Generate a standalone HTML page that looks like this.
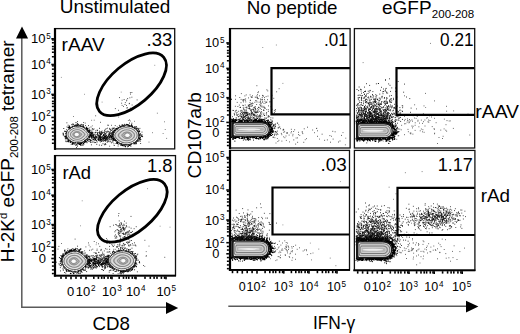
<!DOCTYPE html><html><head><meta charset="utf-8"><style>html,body{margin:0;padding:0;background:#fff;}svg{display:block;}text{font-family:"Liberation Sans",sans-serif;}</style></head><body><svg width="520" height="334" viewBox="0 0 520 334" font-family='"Liberation Sans", sans-serif' fill="#000"><rect x="0" y="0" width="520" height="334" fill="#fff"/><path d="M99 138.6h0M99.2 136h0M93.6 136.3h0M109.9 138.4h0M109.3 137.8h0M104.2 137.6h0M87.7 139.7h0M105.1 138.6h0M87.5 131.4h0M93.9 135.5h0M103.4 136.9h0M105.2 134.9h0M103.5 138.3h0M95.7 142.5h0M105.5 140.8h0M96 134.6h0M98.2 136.7h0M106.1 137.8h0M97.4 133.9h0M96.8 140.9h0M94.5 137.8h0M104.4 132.2h0M101.4 141.2h0M84.9 136h0M100.2 134.4h0M105 136.8h0M89.3 139.6h0M106.4 140h0M112.5 138.2h0M102 132.8h0M105.9 135h0M97.4 133h0M93.3 135.3h0M111.3 130.5h0M89.3 137.8h0M112.5 138.9h0M85.8 128.9h0M103.9 134.6h0M92 140.1h0M109.8 137.5h0M103 138.4h0M113.8 139h0M105.1 138.8h0M88.5 141.1h0M108.6 138.7h0M85.2 135h0M107.7 131.2h0M99.5 140.3h0M90.5 142.2h0M105.4 136.5h0M103.6 139.1h0M102 140.7h0M95.7 135.7h0M109.3 137.1h0M94 140h0M112.7 135.6h0M90 136.6h0M99.8 136h0M112.2 133.7h0M111.1 132.9h0M94.7 139h0M110 139.7h0M103.8 137.5h0M102.2 138.8h0M99.6 137.9h0M105.6 137h0M107.1 138.8h0M117.1 138h0M97.6 135.8h0M100.9 140h0M98.3 138.2h0M115.7 128.8h0M92 137.8h0M104.2 137.8h0M97.6 139.1h0M103.3 135.3h0M120.4 138.1h0M96.6 136.7h0M99.2 136.8h0M79.2 135.4h0M109.1 133.3h0M100.5 140.1h0M107.8 141.8h0M87.4 135.9h0M98.3 139h0M109.7 128.4h0M109.7 132.4h0M106.5 132.2h0M102.4 140.8h0M99.8 137.6h0M107.4 137.5h0M100.3 141.9h0M109.4 136.1h0M123 133.3h0M108.3 136.1h0M102.1 139.3h0M102.8 139h0M88.8 132.2h0M105.9 133.9h0M92.8 132.3h0M111.1 139.4h0M112.8 134h0M101 133.4h0M107.1 142.1h0M93.9 142h0M108.9 136.4h0M85.2 141.5h0M100.2 135.1h0M104.2 138.3h0M113 133.7h0M110.1 141.8h0M112.6 136.4h0M95 140.3h0M101.9 137.4h0M112.4 136.2h0M82.6 135.8h0M86.2 139.6h0M103.5 135h0M100.9 139.7h0M101.6 141.2h0M100.5 140.3h0M112.9 142.2h0M95.6 139.8h0M86 133.5h0M85.3 140.4h0M91.1 137h0M99.5 136.9h0M96.3 137.7h0M115.3 137.1h0M105.2 140.2h0M99.4 133h0M96.6 140.4h0M87.8 135.1h0M109.1 139.5h0M101.1 139.6h0M102.3 133.2h0M88.5 135h0M108.4 135.2h0M93.8 134.5h0M88.7 136.6h0M91.6 138.2h0M82.1 138h0M95.9 130.8h0M106.8 136.1h0M83.2 134.2h0M103.3 135.5h0M107.2 139.4h0M106.3 138h0M111.7 139.1h0M104.6 130.3h0M108.2 141.2h0M98.6 135.5h0M116.5 131.4h0M104.8 144.8h0M93.6 139.2h0M116.1 136.6h0M105.5 139.9h0M93.8 136.7h0M103.3 139.6h0M100.7 136.4h0M92.9 135.9h0M108.1 137.3h0M94.2 134.3h0M122.3 140.6h0M106.1 128.7h0M106 138.5h0M114.5 138.4h0M100.5 138.7h0M85.4 140.3h0M103.6 134.8h0M111.6 142.8h0M89.8 134.9h0M103.3 137.6h0M97.8 133.9h0M118 140.3h0M91.4 132.7h0M114.6 140.2h0M115.6 139.6h0M94 137.8h0M83.7 134.6h0M100.5 138.7h0M95.2 136.6h0M104.7 138.2h0M106.1 137.7h0M98.4 139.5h0M101.4 134.4h0M96 137h0M100.1 137.5h0M101 137.6h0M99.9 133h0M104.4 140.4h0M104.5 136.4h0M104.6 133.9h0M85.8 137.2h0M93.6 139.4h0M92.3 128.6h0M92.7 142h0M97.9 132.6h0M94.9 138.7h0M105 137.6h0M112.9 139.3h0M100.8 138.9h0M114.2 140.1h0M109.2 133.5h0M99.8 139.3h0M98.6 140.4h0M105.8 139.9h0M99.3 145.1h0M110.9 136.3h0M101.7 145.3h0M98.3 139.8h0M108.8 137h0M91.7 137.6h0M103.9 140.6h0M107.3 137.1h0M107.8 138.7h0M102.6 137.2h0M99.1 139.2h0M92.6 135h0M101 132.3h0M97.5 130.6h0M95.5 138.8h0M105.5 136.8h0M99.1 132.5h0M115.6 138.7h0M109.7 134.2h0M99.5 131.2h0M107.2 140h0M85.8 136.8h0M106 131.4h0M86.4 133.6h0M96 132.5h0M101.3 137.8h0M106.1 139.2h0M113 140.7h0M90.5 135.4h0M92.5 133.6h0M100.3 137h0M104.9 131.9h0M91.1 136.9h0M99.4 136h0M100.5 134.6h0M106.6 138.1h0M100.3 134.8h0M99.6 128.3h0M93.1 137.1h0M89 137.6h0M102.2 132.6h0M99 136h0M104.7 139h0M100.7 134.3h0M99.8 136.8h0M106.9 137.9h0M95.2 132.7h0M98 134.6h0M92.1 136.6h0M97.1 137.3h0M105.2 135.7h0M119.6 136h0M109.8 137.4h0M109.9 129.4h0M95 137.8h0M105.8 144.5h0M103.6 141.1h0M107.1 140h0M105.1 136.5h0M105.1 133.5h0M110.5 133.7h0M103 143.8h0M99.2 137.1h0M110.3 137.1h0M94.5 137.8h0M105.7 139.3h0M94.8 142.6h0M114.3 137.1h0M103.1 135.6h0M112.3 134.7h0M106.4 135.5h0M95.4 139.3h0M111.7 137h0M95.6 139.6h0M100.6 138h0M113.2 140.6h0M96.8 144.3h0M101 139.5h0M95.8 136.9h0M87 142.7h0M111.9 133.1h0M89 131.8h0M110.4 135.5h0M100.5 136h0M100 133.5h0M101.2 132.4h0M100.4 138h0M104.7 136.3h0M93.8 137.5h0M97.1 142h0M107.1 136.6h0M97.2 134.8h0M93.5 135.9h0M103.4 138.6h0M105.6 143.7h0M95.4 137h0M123.4 131h0M96.8 137.5h0M102.2 138.3h0M99.1 138.2h0M101.4 139.5h0M85.9 134.2h0M101 133.7h0M92.6 139h0M95.8 139h0M107 138h0M105.1 136.7h0M89.7 136.9h0M104.6 135.3h0M100.2 139.4h0M94 139h0M115.9 135.2h0M102.2 136.5h0M113.3 138h0M108.2 134.8h0M100.9 137h0M86.8 141.6h0M108.2 131.4h0M107 136.6h0M104.6 138.2h0M89 136.3h0M112.9 135.2h0M92.8 132.6h0M93.9 267.9h0M99.7 263.1h0M104.3 259.2h0M105.8 263.4h0M85.1 264.2h0M102.7 263.6h0M111.5 260.5h0M102.4 264.7h0M90.3 266.3h0M85.7 257.3h0M102.4 258.1h0M97 256.1h0M98.6 257.9h0M100.9 256.5h0M101.8 261h0M98.5 261.8h0M99.1 257.2h0M76.2 262.1h0M90 260.4h0M101.6 254.9h0M91.5 259.8h0M89 263.2h0M96.8 259h0M89.6 264.9h0M92.4 264.1h0M101.8 255.2h0M88.8 262h0M100.9 264.8h0M104.8 265.7h0M94.8 261.2h0M104.6 260.5h0M107 256.3h0M103.6 261.4h0M81.3 265.5h0M100.6 262.1h0M88.8 260.3h0M110.9 259h0M68.5 258.9h0M87.8 261.5h0M94.7 258.7h0M90.8 265.8h0M85.7 269h0M93.4 258.1h0M104.7 264h0M89.1 264.7h0M82.4 258.7h0M107.6 261.1h0M86.9 263.9h0M105.8 261.9h0M82.6 260.8h0M101.6 264.8h0M113.8 261.1h0M93.9 261.9h0M108.3 258.6h0M109.1 252.1h0M104.8 259.6h0M101.9 264.5h0M87.9 261.7h0M100 264.1h0M90.1 258.4h0M81.6 271.1h0M96.4 261.2h0M85.3 265.3h0M93.5 267.2h0M105.2 262.1h0M104.2 258h0M95.2 259.9h0M87.2 262.1h0M96.8 267.2h0M69.5 259.6h0M90.2 260.3h0M101.6 263.5h0M98.2 260.3h0M102.2 263.3h0M82.3 261.1h0M86.3 257.7h0M99.2 262.2h0M99 258.8h0M96.3 258.7h0M101.2 264.5h0M112.9 266.6h0M91.2 260.4h0M90 263.1h0M114.8 264.6h0M79.3 257.5h0M87 263.9h0M98 263.1h0M113.1 259h0M90.8 269.1h0M100.9 259.2h0M80.8 256.5h0M77.2 262.2h0M98.4 265.6h0M96.8 259.5h0M91.7 268.8h0M83 262.6h0M98.2 264.2h0M94.6 263.8h0M104.9 261.5h0M94.1 261.3h0M89.8 261.3h0M95.4 262.8h0M109.4 266.7h0M94.2 264.2h0M100.5 264.7h0M98.2 263h0M94 259.2h0M105.4 266.7h0M103.6 263.6h0M100.3 260.4h0M82.8 264.4h0M99.7 260h0M89.8 266.6h0M82.7 268.3h0M103.4 270.5h0M91.9 261.9h0M93.7 262.6h0M96.2 259.3h0M107.1 259.2h0M93.7 264h0M93.4 260.4h0M101 260.7h0M87.4 261.6h0M96.1 268.1h0M88.7 265.5h0M91.3 260.7h0M95.2 263h0M105.3 268.3h0M92.6 266.8h0M106.5 264.9h0M91.5 265.2h0M97.1 263.3h0M95.7 264.4h0M107.5 266.1h0M96.3 265.6h0M110.3 258.6h0M110.5 257.2h0M102.6 264.1h0M110.6 263h0M93.9 259.1h0M87.4 264.8h0M96 259.4h0M102.5 259.2h0M94.3 260.3h0M112.1 267.3h0M96.7 256.3h0M100.4 262.3h0M101 264h0M95.3 265.3h0M105.1 262.8h0M94.5 260.3h0M103.9 258h0M96.6 259.3h0M86.2 264.2h0M97.8 262.1h0M105.4 256.6h0M97.4 263h0M105.1 258.1h0M104.1 262.8h0M109.5 266.1h0M102.7 269.7h0M98 260.5h0M95.1 258.6h0M97.8 255.2h0M97.3 263.5h0M106.4 260.7h0M109.8 259.7h0M96.9 255.2h0M91.5 259.2h0M110.4 263.9h0M88.8 263.9h0M102 261.2h0M98.2 260.9h0M93.5 255.8h0M97.2 266.5h0M109.9 261h0M91.8 261.3h0M105.4 263.2h0M93.2 263.3h0M96.3 263.8h0M94.6 256.8h0M98.5 264.7h0M88.8 261.6h0M105.3 260.7h0M92.6 269.1h0M104.9 265.6h0M90.2 267.7h0M84.3 260.2h0M104.1 266.7h0M90.3 259.7h0M99.6 255.2h0M103.3 264h0M94.3 263.9h0M104.4 263.1h0M102.3 267.3h0M94.1 262.6h0M93.7 265.6h0M94.6 263.7h0M99.1 262.2h0M112.1 261.7h0M109.7 264.9h0M108.9 261.4h0M105.6 264.6h0M92.9 262.9h0M96.9 261.9h0M108.7 259.5h0M84.2 255.9h0M94.3 259.8h0M98.1 264h0M112.4 263.1h0M101.8 259.4h0M102.8 266.7h0M109 255.2h0M105.3 267.5h0M104.8 256.8h0M95.5 264h0M101.4 259.2h0M90.7 265.4h0M87.1 267h0M98.2 263h0M87.1 259.9h0M103.6 256.9h0M114.9 257.1h0M88 262.1h0M101.9 264.5h0M95 261.3h0M96.1 260h0M76.9 265.3h0M100.1 262.5h0M92.9 262.9h0M97.9 261.7h0M107 256h0M100.1 258.3h0M95.4 267.2h0M89.1 261.7h0M93.2 265.3h0M90 256.2h0M102.2 260.8h0M95.4 265.7h0M90.8 260.7h0M99.2 263.4h0M93.8 265.6h0M116.3 260.6h0M113.3 254.7h0M109.5 260.8h0M99.1 260.8h0M92.8 257.6h0M94.8 266.5h0M107.3 260.8h0M93.7 259.6h0M88.2 268.2h0M103.4 262.4h0M94 258.5h0M108.7 264.7h0M90.2 265.4h0M89 264.2h0M90.2 260.6h0M102 263.5h0M106.3 259.1h0M110.9 266.6h0M97.9 263.6h0M91.7 261.5h0M87.2 262.3h0M99.6 266.6h0M105.7 264.8h0M95 261.2h0M95.2 262.8h0M82.2 264.7h0M85.2 260.2h0M98.2 260.2h0M111.6 261.7h0M110.8 266.1h0M93.9 263.4h0M108.6 260.8h0M98.7 260.1h0M98.5 260.8h0M98.7 265.5h0M109.4 262.5h0M99.6 265h0M95.6 258.3h0M107.1 258.8h0M105.6 258.7h0M112.9 258.4h0M104.9 267.2h0M90.2 267.1h0M91.3 255.9h0M103.9 264.4h0M96.3 253.3h0M97.6 260.9h0M94.9 261h0M83.4 260h0M112.7 267.3h0M95 259.5h0M101.2 265.7h0M103.9 258h0M99.3 262.5h0M109.7 266.1h0M102.3 266.2h0M94.8 267.3h0M94.5 263.4h0M105.5 258.8h0M92.3 255.9h0M99.3 261.8h0M95.3 263.7h0M80.7 261.9h0M98.7 261.1h0M104.5 268.1h0M94.4 258.8h0M93.1 262.3h0M102.8 259h0M106.2 258.5h0M104.7 263.5h0M101.8 269.5h0M95.8 261.4h0M101.9 265h0M87.1 263h0M91.9 264.2h0M109.2 262.2h0M97.1 262.6h0M73.9 264.7h0M102.6 262.6h0M94.8 259.5h0M96.5 266.2h0M97.2 266.7h0M77 260.4h0M100.2 262h0M84.5 259.7h0M108.2 257.5h0M89.9 258.2h0M93.5 264.2h0M102.8 255h0M109.9 260h0M93.2 267.8h0M97.3 257.7h0M92.8 259.5h0M89.8 260.8h0M105.2 263.2h0M86.7 271.6h0M89.9 262.4h0M98.3 264.6h0M95.3 263.6h0M115.2 262.3h0M89.2 263.1h0M91.4 260.7h0M99.5 263.2h0M95.7 264.9h0M96.4 257.5h0M105.2 260.7h0M107.9 259.7h0M102.7 263.1h0M76 256.8h0M88.9 266.9h0M82.6 265.2h0M106.9 263.7h0M103.5 260.3h0M97.9 262.8h0M101.4 264.4h0M96.3 259.6h0M93.4 263.4h0M84.4 257.7h0M94.6 260.1h0M95.8 252.8h0M95.2 261.1h0M104.3 255.2h0M95.5 263.6h0M102 266.1h0M106.6 258.4h0M103.2 260.8h0M91.4 267.3h0M92.9 259h0M94.7 259.1h0M106.2 263.3h0M109.4 263.4h0M93 265.6h0M92.6 260.4h0M96.6 262.1h0M107.8 259.9h0M100.9 261.9h0M87.7 258.2h0M96.2 263.4h0M376.6 118.8h0M361.4 108.4h0M381.5 115.6h0M385.5 120.8h0M371.7 110.7h0M368.7 113.8h0M387.6 109.5h0M383.7 110.2h0M366.3 110.8h0M364.8 115h0M377.3 114.4h0M381.1 124.7h0M374.9 111.9h0M370.9 116.5h0M368.7 122h0M386.5 125.8h0M379.1 105.3h0M371.4 119.9h0M363.5 114.3h0M383.6 117.6h0M359.7 114.4h0M358.6 116.7h0M359 112.9h0M366.9 129.2h0M359 111.8h0M366.6 121.6h0M382.4 120h0M369.2 117.5h0M363.9 116.2h0M363.5 110.6h0M361.3 125.4h0M377.6 113.7h0M371.7 115h0M387.3 116.8h0M365.5 120h0M376.7 114h0M363.9 117.6h0M384.8 120.8h0M386.1 115h0M366 115.8h0M367.3 122.6h0M370.3 122.9h0M364.6 118.6h0M392 113.7h0M365.3 114.3h0M365.4 126.6h0M367.3 107.6h0M384 121.1h0M372.5 118.2h0M381.4 114.5h0M373.4 117.6h0M392.4 123.1h0M374.9 111.1h0M383.3 116.7h0M386.7 117.2h0M375.1 119.8h0M364.4 114.1h0M399.9 113.2h0M383.9 119.9h0M382.6 122.9h0M357.2 121.1h0M376.9 121.5h0M385.7 112.9h0M369.7 116.3h0M364.8 113.4h0M365.2 122h0M388.9 120.2h0M392.7 117.3h0M360.2 114.1h0M375.3 121.4h0M387.2 113h0M384.2 114.6h0M380 121h0M390.4 114.6h0M375.8 118.8h0M368 117.3h0M380 109.7h0M365.4 127h0M378.3 114.5h0M379.1 119.9h0M378.2 119.5h0M365.9 123.9h0M359.7 119.2h0M369.8 109.5h0M383.6 115.7h0M381.3 122.5h0M374.9 114h0M370.4 116.6h0M390 120.7h0M391.6 120.3h0M364 121h0M384.4 116.4h0M378.4 115.5h0M358.1 116.5h0M382 115.4h0M385.8 117.9h0M386.2 113.6h0M368 112.6h0M363.8 119.2h0M374.6 114.8h0M376.5 111.2h0M368.4 110.4h0M360 123.8h0M389.2 122.4h0M366.1 119.7h0M359.6 114.6h0M375.8 109.9h0M375.3 119.6h0M369.7 116.4h0M374.7 112h0M379.7 117.5h0M364.3 124.1h0M376 120.2h0M394.9 114.8h0M370.4 109.3h0M370.3 118.8h0M402.6 119.4h0M375.4 111.4h0M362.9 108.8h0M356.7 117.4h0M376.5 112.9h0M370.4 113.4h0M380.3 119.7h0M366.4 114.9h0M358.5 114.9h0M398.8 116.9h0M383.1 119.5h0M390.4 115.5h0M362.3 121.5h0M383.9 114h0M385.9 116.9h0M372.5 125h0M379.3 118.3h0M369.2 117.8h0M385.5 118.9h0M364 118.9h0M371.6 118.3h0M370.7 107.4h0M397 120h0M367.5 118.4h0M384.7 117.8h0M357.5 121.2h0M366.7 114.4h0M375.3 115.6h0M397.2 116.3h0M398.5 118.9h0M358.3 116.9h0M373.6 123.2h0M388.2 128.1h0M365.1 115h0M400.7 113h0M377.2 124h0M361 115.4h0M364.1 119.2h0M377.8 116.8h0M380.8 113.5h0M368.5 119h0M397 116.8h0M373.7 122.7h0M373.9 122.6h0M375.8 122h0M375.2 112.9h0M362.8 118.8h0M395.4 125.1h0M369.2 127.9h0M359.7 113.2h0M384.1 110.2h0M383.9 118.6h0M380.5 111.6h0M377.6 121.1h0M372.4 121.5h0M373.3 118.4h0M369.2 111h0M371.1 119.1h0M363.9 108.3h0M370.3 113.6h0M387.8 116.2h0M362.5 116.1h0M362.1 117.2h0M378.5 114.4h0M370.6 116.2h0M382.9 113.8h0M382 122.4h0M370.7 112.7h0M369.3 109.1h0M366.5 111.7h0M371 115.3h0M379.2 117.4h0M378.1 116.7h0M376.4 111.9h0M380.9 122.7h0M386.3 111h0M378 109.8h0M382.1 116h0M367.5 113.6h0M370.2 116.9h0M361.5 117.2h0M376.1 119.3h0M372.5 116.9h0M400.7 121.4h0M376.9 110.8h0M380.4 119.5h0M377.6 117.1h0M374.2 116.3h0M389.6 118.6h0M369.6 115.9h0M398 113.1h0M366.7 118.4h0M374.8 118.3h0M389.3 122h0M378.1 117.1h0M372.3 115.9h0M385.1 111.3h0M360.5 114.9h0M361.5 113.7h0M387.3 107h0M379.9 111.1h0M370.1 114.4h0M361.1 110.4h0M373.9 103.8h0M386.2 125.2h0M369.5 113.4h0M369.6 119h0M384.2 112.7h0M378.7 116.8h0M386.7 115.1h0M370.5 113.2h0M357.1 118.1h0M381.5 121.9h0M376.2 114.9h0M362 111.8h0M364.3 118.4h0M374.1 106.8h0M371.8 115.7h0M360.5 116.9h0M379.4 112.4h0M356.8 115.5h0M376.2 115.8h0M391.5 117.6h0M361 120.4h0M365.2 120h0M374.2 122.4h0M361 120.2h0M378.1 112.9h0M381.4 127h0M377.3 113.5h0M371.2 122.7h0M376.1 123.5h0M365.2 122.8h0M369.5 114.8h0M387.7 114.3h0M377.2 125.2h0M382.9 115.1h0M364.2 108h0M377.6 120.9h0M386.3 118h0M398.9 120.4h0M382.6 115.2h0M383.1 128.4h0M363.9 126.8h0M372 110.4h0M374.2 121h0M366 124h0M362.5 116.1h0M384.1 116h0M366.3 116.9h0M380.9 124.7h0M389.3 125.3h0M372.7 109.6h0M372.5 115.1h0M361.1 114.7h0M372.2 117.2h0M384 112.9h0M386.8 117.2h0M381.8 122.5h0M358.1 124.1h0M364.4 118.8h0M386.1 121.1h0M386.6 116.4h0M372 117.3h0M392.7 114.5h0M361.7 112h0M366.7 115.9h0M377.2 116.6h0M381.2 120.2h0M356.7 121.2h0M380.1 109.5h0M379.1 116.8h0M367.6 115.3h0M370.3 116.5h0M362.2 114.4h0M379.7 119.4h0M357 114.8h0M391.8 120.2h0M392.8 110.9h0M360.5 107.2h0M360.4 112.1h0M364.6 116.2h0M383 119.5h0M369 112.5h0M372.6 115.2h0M356.3 124h0M366 114.3h0M379.5 124.5h0M378.8 112.9h0M378.3 122h0M377.6 119.9h0M367.2 116.7h0M359.3 117h0M391 106.9h0M357.1 112.8h0M371.9 122.2h0M363.7 113.5h0M387.6 118.7h0M379.3 120.7h0M364.1 118h0M365.1 113.7h0M374.6 119h0M357.7 113.5h0M380.3 117.7h0M381 115.6h0M363.3 120.5h0M380.2 104.2h0M383.4 113.6h0M381 124.1h0M369.6 112.6h0M376.1 117.4h0M379.8 110.7h0M376 121h0M381.4 119.8h0M387.4 113.3h0M387.7 117.9h0M361 115.7h0M376.3 118.5h0M389.3 117.9h0M366.9 126.9h0M369 113.3h0M384.2 115.1h0M363.5 112.2h0M387.3 112.2h0M374.2 114.9h0M370.7 113.3h0M374.8 119.7h0M385.7 115.4h0M359 110.3h0M373.1 105.8h0M389 117.1h0M374.5 110.7h0M365.3 113.6h0M381.2 115.2h0M380.5 119.3h0M388.2 114.7h0M374.6 116.4h0M358.3 126.9h0M371.5 119.9h0M367.7 123.3h0M386.9 122.3h0M384.5 120.2h0M389.7 118.8h0M374.7 120.7h0M362.3 105.5h0M382.8 117.7h0M364.6 115.8h0M361.6 113.2h0M375.3 117.5h0M383.1 116.6h0M380.7 120.1h0M364.7 109.4h0M364.9 115.9h0M366.7 127h0M364.9 119.1h0M363.9 120.1h0M357.9 121.3h0M375.3 115.2h0M358.8 124.5h0M366.2 123.5h0M394.9 125.1h0M373.3 121.5h0M380.4 115.4h0M374.7 111.8h0M357 117.6h0M381.9 117.7h0M358.4 120.8h0M374.2 120.4h0M369.7 115.8h0M385.7 123.2h0M358.7 112h0M384.7 118.6h0M373.8 112.6h0M385.3 117.8h0M375.7 118.7h0M366.9 118.8h0M374.7 120.2h0M377.7 111.2h0M364.7 115.8h0M387.1 114.1h0M386.7 121.9h0M383.6 127.2h0M373 118.4h0M387.8 118.8h0M385.1 116.4h0M390.1 118.6h0M370.9 113h0M369.6 115.7h0M386.9 118.5h0M372.3 116.9h0M362.4 114.1h0M367.6 116h0M359.2 115.2h0M385.2 119h0M373.2 118.6h0M370.3 111.6h0M383.7 127.1h0M379.3 120.1h0M402.6 111.5h0M379.5 115.5h0M369.9 109.5h0M372.2 118.8h0M367.3 112.5h0M380.7 124.4h0M378.2 121.6h0M382.3 116.7h0M380.1 123h0M368.1 116.3h0M356.7 108.6h0M363.4 121h0M377.5 118.2h0M388.9 109h0M389.6 117.4h0M382.4 123.2h0M363.5 113.1h0M378 116.7h0M366.2 116.4h0M364.5 117.6h0M368.6 124.7h0M360.7 119.6h0M374.1 124.1h0M361.6 114.9h0M393.8 114h0M368.6 115.2h0M361.5 122.5h0M391.2 116.3h0M364.2 110.9h0M381 114.6h0M379.7 106.1h0M368.1 119.8h0M378.1 104.1h0M376.7 117.6h0M372.9 115.5h0M367.9 117.6h0M379.5 241.8h0M391.6 238.1h0M370.5 241.3h0M371.8 236.8h0M365.2 231.9h0M375 241.2h0M380 235.9h0M377.8 234.7h0M357.8 233.3h0M369 237.6h0M391.2 243.1h0M397.7 239.7h0M376.1 233.4h0M378 243.2h0M379.9 232.1h0M386.1 245.9h0M385.1 248.5h0M363.2 238.4h0M383 243h0M390.6 238.3h0M364.6 238.1h0M364.3 239.3h0M368.8 242.1h0M364.5 242.7h0M363.6 243.9h0M387.4 238.8h0M370.3 240.3h0M378.2 234.8h0M381.3 231.4h0M358.9 234.1h0M375.2 235.5h0M366 237.6h0M376.8 240.4h0M379.8 233.7h0M376.6 242.9h0M381.8 244.9h0M375.3 248.5h0M387.2 238.4h0M373.9 243.4h0M358.2 237.5h0M365.8 243.8h0M379.6 240.2h0M387.5 237.9h0M362 242.7h0M372.7 232.4h0M375.2 235.4h0M389.2 242.1h0M383.7 243h0M372.9 243.5h0M380.2 241.3h0M385.7 247h0M381.2 235h0M370.4 236.7h0M384.6 245.5h0M374.3 236.2h0M366.1 238.2h0M375.2 240h0M375 240.4h0M364.1 238.5h0M360.9 239.9h0M375.7 237.3h0M374.7 243.1h0M373.7 246.8h0M387.3 239.5h0M370.6 234.2h0M360.1 239.8h0M374.4 240.4h0M392.9 240.7h0M377.7 238.1h0M359.9 237.1h0M371.8 241.9h0M381.1 234.9h0M371.7 242.1h0M386.7 240.5h0M398.8 234.8h0M383.8 238.3h0M375.7 237.9h0M387.4 237.7h0M381.7 239h0M366.7 240.6h0M385.6 244.8h0M387.2 232.2h0M357.1 238h0M387.1 231.4h0M374.6 234.2h0M382.3 243.2h0M369.7 244.5h0M381.9 238.4h0M390.3 247.6h0M372 240.1h0M377 242.3h0M368.2 238.1h0M387.2 238.6h0M388.8 240.2h0M393.5 245h0M359.3 241.9h0M370.2 236.7h0M383.4 243.3h0M379.3 243.5h0M392.5 240.5h0M380.5 241h0M391.1 235.6h0M372.3 234.2h0M366.5 240.5h0M368.9 236.1h0M370.4 243.6h0M397.9 239.6h0M364.5 239.9h0M365.8 240.4h0M381.4 246.9h0M364.3 238.6h0M363.3 243.4h0M361.9 244.3h0M394.7 232.3h0M386.2 248.3h0M374.5 238.9h0M397.4 238.3h0M372.1 235.5h0M381 244.4h0M364 242.5h0M379.3 245.4h0M372.1 236.1h0M376 241h0M370.1 235.4h0M380.9 232.7h0M359.5 238.7h0M357.1 241.1h0M378.3 244.6h0M363.3 240.2h0M387.6 235.9h0M377.8 243.7h0M386.6 238.9h0M377.6 236.3h0M379.8 240.8h0M367.1 248.7h0M381 235.8h0M373.8 241.1h0M360.9 235.5h0M382.2 238.8h0M372.6 243.3h0M370.2 233.2h0M360 238.5h0M371 237.6h0M362.8 232.1h0M370.4 240.8h0M376.6 241.6h0M408.6 234.4h0M366 239.8h0M372.2 251.9h0M372.2 238.7h0M373.4 238.2h0M365.3 243.5h0M377.3 240.4h0M370.1 231.5h0M367.7 230.1h0M365.8 240.5h0M370.2 239.4h0M392.2 241.3h0M385.3 237.8h0M369.3 233.5h0M391 243.7h0M372.4 241h0M376.3 244.6h0M379.4 238.7h0M360.7 229.2h0M387.6 236.2h0M370.4 241.6h0M392.6 229.6h0M371.5 237.1h0M383.1 237.5h0M360.5 233.5h0M397.1 233h0M369.5 243.9h0M373.2 230.9h0M373.3 238.9h0M389.3 235.7h0M359.8 239.9h0M380.9 238.7h0M372.5 234.1h0M356.5 240.3h0M390 242.3h0M402.2 235h0M376.3 235.6h0M383.2 244.4h0M372.4 242.8h0M370.1 242h0M389.1 238.9h0M365.6 236.8h0M385 242.6h0M379.1 236.7h0M381.8 239.6h0M368.8 235.8h0M378.8 236h0M388.8 231.7h0M360.9 239.8h0M356.2 236.5h0M368 239.7h0M389.8 237.3h0M366.9 244.3h0M372.9 242.2h0M373.7 236.9h0M365.6 235h0M363.5 239.7h0M372.5 242.2h0M374.3 240.7h0M362.5 232.4h0M385.2 246.3h0M369.5 242.5h0M362.4 235.3h0M377.7 242.5h0M380 243.5h0M374.1 238.4h0M374.1 235.4h0M368.7 232.2h0M358.9 242.2h0M366.4 229.7h0M359.3 242.2h0M372.2 238.7h0M380.1 243.7h0M369.3 240h0M397 241.5h0M366.5 235.6h0M367.5 243.7h0M367.9 241.6h0M375.3 232.6h0M367.1 230.9h0M371.2 235.9h0M384 231.6h0M376.4 235h0M367 232.1h0M395.2 238.1h0M374 248.3h0M361.8 237.9h0M368 241.1h0M382 239.3h0M387.2 237.7h0M357.5 232.1h0M383.2 237.6h0M378.8 241.9h0M362.1 244.3h0M381.9 245.7h0M381.6 234.3h0M380 239.5h0M369.9 240.7h0M392.8 244.3h0M368 242h0M385.4 239.6h0M386.1 241.4h0M367.7 244.7h0M370.1 237.1h0M368.4 231.7h0M385.8 234.1h0M382 240.4h0M377.5 237.8h0M361.5 240.2h0M382.4 238.8h0M384.7 229.2h0M362 228.3h0M367.8 239.7h0M357.7 236.8h0M371.9 235.7h0M370.2 242.9h0M373.1 243.3h0M378.3 236.9h0M373.9 242.8h0M366.2 236.3h0M387.8 242.4h0M380.8 236.9h0M370.8 240.6h0M378 242.6h0M359.8 242.6h0M360.9 235.1h0M367.2 236.8h0M385.6 243.9h0M398.5 236.2h0M374.9 244.4h0M395.8 243h0M364.2 238.7h0M374.8 236.2h0M360.5 243.7h0M362.5 243.3h0M360 235.8h0M395.5 236.4h0M368.3 242.5h0M386.7 242.3h0M390.8 238.5h0M379.4 234.8h0M369.2 238.9h0M399.5 236.3h0M363.5 238.2h0M365.3 239.2h0M366.7 234h0M364.5 231.2h0M393.4 244.6h0M371.6 239.9h0M381.3 240.3h0M362.2 235.4h0M382.8 237.9h0M378.1 237.4h0M383.6 238.4h0M376 241.4h0M389.1 237.1h0M362.3 235h0M391.9 238.6h0M360 233.8h0M377.7 240.4h0M377.8 234.4h0M364.7 238.9h0M368.3 239.3h0M368.9 238.8h0M375.2 241.6h0M388.6 238.8h0M387.5 241.6h0M389 239.1h0M399.7 241.2h0M369.1 243.4h0M364.5 242.5h0M357.4 237.9h0M371.7 243.7h0M363.2 240.4h0M386.5 231.7h0M391.8 238.7h0M375.6 246.9h0M372.3 242h0M388.2 245h0M387.9 236.6h0M377.6 233.2h0M358.1 237.8h0M369.3 236.7h0M363.7 245.9h0M357.1 241.2h0M357.7 240.3h0M362.7 232.1h0M388 237.9h0M370.9 240.4h0M409.3 237.2h0M373.1 237.7h0M394.1 241.6h0M366 240h0M367.5 235.8h0M391.6 238.3h0M366 244.8h0M369.6 243.1h0M359.3 237.4h0M383.9 246.1h0M369.3 237.1h0M385.7 238.5h0M366.1 238.1h0M370.2 236.9h0M386.2 245.7h0M361.9 236.3h0M371.3 235.9h0M374.1 239.6h0M372.9 236h0M376.6 233.9h0M368.3 238.4h0M373.5 242.4h0M370.7 234.9h0M378 238.4h0M382.5 245.7h0M391.5 238.9h0M360.9 239.9h0M370.6 236h0M361 243.2h0M385.9 235.2h0M377.9 238.7h0M374.6 242.9h0M364.1 238.1h0M385.6 237.3h0M364.6 232.8h0M378.1 236.1h0M361.1 237.1h0M363.8 250.8h0M366.1 242.1h0M357.3 242.4h0M377.2 237.4h0M400.2 235.1h0M359.6 227.4h0M372.1 242.1h0M371.9 235.8h0M361 245.6h0M367.4 246h0M371.6 237.5h0M368.3 241h0M382.7 237.5h0M379.1 233.8h0M367.1 236.3h0M381.4 237.5h0M367.6 237.7h0M396.3 241.3h0M377.2 230.1h0M365.8 242.1h0M359.7 233.8h0M378.1 235.1h0M374.6 231.3h0M368.2 246.3h0M371.4 239.5h0M371 241.9h0M364.6 235.2h0M375.2 239.9h0M368.2 242.9h0M372.9 233.9h0M368.2 241.7h0M385.5 238.2h0M380.7 244.3h0M376.4 244.8h0M380.8 235.1h0M357.7 235.6h0M393.7 243.7h0M361.8 238.8h0M398.1 235.7h0M373 237.6h0M383.3 231.4h0M377 239.7h0M386.9 240.7h0M377.6 235.2h0M376.4 236.9h0M395 240.3h0M373.4 239.6h0M373.9 237.4h0M380.9 238.9h0M362.1 242.6h0M382.2 243.6h0M368 242.8h0M391.5 241.6h0M377.9 238.8h0M372.3 243.2h0M379.5 236.9h0M375.7 238.6h0M364.2 238.9h0M383.5 234.4h0M368 238.9h0M360.7 235.3h0M378.6 247.6h0M374.1 236.9h0M392.5 239.6h0M390.9 247.2h0M413.2 243h0M369.1 236.4h0M368.3 234.7h0M361.8 240.4h0M374.8 239.8h0M371.2 233.1h0M380 239.1h0M383.1 239.7h0M361 242.8h0M382.7 238h0M381.9 240.8h0M367.4 239.9h0M364 244.4h0M367.8 242.9h0M395.1 239.3h0M381.4 244.9h0M380.6 234.2h0M375.2 247.7h0M374.5 244.6h0M386.2 236.5h0M377.7 246h0M363.7 239.5h0M366.6 236.9h0M370.9 230.5h0M365.6 232.2h0M361.6 236.8h0M385.9 234.7h0M384 237.4h0M363.9 232.3h0M375.2 238.7h0M382.9 236.6h0M389.6 239.2h0M374.9 241h0M376.5 249.4h0M372.1 241.1h0M384.3 241.2h0M369.3 235.1h0M384.7 236.4h0M378.3 236.3h0M380.7 244.4h0M363.1 235.9h0M384.8 235.5h0M386.2 240.6h0M362.4 236.8h0M389.5 242.4h0M375.3 239.9h0M386.7 236.6h0M377.7 240.9h0M389.7 237.6h0M371.2 240.1h0M370.9 238.1h0M380.2 237.1h0M370.2 240.1h0M375 237.6h0M372.5 234.2h0M364.5 236.2h0M360.3 245.1h0M399 238.1h0M372.4 238.5h0M369.2 236.8h0M384.5 241.2h0M357.9 239.9h0M363.4 241.6h0M364.2 240.3h0M364.6 238.3h0M377.9 241.8h0M356.8 236.9h0M363.6 232.3h0M376.4 238.2h0M369.9 235.8h0M395 235.5h0M377 234.7h0M371.8 229.9h0M370.4 239.3h0M362.1 234.6h0M360.6 236.9h0M386.2 239.4h0M365.9 237.1h0M382.9 236.3h0M362.6 242.1h0M373.4 244.3h0M370.5 237.8h0M378.5 239.8h0M373.8 235.3h0M365.3 236h0M367.4 244.1h0M362.4 240.9h0M378.7 232.8h0M385.7 239.9h0M377.9 239.8h0M385.4 240.6h0M365.5 236.5h0M363 235.9h0M363 239.9h0M385 238.2h0M385.8 243.5h0M381.6 232.5h0M379.3 233.4h0M364.4 239.9h0M373.1 233.9h0M372.7 233.1h0M370.3 241.5h0M376.6 236.7h0M380.9 246.7h0M369.9 239.5h0M384.3 241.4h0M387.6 235h0M369.5 239.2h0M385 244.6h0M381.3 233.9h0M359.2 242.1h0M357.1 244.1h0M382.8 239.3h0" stroke="#000" stroke-width="1" stroke-linecap="round" fill="none"/><path d="M83.9 134.7h0M124.7 135.1h0M104.4 144.2h0M93.7 129.6h0M108.4 135.7h0M86.8 127.2h0M105.1 134.2h0M82.7 132h0M93.4 135.3h0M99.4 132.6h0M96.1 138.3h0M120.5 131.2h0M112.8 129.2h0M102 136.7h0M122.2 131.1h0M100 134h0M80 133.1h0M91.5 134.9h0M85.2 123.1h0M101.5 134.3h0M93.3 137.4h0M97.2 130h0M107.7 125.2h0M91.5 132.9h0M112.9 132.2h0M105.3 129.7h0M105.2 141.3h0M91.4 144.8h0M92 133.1h0M103.4 138.1h0M83.7 122.5h0M109.5 137h0M109.7 146.2h0M103.9 134.3h0M114 134.8h0M124.3 126.8h0M95.7 115.8h0M112.4 131.1h0M113.9 143.8h0M100.9 131.7h0M94 128.8h0M92.2 136.2h0M101.5 133.3h0M98.6 137.6h0M107.9 132.3h0M110.3 132.2h0M84.9 140.3h0M107.5 128.2h0M116.1 134.7h0M79.1 141h0M105.7 137.5h0M103.8 132.3h0M79.3 137.9h0M101.4 131.6h0M105.9 133.4h0M110.5 131.1h0M100.5 122.3h0M95.1 136.4h0M119.7 131.2h0M99.3 140.9h0M96.4 136.7h0M124.5 133.2h0M118.2 129.4h0M103.9 132.6h0M102.6 138.6h0M134.5 129.7h0M92.9 135.5h0M86.2 135.5h0M109 131.6h0M108.4 125.3h0M111.6 125.3h0M91.2 130.2h0M95.4 137.3h0M102.1 131h0M108.6 140.9h0M101.1 134.8h0M118.4 134.3h0M83 145.5h0M131.9 123.1h0M100.5 135.1h0M104.8 257.8h0M99 252.4h0M107 249.2h0M69.5 253.1h0M67.7 252h0M82.2 251.8h0M97 250.4h0M89 245.1h0M101.1 249.9h0M106.6 238.6h0M81 256.4h0M100 255.6h0M66.3 256.3h0M101.2 249.4h0M113.8 254.7h0M98.4 252.4h0M109.6 255.6h0M122.1 257.6h0M84.9 253.7h0M117.5 252.9h0M106.1 258h0M94.2 241.5h0M100.8 256.2h0M100.9 250.6h0M123.7 254.2h0M84.7 250.8h0M105.6 248.7h0M76.7 266.6h0M125.9 261.1h0M127 258.5h0M62.1 261.9h0M124.4 257.8h0M56.4 262.2h0M127.1 252.1h0M100.7 259.5h0M96.2 261.4h0M99.7 259h0M99.8 246.4h0M76.8 273.4h0M103.9 262.6h0M122.3 265h0M109.8 251.5h0M98.4 243.8h0M94 260.3h0M115.6 262.7h0M78.2 251.2h0M58 249.1h0M109.4 267h0M73.5 263h0M107.1 252.1h0M144.9 240.3h0M96.6 256.3h0M143.5 265.5h0M146.4 255.8h0M119 263h0M108.9 257.1h0M94.1 252.6h0M71.7 266.4h0M88.5 242.9h0M103.6 254.8h0M101.8 265.6h0M95.7 253.5h0M82 254.9h0M88.6 256.2h0M164.8 257.3h0M79.7 266.3h0M116.5 259.8h0M113.3 259.8h0M112.4 263.2h0M119.5 262.9h0M87.3 255h0M82.4 260.6h0M115.8 252.3h0M110.5 270.3h0M124.5 248.5h0M96 258.7h0M97.2 257.3h0M123.3 256.9h0M74.5 259.2h0M95.9 255.7h0M85.9 246.9h0M71.3 252.9h0M75.1 239.1h0M122.6 248.2h0M82.5 258.1h0M81.5 258.9h0M87.7 256.8h0M100.3 255h0M58.9 246.4h0M97.1 263.2h0M86.3 258.1h0M101.5 257.8h0M119.3 246.2h0M103.9 254h0M91.3 250h0M81.2 249h0M74.5 269.7h0M134.4 255.1h0M113.9 249.3h0M101 263.4h0M97.1 249.1h0M92.8 249.2h0M68.1 253.6h0M89.4 250.3h0M79 249.6h0M103.1 263.1h0M93.5 268.1h0M63.3 256.6h0M73.2 254.1h0M100.2 258.3h0M122.2 251.8h0M71.4 253.9h0M104.3 250.9h0M117.2 264.8h0M67.5 257.1h0M119.8 243.8h0M102.4 253.7h0M67.5 262.7h0M102.7 252.2h0M107.5 258.8h0M246.2 94.9h0M243.5 129.5h0M253.3 111.2h0M266.9 89.8h0M246.2 111h0M235.3 106.3h0M242.2 120.3h0M254.3 116h0M243.6 119.2h0M248 112.7h0M261.1 105.9h0M242.9 99.9h0M255.3 115.2h0M245.7 112.5h0M260.3 117.2h0M243.3 99.7h0M243 100.8h0M255.9 124.9h0M254.4 107.5h0M260.8 102.5h0M255.9 109.9h0M251.3 97.5h0M261.9 112.9h0M248.4 124.7h0M254.5 114.7h0M260.4 113.7h0M243.8 108.9h0M257.7 112.5h0M258.7 109.7h0M251.1 120.1h0M260.2 115.3h0M245.9 114h0M246.3 110h0M255.1 111.5h0M235.5 95.8h0M246.2 117.5h0M245.2 117h0M245.2 105h0M269.1 116.3h0M250.8 110.1h0M256.8 96h0M247.4 122.2h0M259.1 102.2h0M245.6 116.2h0M236.5 113.1h0M241.3 93.6h0M260.4 112.6h0M257.5 94.7h0M236.6 110.3h0M246.3 130.8h0M241.3 112.4h0M255.6 112.3h0M262.5 95.4h0M261.1 106.9h0M241 116.6h0M243.8 128.2h0M248.3 120.6h0M262.6 99.4h0M243.6 115.2h0M244.8 121.4h0M251.1 103.7h0M247.8 118.4h0M243.6 129h0M243.6 112.3h0M248.5 126h0M264.6 115.4h0M258.7 107.5h0M271 106.7h0M258.3 112.1h0M260.2 108.5h0M244.8 99.4h0M267.8 90.9h0M275.3 109.5h0M247 114.8h0M244.9 95.9h0M249.7 113.7h0M259.4 95.8h0M255.5 109h0M254 110.4h0M243.6 101.9h0M257.8 110.6h0M262 116.2h0M231.6 99.1h0M241.8 133.9h0M244.3 117.2h0M254.4 115.3h0M248.2 106.5h0M256.2 112.6h0M247 124.1h0M264.9 107.7h0M250.1 108.8h0M238 122.6h0M240.6 111h0M258.7 98.6h0M249.8 118.7h0M268 96.1h0M260.7 100h0M257.5 111.6h0M244.3 122.8h0M270 101.8h0M250.6 100.3h0M269.9 101.9h0M242 121.6h0M235.1 112h0M235.7 130.1h0M271.7 94.9h0M243.5 109h0M248.3 116.7h0M262.9 95.8h0M250.1 94.9h0M266.8 102.1h0M250.4 124.4h0M255.7 120.4h0M268.4 116.8h0M244.3 114.2h0M255 106.8h0M264.6 97.6h0M266.7 115h0M241.1 110.4h0M255.3 106.9h0M251.2 106.3h0M252.9 113.9h0M256.7 100.8h0M248.2 105.1h0M245.2 100.5h0M263.8 110.3h0M248.4 105.7h0M245.2 107.4h0M242.4 129.2h0M242.5 119.7h0M252.5 95.8h0M234.9 123.1h0M237.2 129.8h0M247.4 113h0M250 106h0M249.5 108.5h0M264 103.4h0M249.8 106.3h0M243.2 107.7h0M258.5 123.2h0M263.9 106.4h0M272.1 109.3h0M253.5 107.8h0M242 117h0M243.4 100.1h0M246 130.1h0M255.9 112.6h0M252.4 105.7h0M260.3 115.6h0M250.7 115.2h0M260.5 101.6h0M251.1 103.9h0M256.7 104.5h0M260.7 99h0M267.6 99.7h0M240.5 107.5h0M255.6 100.7h0M274.3 110.6h0M252.2 97.3h0M249.2 104.9h0M235.5 121.7h0M271.9 95.6h0M264.5 115.4h0M241.3 112.1h0M256.3 112.1h0M241.4 117h0M254.2 117.4h0M234.2 113.6h0M245.9 110.1h0M257 102h0M276.7 91.8h0M263.9 113.3h0M260.8 103.9h0M242.9 112.1h0M259 107.7h0M259.8 111.4h0M240 107.5h0M264.6 99.6h0M242.8 131h0M240.5 107.3h0M257.6 97.2h0M247 121.7h0M252.6 132h0M262.3 128.9h0M253.5 109.8h0M244.9 111.5h0M247 112.2h0M255.2 97.1h0M235.6 99.3h0M266.6 102.3h0M251.7 109.6h0M263.1 107.5h0M259.8 104.7h0M250.6 110.2h0M237.3 126.8h0M232.9 110.4h0M258.8 107.2h0M266 118.4h0M275.3 111.1h0M256.9 125.8h0M243 113.6h0M261.1 103.7h0M249.6 108h0M256.9 85.7h0M268.3 111.5h0M253.2 114.4h0M246.3 122.6h0M279.1 88.7h0M265.6 102.9h0M247 108.1h0M245.8 101.9h0M244.3 128.5h0M253.7 114.1h0M256.7 111.9h0M233.6 110.5h0M261.7 114.2h0M238.7 111.3h0M243.7 119.8h0M255.5 108.6h0M246.8 115.6h0M249.7 104.5h0M253 103.6h0M263.6 110h0M247.2 117.5h0M250.2 104.6h0M237.2 102.4h0M242 117.9h0M261.8 99.7h0M254.8 111.7h0M261.3 109.5h0M266.8 109.6h0M245.8 116.5h0M254.2 114.1h0M251.9 117.4h0M262.2 97.6h0M247.5 114.5h0M257.4 108.7h0M256.1 97.5h0M263.7 114.7h0M264.5 107.8h0M251 114h0M245.7 98.9h0M245.9 112.6h0M243.6 105.7h0M248.4 108.4h0M252.5 109.3h0M257.2 116.3h0M254.8 112.3h0M250.4 116.8h0M246.5 107.1h0M242.8 122.4h0M247.6 114.3h0M265.1 108.5h0M273.8 98.3h0M263.9 110.4h0M245.7 113.5h0M242.8 105.3h0M252.3 103h0M266.1 96.6h0M246.9 113.3h0M247 112.9h0M241 102.7h0M268.6 105.9h0M251.9 105.9h0M251.6 112.8h0M235.5 110.9h0M247.6 123.3h0M245.6 123.5h0M256.9 131.9h0M251.3 110.6h0M268.4 109.8h0M257.6 97.8h0M269.1 116.7h0M249.3 107h0M244.7 122.6h0M254.9 108.6h0M245.4 127.6h0M260.6 105.7h0M263.3 96.1h0M257.3 98.6h0M265 101.3h0M262.7 101.2h0M259.9 116.3h0M243.4 115h0M246.7 120.1h0M244.7 110.2h0M254 119.4h0M241.6 114.8h0M246.8 107.6h0M243.6 112.6h0M248.6 97.9h0M250.2 100.4h0M260.1 126.4h0M242.2 114.2h0M252.9 118.3h0M241.1 99.4h0M236.7 119h0M258.2 116.5h0M249 117.4h0M246 124.4h0M248.9 105.5h0M259.8 121.7h0M239.3 105.1h0M237.9 106.5h0M252.7 112.8h0M251.1 112.2h0M262.7 102.3h0M231.6 99.5h0M252 103.9h0M251 114.1h0M251.1 96.5h0M242.8 115.1h0M254.6 118.9h0M239.8 97.5h0M257.9 92.6h0M243.7 117.4h0M250.2 133h0M256.2 112.7h0M255.4 128.1h0M254.9 102.3h0M258.5 91.8h0M247.2 114.9h0M250 102.4h0M272.8 113h0M244 117.2h0M244.2 109.9h0M262.2 106.2h0M251.3 111.3h0M244.6 124.4h0M249.1 123h0M274.1 128.6h0M272.6 130.1h0M270.6 119.8h0M278.1 127.9h0M283.8 129.9h0M269.9 130.7h0M287.1 133.4h0M267.6 127.6h0M277.3 123h0M276.7 132.6h0M278.8 124.8h0M269.9 122.6h0M266.4 129.6h0M274.2 134.4h0M275.6 126.5h0M275 127.9h0M268.1 122.9h0M277.7 123.3h0M277.4 131.1h0M271.8 120.1h0M276.4 134.9h0M269.1 121.9h0M280.4 128.7h0M270.3 134h0M272.4 130.2h0M271.6 124.4h0M275.3 123.9h0M281.3 133.4h0M286.8 132.9h0M283.5 129.3h0M271.4 130.3h0M268.4 131.6h0M271.4 129.3h0M269 127.4h0M279.8 127h0M270 129.4h0M279.2 127.1h0M267.1 120.5h0M266.1 133.2h0M273.5 130.4h0" stroke="#222" stroke-width="0.9" stroke-linecap="round" fill="none"/><path d="M91.3 140.7h0M77.8 123.8h0M77.1 125.6h0M66 141.6h0M64.3 136.2h0M95.2 132.7h0M91.8 131.7h0M77.5 146.2h0M73 143.5h0M69.7 127.1h0M72.6 144.5h0M76.4 126.3h0M66.6 136.6h0M68.9 141.7h0M82.5 125.2h0M92.7 129.8h0M65.9 140.9h0M86.3 139.3h0M85.6 125.6h0M66.1 139h0M79 125.7h0M90.5 139.6h0M63.2 133.7h0M76.6 125.6h0M81 125.7h0M83.5 125.3h0M89.9 135.8h0M89.8 141.6h0M90.4 140.9h0M70.5 141h0M68.1 125.2h0M67 126.9h0M90.4 134.6h0M68.7 127.6h0M86.4 129.1h0M66.9 122.8h0M68.4 139.1h0M82.5 144.8h0M92.8 137.3h0M77.3 124.3h0M73.2 124.3h0M76.4 147.5h0M77.4 121.6h0M69.1 127.4h0M66.8 137.9h0M85.9 141.3h0M72.9 123.9h0M83.2 126.7h0M91.1 142.4h0M90.6 140.6h0M75.5 143.1h0M92 136h0M88.5 125.6h0M93 134.7h0M77.1 145h0M89 137.8h0M91 127h0M68.5 141.3h0M70.9 141.8h0M79.9 125.1h0M74.4 125.7h0M71.2 144.4h0M90.8 133.9h0M67 141.7h0M86.8 141.9h0M67.3 138.7h0M69.2 126.2h0M70.1 128.5h0M83.9 144.3h0M84.9 142h0M109.7 134.5h0M116 140.2h0M141.4 136.3h0M139.7 131.2h0M131.5 124.7h0M131.9 125.8h0M133.7 127.7h0M123.5 144.3h0M138 131.1h0M117.2 128.9h0M127.3 144.8h0M115.5 129.9h0M113.4 134h0M110.2 135.7h0M140.5 135.8h0M142 132.1h0M118.1 146h0M118.3 144.2h0M110.1 141.2h0M109 134.9h0M117.5 129h0M141.2 135.8h0M114.2 127.9h0M127.1 124.7h0M132 126.3h0M117.4 128.1h0M137.5 130.6h0M112.2 141h0M136.1 142.5h0M124.7 125.9h0M116.6 128.8h0M141.9 136.4h0M110.7 136.1h0M116 143.5h0M114.1 132.3h0M140.5 133.7h0M112.3 128.2h0M131.4 126.4h0M134.5 126.7h0M129.9 144h0M125.6 144.4h0M110.5 129.4h0M131.7 144.3h0M139.7 135.1h0M112.6 134.4h0M129.5 120h0M130 144.5h0M139.9 128.4h0M115.2 125.6h0M128.6 146.5h0M129.1 125.4h0M119.8 126.4h0M112.3 136.2h0M140.2 137.8h0M140.7 143.5h0M116.3 128.5h0M124.5 145.8h0M120.2 144.4h0M112.9 136.3h0M137.7 141.4h0M130.8 125.9h0M137.5 130.1h0M140.2 141.3h0M131.5 125.3h0M131.8 124.1h0M134.9 128.6h0M141.9 135.7h0M120.2 143.9h0M109.7 134.4h0M126 144.7h0M82.1 272.3h0M85.1 252.8h0M60.6 265.6h0M87.9 255.9h0M63 264.5h0M88.3 259.3h0M66.4 252.9h0M79.7 251.1h0M61.6 255.7h0M74 250.3h0M80.9 272.4h0M60.5 270.9h0M66.5 253.5h0M75.2 251h0M77.4 246.2h0M90.7 266h0M64.7 250.3h0M65.8 273.1h0M68.3 251.6h0M67.4 250.4h0M83.7 270.2h0M66.8 252.5h0M64.1 254.7h0M80 249.5h0M83.2 267.8h0M85.2 266.5h0M79 273.4h0M60.3 267.6h0M60.3 263h0M64.3 267.1h0M79.3 270.6h0M72.8 251.4h0M73.8 272.2h0M64.6 272.5h0M61.5 256.7h0M92 260.1h0M78.4 273.2h0M85.5 255.8h0M78.5 270.8h0M59.3 264.9h0M59 263.8h0M85.1 270.5h0M78.4 250.1h0M89.3 263.1h0M86.1 258.1h0M80.1 270.5h0M89.9 261.4h0M89.3 266h0M81.6 252.2h0M90.1 260.1h0M65.4 269.8h0M89.3 265.8h0M65 250h0M68.9 250.7h0M74.8 272h0M86.9 258.6h0M88.2 262.1h0M78.9 250.7h0M89.2 259.7h0M69.9 251h0M71.9 249.9h0M75.1 271.1h0M62.5 254.8h0M66.3 269.5h0M81.4 271.4h0M89.3 257.5h0M68.9 252.6h0M68 252.4h0M124.1 270.6h0M130.7 268.4h0M118.1 273.7h0M109.7 249.3h0M107.2 264.4h0M123.6 271.6h0M134.5 265.2h0M136.3 256.6h0M137.8 254.1h0M109.2 272.2h0M139.7 262.9h0M131.4 270.2h0M126.6 269.7h0M123.6 273.8h0M130.3 249.4h0M114.3 268.5h0M121 274h0M131.1 270.4h0M107.9 255.2h0M135 257h0M136.9 258.3h0M131.8 267.2h0M136.4 266.5h0M108.1 259.6h0M139.5 261.5h0M120.3 248.3h0M136.7 263.3h0M113 268.3h0M109.3 270.6h0M126.3 270h0M110.4 256.5h0M128 269.3h0M137.3 271.8h0M108.6 261.6h0M120.6 271.5h0M136.9 264.6h0M134.2 267h0M114.1 251.6h0M120.9 273.6h0M112.4 252.8h0M129.5 269.4h0M116.4 269.4h0M136.1 255.7h0M117.9 246.4h0M115.1 252.3h0M137.2 254.8h0M136.3 259.4h0M123.7 250h0M123.4 250.2h0M128.1 269.5h0M121 270.7h0M107.8 262.5h0M114.7 268.4h0M128 269.3h0M135.4 261.4h0M120.3 272.2h0M107.1 267.1h0M119.9 251h0M106.1 258.3h0M134.3 257h0M114.1 269.3h0M113.1 273.5h0M104.6 263.4h0M132.8 254.9h0M105.5 259.5h0M135.2 258.1h0M107 265.2h0M126.4 250.5h0M429.8 208.3h0M450.3 209.3h0M437 226.2h0M447.4 215.4h0M449.5 212.2h0M447.5 214.2h0M433.2 211.6h0M434.2 217.1h0M458.2 220.1h0M449.4 215.4h0M457.1 215.5h0M454.5 210.6h0M446.2 211.3h0M436.9 215.1h0M422 217.7h0M440.9 208.4h0M439 215.4h0M424.4 213.1h0M450.3 214.1h0M438.2 215.4h0M438 211.2h0M438.6 207.3h0M441.6 214.6h0M426.8 209.3h0M442.2 214h0M433.8 213.5h0M442.3 220.5h0M435.9 207.5h0M431.3 211.8h0M444.4 220.8h0M443.6 212.2h0M449.5 214h0M428.4 215.1h0M460.3 215.8h0M433.2 219.2h0M432.3 221h0M447.1 210.2h0M436 214.3h0M432.1 217.5h0M437.7 223.4h0M442.8 220.1h0M449.7 217.9h0M448.2 212.9h0M450 220.2h0M450.7 213.5h0M434.6 221h0M439.4 227.1h0M445.2 210.9h0M446.4 217h0M421.4 213.4h0M418.4 227.5h0M428.5 212.3h0M436.8 212.4h0M452.1 214.8h0M426.1 219.3h0M443.4 209.7h0M449.3 210.1h0M431.2 222.4h0M435.2 216.2h0M431.9 214.6h0M420 214.6h0M432.3 220h0M435.7 212.3h0M435.3 207.6h0M444 208.2h0M427.9 217.1h0M436.9 224.8h0M426.3 217.4h0M457.7 213.1h0M427.1 220.4h0M458.4 212.6h0M448.3 218.9h0M441.2 219.6h0M437.4 218.8h0M437.5 215.2h0M429.3 215.7h0M439 212h0M432.8 214.3h0M453.9 218h0M446.6 221.7h0M446.9 223.3h0M454 219.2h0M439.1 216.6h0M439.2 212.7h0M424.9 217.8h0M426.8 219h0M457.2 216.4h0M430.8 213.2h0M446 215.6h0M435.8 217.1h0M428.6 211.5h0M443.9 212.8h0M446.2 213.9h0M440.8 215.3h0M452.5 214.8h0M440.9 211h0M441.4 215.3h0M443 207.1h0M446.2 216.3h0M443.1 217.7h0M450 211.7h0M434.9 217.1h0M425.4 225.7h0M420.3 218.3h0M435.3 218.8h0M454.8 224.2h0M433.1 216.3h0M432.6 210h0M441.3 213.3h0M427.9 214.5h0M434.1 211h0M442 218.3h0M443.7 213h0M431.2 206h0M446.9 220.3h0M431.5 210h0M428.3 222.1h0M438.1 214.1h0M440.7 216h0M436.9 215.2h0M446.3 220.1h0M429.3 215.4h0M439.3 216.8h0M463.3 219h0M447.3 215.5h0M445.4 221.3h0M451.9 212.4h0M441.7 217.5h0M429.6 214.5h0M435.5 219.9h0M440.5 224.7h0M445.3 214.1h0M442.7 216.4h0M432.3 217.6h0M426.6 216.8h0M435.5 216.4h0M433.3 223.5h0M433.6 219.4h0M440.7 221.1h0M433.4 210.5h0M446.8 220.5h0M456.6 222.4h0M440.4 212.1h0M445 208.5h0M437 218.7h0M453.4 214.3h0M438 210h0M438.8 213h0M440.2 212.7h0M444.4 215.5h0M433.5 218.5h0M445.2 214.9h0M438.3 219.5h0M444.9 215.3h0M459 213.9h0M427.6 213.2h0M442.1 208.4h0M458.3 220h0M430.8 217.6h0M427.8 215.8h0" stroke="#000" stroke-width="0.9" stroke-linecap="round" fill="none"/><path d="M67.1 137.2h0M79.3 144.4h0M72.2 126.3h0M87.6 140.4h0M84.5 127.8h0M68.7 141.7h0M78.4 143.8h0M85.4 141.8h0M72.1 142.9h0M79.4 142.7h0M83.1 124.6h0M90.2 140.5h0M90.1 130.2h0M89.3 135.8h0M82.5 142.5h0M68.8 141.6h0M86.4 128.5h0M80.1 126.1h0M68.7 128h0M80.4 143h0M81.5 142.8h0M81.7 143.4h0M90.5 134.9h0M83.3 143.6h0M64.6 131.3h0M89.7 137.1h0M66.2 131.7h0M74 126.3h0M68.1 139h0M90.2 132.6h0M67.6 138.9h0M86.5 128.2h0M81.8 142.1h0M87.5 130.8h0M67.2 138.6h0M87.5 129.2h0M66.9 131.8h0M70.4 127.7h0M69.5 128.6h0M75.6 142.5h0M66 133.3h0M66.2 135h0M86.2 139.5h0M90.4 132.1h0M89.1 136.3h0M68.1 127.4h0M83.8 126.3h0M80.4 144.7h0M83.6 143.8h0M80.6 143.9h0M68.6 140.7h0M89.1 129.3h0M91.4 136.4h0M90.1 135.9h0M65.8 131.5h0M69.6 128.2h0M66.7 129.7h0M66.1 138.1h0M90.6 135.4h0M79.2 143.8h0M83.6 143h0M66.1 136h0M67.1 138.2h0M89.7 135.9h0M69.1 126.7h0M80.2 125.3h0M69.3 140.6h0M90.8 132.3h0M91.7 134.3h0M90.3 133.8h0M63.3 135.1h0M84.3 141.8h0M71 141.3h0M78.5 124.6h0M75.8 145.3h0M89.3 131.1h0M81 142.4h0M72.4 143.6h0M89.3 132.1h0M72.8 126.4h0M80.6 126h0M70.4 141.1h0M87.3 128.3h0M87 129.6h0M68.9 139.6h0M81.5 126.4h0M63.8 128.5h0M83.8 142.9h0M77.4 123.7h0M77.7 143.5h0M72 127.3h0M73.4 142.4h0M84.8 140.4h0M87.7 130.2h0M86 139.8h0M91.5 135.5h0M70.5 141.4h0M80.1 144.3h0M81.5 143.2h0M88.7 132.4h0M78.5 143.1h0M70.2 127.8h0M76.8 144.2h0M90.6 134.9h0M70.3 142.4h0M76.7 125.1h0M78.1 143.1h0M66.5 132.8h0M80.2 126h0M92.8 135.1h0M85.9 140.9h0M70.1 127.3h0M82.7 126.7h0M74.1 143.4h0M75.2 124.9h0M90.9 134.7h0M64.8 136.7h0M87.3 138.6h0M79.4 143.9h0M78 126h0M76.7 144.6h0M64.9 131h0M65.6 133.2h0M81 145.4h0M87.2 129.2h0M79 142.8h0M72.3 142.5h0M86.8 129.6h0M88.4 130.7h0M91.5 133.6h0M65.5 136.3h0M86.4 127.4h0M73.2 144h0M80.8 142.8h0M88.1 131.1h0M88.5 132h0M71.4 141.5h0M89.4 135.9h0M76.9 124.6h0M89.6 137.2h0M83.1 126.7h0M86 129.1h0M88.5 131.2h0M81.2 142.5h0M82.6 126.6h0M69.7 127.7h0M74.9 144.3h0M81.6 143.6h0M73 142.2h0M77.5 142.8h0M72.4 143.2h0M92.1 132.7h0M69.5 128.9h0M79.8 125.6h0M71.1 141.7h0M80.8 144.2h0M84.2 142.5h0M90.3 134.5h0M91.8 133.5h0M81.4 126.7h0M83.2 143h0M83.7 127.8h0M80.6 142.8h0M74.2 126h0M70.5 128.3h0M81.2 124.4h0M69.4 127.9h0M68 140.3h0M91 135.5h0M81.2 142.5h0M63.3 134.4h0M66.1 136.7h0M66.7 132.9h0M69.5 126h0M84.8 127.7h0M71.9 127.5h0M66.5 137.9h0M66.5 136.5h0M86.7 130.1h0M74 143.2h0M84.8 141.3h0M78.2 143.5h0M85 142.2h0M76 122.6h0M87.8 138.6h0M69.3 140.1h0M65.3 138.7h0M82 142.5h0M81.3 142.8h0M81 126.4h0M73.3 124.8h0M66.8 136.4h0M77.3 125.4h0M89.1 130.3h0M77.9 125.5h0M88.1 128.3h0M79.9 125.5h0M71.9 124.6h0M69.8 128.3h0M89.3 139.4h0M75.1 125.3h0M65.4 137.2h0M68.3 127.5h0M89.5 131.6h0M67.6 141.2h0M66.1 135h0M66.9 132.3h0M63.1 133.1h0M88.6 139.2h0M75.5 125.6h0M111.3 134.1h0M114.4 139.8h0M120.8 126.9h0M139.4 134.3h0M117.5 142.8h0M115.4 140h0M121.7 126.1h0M118.3 142.1h0M125.3 125.2h0M130.1 126.5h0M116 140.3h0M128.2 125.6h0M113.1 132.2h0M128.1 145.6h0M117.6 128.7h0M122.1 145.4h0M112 132.7h0M117 143.5h0M125.7 145.8h0M114.6 138.5h0M123.7 126.3h0M112.1 136.3h0M113.3 139h0M116.7 142.8h0M132.2 126.9h0M136.7 130.1h0M132.6 126.7h0M138.1 132.6h0M118.9 128.2h0M134.4 143h0M134.1 143.9h0M136.7 130h0M136.5 129h0M137.7 128.3h0M129.1 125.9h0M121.2 126.2h0M136.6 128.1h0M114 132.9h0M134.8 143.1h0M134.2 142.9h0M111.5 135.8h0M134.3 128.4h0M113 132.1h0M119.2 127.2h0M113.8 139.5h0M117 128.4h0M140.2 137.2h0M138.9 130.9h0M113.2 136h0M138 128.4h0M116.7 129.3h0M112.4 136.5h0M113.3 134.2h0M113.4 138.5h0M122.4 144.9h0M132.6 126h0M124.1 145.3h0M129.4 126.2h0M119.6 143.3h0M114.1 130.9h0M123.8 126h0M135.9 129h0M122 143.9h0M113.7 128.4h0M118.6 127.5h0M113.9 128.2h0M114.2 130.1h0M120.4 126.8h0M111.7 137.6h0M138.9 137.5h0M128.2 124.5h0M116.6 142.1h0M125.3 146.3h0M121.5 144.9h0M113.9 138.6h0M114.2 132.3h0M140.3 138h0M113 131.2h0M116.3 140.4h0M112.1 129.1h0M111.9 136.6h0M129.3 145.4h0M133.4 142.8h0M120.9 127.2h0M134.8 128.5h0M136.4 143.6h0M126.6 144.7h0M128 125.9h0M122.8 125h0M138.6 140.9h0M139 130.9h0M125.6 146.7h0M139.2 136h0M139.1 140.7h0M121.2 143.6h0M134.7 127.6h0M114.2 131.8h0M113.9 138.1h0M129.9 125.9h0M113.5 139.7h0M115.8 141h0M129.5 123h0M139 133.7h0M122.1 126.1h0M115.1 129.8h0M120.8 145.3h0M113.6 138.9h0M120.6 126.3h0M123 145.8h0M138.8 135.4h0M113.8 130.7h0M132.5 127.2h0M131.3 125.7h0M123.9 145.7h0M138.7 129.5h0M117.8 143.6h0M130 125.7h0M115.5 130h0M129.8 145.5h0M111.1 137.7h0M137.6 140.5h0M127.6 146.8h0M111.6 134.1h0M112.6 136.4h0M130.7 144.3h0M113.1 132h0M114.9 140.1h0M138.3 137.8h0M117.1 128.9h0M129.2 125.4h0M117.9 143.7h0M138.7 134.7h0M135.8 127.1h0M125.1 144.5h0M127.5 124.6h0M131.8 126h0M138.6 137.5h0M138.6 138.3h0M113 132.4h0M139.1 131.9h0M115.2 140.4h0M136.1 142.3h0M114.1 132.4h0M115.6 140.5h0M112 138.2h0M142 134.7h0M118.2 142.3h0M138.3 128.7h0M139.7 138.4h0M140.7 134.3h0M139.4 139h0M139.6 131.2h0M126.7 124.3h0M136.4 141.2h0M135.8 142.4h0M134.5 143.2h0M119.4 125.3h0M130.4 144h0M138 131.4h0M134.9 128.1h0M113.5 137.7h0M116.3 128.6h0M112.4 137.8h0M111.1 136.6h0M138.7 138.8h0M123 125.7h0M134.9 128.5h0M124.3 144.8h0M133 127.2h0M112.5 135.7h0M139 134h0M139.5 139.1h0M129.4 145.5h0M130.1 145.1h0M114.2 145.5h0M137.6 131h0M140.8 139.6h0M124 125.2h0M142.6 136.6h0M139.4 135.4h0M132.7 126.6h0M114.2 138.1h0M135.5 143.7h0M131.5 143.8h0M130.9 146.1h0M112.2 135.5h0M124 144.8h0M122.1 124.7h0M138.1 139.2h0M124.4 124.3h0M139.2 138.8h0M136 126.6h0M110 135.7h0M113.1 136.3h0M132.7 126.5h0M117 141.9h0M114.5 130.4h0M113.2 134.6h0M135.7 142h0M136.2 126.5h0M126.1 124.8h0M140.2 139.7h0M110.6 135.6h0M138.9 136.5h0M138.6 133.4h0M136.9 141.3h0M136.7 140.7h0M122 126.7h0M115.5 130.7h0M79.8 252h0M74.9 271.5h0M62.6 257.9h0M86.5 258.5h0M85.1 256.6h0M65.7 254.1h0M68.1 252.7h0M65.6 253.1h0M68.8 251.4h0M87.5 260.5h0M87.9 263.8h0M61.4 257.1h0M72.9 248.5h0M75 250.2h0M83.4 267.8h0M63.8 255.9h0M62.6 256.1h0M74.8 251.1h0M71.1 273.2h0M59.4 257.6h0M66.3 251.8h0M88.5 259.7h0M71.7 251.4h0M82.2 269.8h0M66.4 271.3h0M85 270h0M81.8 269.1h0M88 263.6h0M70.4 273.4h0M89.8 259.4h0M80.2 273.5h0M69.3 270.7h0M74.2 271.4h0M73.4 273.6h0M79 271.8h0M82 252.9h0M83 269.4h0M75.6 249.6h0M68.8 252.4h0M87.2 257.4h0M62.1 259.4h0M74.1 273.1h0M62.8 257h0M66.7 270h0M75.5 271.5h0M69.2 251.8h0M64 266.5h0M70.3 271.1h0M70.4 251.7h0M77.4 248.9h0M74.3 249.3h0M66.6 270.6h0M80.5 271.1h0M61.2 259.8h0M68.1 270h0M87.9 264.4h0M83.1 253.7h0M63.1 256.6h0M72.9 272.5h0M82.8 251.9h0M60.2 261.3h0M86.7 255.9h0M81.1 251.6h0M71.3 251.4h0M71.1 251h0M87.2 264.1h0M78.1 271.8h0M77.4 272.8h0M88.7 260.3h0M87.9 264.8h0M81.7 253.7h0M66.3 254.1h0M62.6 264.8h0M63 257.9h0M81.1 252.9h0M67.1 271.3h0M68.4 270.7h0M78.5 251.6h0M60.5 258.5h0M87.4 262.3h0M62.1 261h0M72.9 250.8h0M62.9 255.6h0M63.4 255.6h0M80.4 248.9h0M89.3 259.5h0M89.8 265.7h0M69.3 251.2h0M71.4 250.6h0M79.8 270.4h0M73.8 250.6h0M61.5 260.2h0M71.3 251.6h0M70.6 250.1h0M87.5 260.4h0M89.2 256.4h0M78.6 271.1h0M89.1 261.9h0M65.1 252.8h0M66 253.5h0M87.7 261h0M80.9 269.8h0M61.4 264.5h0M85.6 266h0M77.3 251.2h0M78.6 251.9h0M62.2 262.8h0M85.3 266.4h0M74.8 271.2h0M89.5 262.3h0M88.1 258.9h0M64.9 268.4h0M79.9 252.2h0M88.2 261.8h0M88.3 261.6h0M81.3 253h0M88.7 263.2h0M69.3 270.2h0M65.1 253.5h0M66.2 252.9h0M63.3 270.1h0M85.5 266.1h0M79 270.8h0M71.3 250.8h0M61.3 265.7h0M87.8 263.6h0M71.9 250.5h0M75.9 272.4h0M60.8 263.4h0M87.6 264h0M76 272.1h0M65.1 267.5h0M74.2 249.6h0M90.5 263.4h0M79.8 250.1h0M86.7 258.5h0M77.7 272.5h0M64.9 251.5h0M88.4 262h0M75.7 248.3h0M71.3 249.4h0M61.6 260.5h0M85.5 266.2h0M88.6 256.5h0M81.1 251.6h0M60.9 261.1h0M79.3 250.9h0M71.6 271.4h0M63 268.7h0M87.6 262.1h0M85.2 267.8h0M67.3 253h0M85.9 267h0M85.8 265.4h0M73.2 249.9h0M87 266.9h0M84 270.1h0M63.1 253.6h0M87.9 261.5h0M63.5 254.7h0M61 259.9h0M65 254.7h0M79 250.9h0M86.8 257.2h0M89.4 262.7h0M85 255h0M81 271h0M71.4 251.3h0M68.7 271.2h0M88.7 267.4h0M67 252h0M90.4 261h0M75.2 251.3h0M63.3 267h0M88.8 256.7h0M68.9 270.2h0M86.7 254.9h0M80.8 253h0M69.7 271.2h0M61.7 258.8h0M66.7 252.1h0M61.4 258.6h0M86.3 257.6h0M78 270.8h0M72 271h0M74.2 271.2h0M63.3 265h0M69.8 251.4h0M75.3 249.2h0M70.3 251.8h0M78.3 270.9h0M64.8 250.6h0M70.2 250.5h0M70.6 271h0M87.8 261.8h0M61.8 261.7h0M87.8 260.2h0M76.7 250.5h0M63.8 267h0M69.5 250.1h0M86.1 265.7h0M89.7 262.8h0M81.2 252.9h0M80.1 249.5h0M79.7 270.3h0M86.4 256.7h0M62.7 255.2h0M85.9 265.7h0M89.1 260.6h0M62.3 256.5h0M129.9 252.9h0M131.8 268.7h0M119.5 251h0M112.2 267.9h0M107.8 259.6h0M125.8 250.8h0M124.2 271.9h0M126.5 270h0M112 268.2h0M134.9 263.9h0M114.6 252.4h0M135.8 262.6h0M118.4 250.4h0M133.9 266.7h0M128.5 270.2h0M134.2 264.8h0M111 270h0M108.6 258h0M107.3 256.9h0M132.9 251.6h0M132.6 267.3h0M128.2 269.3h0M130.7 253.4h0M120.5 270.9h0M134.2 265.3h0M108.7 262.9h0M114.4 252.2h0M105.7 261.8h0M128.4 271.4h0M108.4 260h0M108.4 259h0M123.3 272.3h0M114.1 253.5h0M120.8 247.7h0M131.5 251.5h0M128.3 271.6h0M135 266.3h0M124.9 271.6h0M130.5 268.4h0M136 256.4h0M110.9 265.4h0M134.6 257.6h0M134.6 257.6h0M106.4 261.1h0M124.6 270.2h0M103.6 264.1h0M124 271.5h0M110.4 265.2h0M112.3 266.9h0M128.8 268.9h0M111.4 255.6h0M118.5 250.9h0M130.5 268h0M135.4 258.1h0M109 256.3h0M132.6 253.7h0M128.6 269.4h0M132.3 254.2h0M113.5 251h0M119.9 273.1h0M133.5 255.7h0M133.3 267.3h0M118.5 270.1h0M107.6 259.2h0M130 252.3h0M106.5 260h0M108.5 255.6h0M127 248.7h0M127.3 271.8h0M127.8 270.5h0M117.1 251.9h0M112.2 267.9h0M121 250.6h0M110.8 253.2h0M126 251.2h0M118.3 251.2h0M112.9 252.3h0M125.5 248h0M125.8 271.5h0M108 266.6h0M123.3 271h0M123.4 249.5h0M131.2 267.7h0M120.4 271.3h0M109.1 264.9h0M136.3 266.7h0M108.5 256.3h0M128.5 270.6h0M106.4 261.8h0M129 269h0M128.9 251.9h0M112.5 252.7h0M136.5 258.3h0M121.3 271.6h0M128.6 249.9h0M132.4 252.7h0M108.6 259.1h0M119.8 251.2h0M135.7 261h0M123.5 270.3h0M120.4 271.3h0M139.3 262.4h0M130.7 269.7h0M114.3 269.6h0M110.1 264.6h0M133.7 265.8h0M129.7 270.4h0M117 250.7h0M113.3 270.2h0M107.2 261.1h0M106.5 256.8h0M110.4 267.4h0M119 251h0M126.9 249.1h0M118.2 251h0M126.3 251.4h0M133.8 266.6h0M126.6 270h0M108.8 256.1h0M122.6 271.6h0M119.5 250.4h0M135 262.6h0M118.2 270.9h0M134.2 254h0M125.8 270.7h0M120.8 272.3h0M129.2 249.9h0M118.5 248.8h0M116.7 270.1h0M111.1 255.2h0M134.5 266.7h0M129.9 269h0M126.5 270.9h0M132.8 268.5h0M113.1 267.3h0M132.6 266.9h0M135 265.3h0M121.6 271.4h0M107.4 261.9h0M118.6 251.3h0M107.9 263.5h0M133 267.1h0M108.3 262.9h0M135.6 263.1h0M108.4 262.3h0M111.9 254.9h0M121.9 250.6h0M111.2 265.9h0M133.2 266.3h0M118.6 270.1h0M134.3 265.1h0M130.1 271.3h0M128.5 269.6h0M114 269.7h0M131.4 267.5h0M134.6 269.8h0M135.4 253.5h0M106.8 262.2h0M118.5 270.5h0M132.6 269.4h0M126.6 270.4h0M127 251.7h0M107.6 262.3h0M136.8 260h0M115 271.2h0M127.4 270.8h0M109.1 265.1h0M107.5 256h0M134.2 253.8h0M135.8 257.4h0M128.5 249.6h0M113.1 268.6h0M111.6 267.1h0M133.6 255.2h0M122.3 248.7h0M122.4 272.7h0M136.4 260.1h0M121.5 273h0M113.2 251.5h0M132 269.3h0M113 270.1h0M130.2 251.2h0M132 270h0M112.9 251.6h0M135.7 263.9h0M107.7 263h0M132.6 251.8h0M124.9 270.7h0M133.3 266.9h0M123.8 270.6h0M135.8 265.8h0M126.4 270.8h0M136 257.5h0M116.1 271.4h0M106.4 262.4h0M132 252.9h0M108.5 256.6h0M128.7 251.2h0M131.6 254h0M114.9 252.5h0M112.2 268.3h0M133.8 255.4h0M136.1 263.1h0M118.9 250.5h0M127.9 251.1h0M125.2 250.7h0M121.3 250.3h0M138.1 260.1h0M108.1 264.4h0M135.3 255.9h0" stroke="#000" stroke-width="1.1" stroke-linecap="round" fill="none"/><path d="M122.1 100.2h0M126.4 100.8h0M131.9 97.2h0M129.2 103.7h0M121.7 103.2h0M126.6 105.5h0M125 104.5h0M119.5 97.6h0M130.5 108.2h0M126.9 100h0M131.9 92.5h0M123.4 106.4h0M129.9 97.8h0M118.5 110.3h0M127.7 98.5h0M127.2 107.5h0M115.3 108.6h0M130.3 92.6h0M130.5 94.1h0M132.1 105h0M137.1 99.9h0M127 108.2h0M124.1 99.5h0M125.3 102.6h0M122.1 105.4h0M129.4 103.4h0M324.7 140.3h0M322.1 134.2h0M317.5 136.3h0M295.7 144.1h0M340 141h0M341.6 135.4h0M332.8 131.3h0M327.3 139.9h0M338.5 142h0M335.1 131.8h0M329.9 135.6h0M302.8 133.6h0M330.5 142.2h0M333.1 139.1h0M294.7 129.8h0M317.4 130.8h0M304.2 128.8h0M293.8 139.9h0M297.7 142.3h0M303.8 142.3h0M302.2 131.8h0M307.5 127.2h0" stroke="#333" stroke-width="1" stroke-linecap="round" fill="none"/><path d="M166.7 138.4h0M163.1 133.5h0M149 142.1h0M157.3 113.2h0M130.6 121h0M134.6 121.3h0M119.6 143.4h0M128.3 120.5h0M117.2 126.7h0M164.6 121.8h0M93.6 134h0M73.2 132.2h0M165.2 129.5h0M89.5 127.9h0M118.7 117h0M73.6 116.5h0M92.3 125.8h0M91.7 120.3h0M69.7 130.6h0M152.4 132.7h0M122.7 134.1h0M82.1 136.2h0M110.7 130.6h0M127.4 127.9h0M94.2 120.2h0M363.3 135.4h0M449.1 121h0M383.2 141.1h0M430.5 43.4h0M468 114h0M380.2 134.4h0M425.7 107.5h0M363.1 62.6h0M335.9 265.7h0M311.5 259.9h0M270.4 245.2h0M330.2 258.1h0M279.1 246.9h0M275.8 260.6h0M318.8 249.1h0M313 253h0M289.9 253.9h0M270.6 258.7h0M416.9 233.9h0M411.4 223.2h0M420 263h0M437.2 228.8h0M422.1 171.6h0M368.4 227.7h0M396 193.8h0M389.1 187.2h0M405.3 172.7h0M393.6 199.3h0" stroke="#555" stroke-width="0.9" stroke-linecap="round" fill="none"/><path d="M84.4 94.3h0M102.1 102.1h0M61.3 77.4h0M154.8 65.3h0M121.2 92.1h0M91.3 144.7h0M82.2 200.8h0M96.2 244.7h0M80.5 225.8h0M115 238.2h0M75.8 267.6h0M170 227.2h0M147.5 188.7h0M160.1 226.2h0M340.3 181.6h0M282.9 224.9h0M310.3 243.1h0M271.2 241h0M274.5 243.6h0" stroke="#777" stroke-width="0.9" stroke-linecap="round" fill="none"/><path d="M128.3 234.1h0M121.7 224h0M122.2 233.6h0M118.7 250.5h0M118.8 226.3h0M116.9 237.1h0M121.9 228.4h0M119.2 227.4h0M120.2 232.9h0M122.9 237.4h0M123.3 233.1h0M128.9 239h0M126.6 232.2h0M120.4 227.4h0M124.1 236.9h0M123.3 229.2h0M113.6 225.2h0M127.8 237.7h0M120.9 222.8h0M123.3 233.8h0M120.8 235.9h0M120.2 227.3h0M120.9 239.4h0M122.3 225.9h0M122 239.4h0M125 229h0M129.1 227.1h0M122.5 240.8h0M123.8 234.5h0M120.7 225.8h0M118.1 233.1h0M126.2 223.1h0M129.6 230.7h0M119.8 235.8h0M123.1 225.4h0M116 238.3h0M120.3 236.9h0M115.4 234.9h0M115.8 224.5h0M123 233.5h0M117.8 225.8h0M119.2 220.9h0M127.1 234h0M132.9 234.2h0M125.7 232.9h0M119.7 223.8h0M131 232.4h0M119 225.5h0M131.1 232.4h0M120.7 238.4h0M131.1 228.2h0M123.9 228.7h0M124.1 239.8h0M136.2 226.7h0M125.3 237.1h0M124.4 237.1h0M123.8 224.2h0M119 233.6h0M127.7 232.1h0M124.4 221.2h0M123.6 227.2h0M124.9 233.8h0M118.9 232.5h0M119.6 235.9h0M118.6 230.6h0M122.4 227.6h0M126.2 225.9h0M127.7 232.1h0M118.7 232.7h0M119.1 231.4h0M127.8 243.6h0M126.4 242.4h0M121.4 223.1h0M116.2 240.6h0M117.6 240.3h0M128.8 232.4h0M121.9 230.9h0M123.6 229.6h0M120.3 230.8h0M126.4 225.9h0M121.6 224.2h0M116.6 225h0M124.7 236.6h0M123.3 228.4h0M124.9 228.7h0M125.8 232.9h0M118.4 215.8h0M120.6 239.2h0M129.7 245.9h0M120.9 229.1h0M131.1 232.5h0M132.6 231.4h0M124.8 236.8h0M119 230.8h0M120.6 231.7h0M125.2 227.6h0M123.3 228.3h0M118.9 213.5h0M123.2 233.4h0M122.2 240.3h0M128.1 239.4h0M129.2 234h0M119.7 225.7h0M121.3 229.6h0M123.1 228.7h0M131 216.4h0M126.8 226.9h0M125.3 238.1h0M119.9 224.6h0M124.6 230h0M115.8 237.2h0M117.1 229.5h0M126.3 232.9h0M128.7 245.8h0M123.4 227.5h0M124.1 230.8h0M110.1 226.7h0M124 247.3h0M122 230.7h0M124.1 239.1h0M128.6 242.3h0M131.5 240.5h0M124.1 234.5h0M121.3 231.8h0M114.9 231.8h0M117.8 229.9h0M129.1 231.2h0M130.9 234.9h0M130.1 236.3h0M123.4 238h0M120.7 229.4h0M134.6 242.8h0M124.7 244.4h0M124.3 225.2h0M125.7 233.7h0M124 229.1h0M118.5 234.7h0M129.2 235.1h0M129.4 237.4h0M119.4 233.7h0M127.8 237.4h0M125.6 234.8h0M130.2 244.5h0M114.7 236.1h0M134.1 228.7h0M116.6 236.3h0M115.8 230.6h0M129.4 242h0M127.3 235.2h0M128.2 231.3h0M112.6 245.8h0M122.9 245.3h0M114.2 245.1h0M107 243.5h0M119.2 245.1h0M120.3 249.4h0M122.6 245.9h0M109.8 243.4h0M123.3 243.9h0M123.7 243.4h0M121.2 245.8h0M128.6 245.1h0M116.8 246.6h0M120.5 250.1h0M117.8 244.7h0M117.2 247.1h0M122 247.7h0M108 252h0M135.9 245.9h0M109.5 246.4h0M123.6 240.6h0M120.1 242.4h0M124 249.3h0M129 242.4h0M132 248.2h0M116.9 247.2h0M133.1 245.2h0M119.9 244.7h0M130 240.8h0M132.3 243.7h0M128 242.1h0M111.9 244.6h0M127.2 242.1h0M125.2 244.5h0M130.8 245.3h0M124.2 245.6h0M135.5 245.1h0M119.8 250.8h0M120.7 247.7h0M113.6 246.5h0M254.2 229.2h0M249.8 232.6h0M242.3 217.2h0M247.4 239.9h0M251.1 231.1h0M241.4 219.2h0M236.8 221.1h0M244.7 215.7h0M247 215.4h0M254 228.9h0M232.1 224.4h0M250.2 232.5h0M255.1 226.1h0M246.7 227.1h0M253 223.1h0M246.6 230.4h0M244.9 219.7h0M260.3 233.5h0M239.8 246.3h0M241.1 221.6h0M244.7 233.8h0M261.6 241.1h0M253.1 229.7h0M254.1 222.3h0M241.7 233.8h0M249.9 231.2h0M238.9 231.3h0M235.1 237.2h0M248.2 223.6h0M243.8 253.4h0M276.4 223.1h0M260.4 203.9h0M258.3 229.3h0M250.4 220.8h0M236.2 231.2h0M244 233.6h0M257.6 228.2h0M252.9 230.7h0M250.2 224.7h0M250.2 233h0M248.8 225.2h0M234.9 219.9h0M262.2 238h0M250.7 231.7h0M246.7 235.1h0M256.7 227h0M250.9 237.5h0M233.8 221h0M242.9 219.1h0M244.1 221.8h0M244.5 233.3h0M237.4 230h0M260.6 230.8h0M237 223.9h0M258.6 226.9h0M242.4 236h0M241.6 219.5h0M253.6 229.3h0M242.2 233.2h0M258.1 238.6h0M249 233.2h0M252.6 216.3h0M263.1 223.4h0M243 222h0M239.4 238.7h0M248.1 224.2h0M231.5 230.6h0M247.6 220.2h0M247.2 213.3h0M253.9 218.6h0M252.6 230h0M242.2 236h0M253.5 234.6h0M263.2 226.7h0M243.5 212.9h0M238.8 234.1h0M240.5 221.6h0M256.7 207.8h0M260.7 240.4h0M231.9 233.3h0M248 237h0M245 228.1h0M260.8 224h0M251.9 234.7h0M247.1 236.8h0M252.8 236.4h0M232.7 220.2h0M250.7 239.3h0M261 229.3h0M241.3 219.7h0M253.3 228.6h0M234.7 228.3h0M248.5 222.7h0M261.3 233h0M258 230.1h0M239.3 238.5h0M258.1 224.1h0M236.1 236.2h0M243 219.1h0M247.3 234h0M241.3 229.5h0M257.1 235.7h0M234 235.4h0M264.2 237.1h0M247.3 232.4h0M233.8 224.1h0M243.4 247.1h0M248.1 220.8h0M263.4 239.8h0M233.2 227.5h0M232.8 238.2h0M238.5 220.2h0M267.3 233.8h0M251.3 236.6h0M239.1 236.7h0M245.6 233.7h0M250.2 241.1h0M236.4 217.2h0M254 249.6h0M253 227.8h0M254.2 218.8h0M248.9 214.7h0M249.2 235.4h0M263.5 224.9h0M256.5 240.8h0M238.6 226.8h0M252.1 211.7h0M245.4 235.4h0M261.1 207.6h0M251.6 223.9h0M253.5 229h0M254.5 226.6h0M254.1 220.8h0M239.2 227.8h0M232.2 239.8h0M245.8 220.7h0M240.3 220.9h0M249.2 226h0M255.9 219.3h0M247.4 216.2h0M243.9 240.9h0M247 236.8h0M247.5 219.8h0M240.1 219.5h0M251.2 231.2h0M274.8 243.5h0M255.8 220.8h0M249.1 221.4h0M269.5 223h0M258.7 217.6h0M255.1 218.6h0M243.9 230.6h0M249.4 228.7h0M247.5 221.8h0M247.1 228.6h0M239.6 234h0M249.7 222.7h0M259.9 224.2h0M244.7 241.8h0M252 221.5h0M258.3 233.1h0M256.5 229.5h0M262.3 237.1h0M245 216.2h0M247.7 229.7h0M239.1 227.5h0M261.8 225.1h0M258.3 221.1h0M239.2 237.2h0M246.5 231h0M257.5 243.2h0M236.8 234.2h0M250.2 230.4h0M264.5 227.1h0M242.7 233.5h0M239.9 231.9h0M241.3 233.5h0M245.8 223h0M253 235.6h0M233.4 218h0M245.7 225.9h0M260.2 242.8h0M252.4 238.6h0M245.1 217.4h0M250.8 214h0M263 231.3h0M258.7 223.6h0M233.3 227.4h0M252.5 227.3h0M243.4 229.8h0M246.3 241.1h0M236.1 210.1h0M247.2 231.4h0M234 228.8h0M252.1 232h0M250.8 222.6h0M234.8 237.3h0M244.9 217.3h0M262.3 235.5h0M249.4 215.2h0M256.8 231.9h0M259.5 229.2h0M232.8 227.7h0M244.1 231.6h0M246.4 233.9h0M236.9 224.4h0M243.3 232.7h0M232.4 229.1h0M269.9 213.6h0M257.5 230h0M257.1 229.6h0M250.4 232.3h0M252.3 218.7h0M246.8 244.8h0M261.1 221.8h0M239.4 227.6h0M257.8 237h0M242.7 208.6h0M247.6 214.8h0M259 241.9h0M254.2 234.2h0M253.2 245h0M258 241.5h0M237.5 224.6h0M248 209.9h0M245.4 228.9h0M247.4 250.9h0M246.2 227.4h0M246.9 226.1h0M235.1 238.7h0M248.3 232.2h0M248.4 222.4h0M233.4 226.6h0M252.9 228h0M254.8 222.3h0M245.4 230.4h0M247.1 230.6h0M261.2 225.5h0M249.3 223.5h0M253 231h0M241.3 220.4h0M237.1 226.6h0M249.4 224.8h0M247 230.2h0M269.6 239.2h0M269.3 230.2h0M250 245.9h0M251.5 234.7h0M243.4 224.4h0M255.2 223.9h0M242 216.2h0M250.7 228.2h0M253 221.6h0M236.7 238.6h0M248.2 235.9h0M237.5 217.9h0M257.1 240.5h0M264.3 213.3h0M238 224.5h0M240.8 227.2h0M240.7 216.4h0M247.6 230.1h0M241 229.3h0M236.1 226.2h0M244.9 225.1h0M247.3 218.1h0M235.7 221.9h0M254.8 220.8h0M239.4 246.2h0M245.7 225.7h0M239.9 241.7h0M252.8 231.3h0M262.6 218.7h0M232.6 238.6h0M252 224.6h0M255.3 228.2h0M265.9 218.1h0M251.3 237.5h0M256.2 225.9h0M244.4 225.3h0M254.3 225.5h0M246.7 237.9h0M247 231.1h0M246.9 229.1h0M251.4 223.5h0M242.4 229.5h0M269 222.4h0M239.2 213.5h0M252.2 228.5h0M240.3 225.5h0M257 237.8h0M251.4 239h0M257.3 225h0M255.3 230.4h0M255.1 231.4h0M267.6 218.1h0M251.3 219.6h0M269.3 224.5h0M244.6 228.8h0M247.6 243.8h0M247.5 231.2h0M257.8 242.1h0M239.2 231.6h0M235.8 233.3h0M261 224.5h0M245.4 239.3h0M252.1 236h0M243.8 226.3h0M244.6 242.6h0M234.2 224.5h0M262.4 228.4h0M237.9 231h0M246 227.9h0M252.6 235.8h0M234.2 230.7h0M261.8 217.4h0M247.1 218.9h0M254.2 221.7h0M244.9 225.4h0M252.2 217.7h0M235.1 230.6h0M260.5 224.6h0M251.8 231.3h0M249 228.8h0M242.9 226.9h0M259.1 232.8h0M259.9 222.7h0M249.1 223.4h0M235.8 236.8h0M245.4 231.1h0M234.9 226.8h0M246.9 225.6h0M257.4 232.9h0M249.2 231h0M243.9 222.8h0M245.4 220.1h0M246.4 228h0M258.4 225.2h0M270.5 224.5h0M249.2 228.7h0M242.3 228.4h0M231.6 238.6h0M242.6 228.7h0M236.1 240.7h0M238.3 222.6h0M254.1 240h0M263 232.8h0M233.9 225.2h0M254.5 225.6h0M262 222.8h0M249.6 238.9h0M261.8 231h0M253.4 226h0M247.4 224h0M251.6 236.2h0M238.6 218.9h0M248.4 246.2h0M250.1 230.1h0M247.6 214.5h0M241.4 242h0" stroke="#222" stroke-width="1" stroke-linecap="round" fill="none"/><path d="M104.3 269.1h0M121.7 262.7h0M95.3 265.1h0M131.4 261.9h0M144.8 266.4h0M96.6 242.8h0M118.7 266.8h0M90.6 259h0M135.3 265.4h0M60.4 255.6h0M61.5 243.5h0M133.1 253.4h0M114.4 254.6h0M90.2 246.8h0M91.8 267h0M115.7 249.3h0M67.9 248.7h0M123.1 254.1h0M119.5 265.8h0M70.9 261.9h0M63.7 266.3h0M76.6 248.7h0M146.2 251.6h0M80.2 268.5h0M114.9 268.6h0M95.5 256h0M146 256.2h0M149 246.1h0M134.8 245.2h0M107.4 240h0M345.3 144.8h0M289.5 141.9h0M316.5 128.5h0M345.8 138.2h0M331.5 136.3h0M276 143h0M283.3 129.7h0M316.8 128.3h0M305.2 139.7h0M277.3 138.5h0M277.9 134.5h0M319.4 139.1h0M273.3 128.2h0M343 132.6h0M302.3 132.2h0" stroke="#444" stroke-width="0.9" stroke-linecap="round" fill="none"/><path d="M245.4 115.2h0M264.9 117.8h0M243.6 114.9h0M256.1 124.5h0M256.1 115.4h0M238.8 114.3h0M248.8 118h0M243.4 122.1h0M240.4 114.1h0M255 118.9h0M246.1 120.8h0M235.9 123.5h0M271.9 124.8h0M251.2 124.9h0M250.5 122.3h0M248 117.8h0M255.2 110h0M247.9 123.9h0M259.2 118.3h0M251.9 122.5h0M253.4 109.4h0M240.6 115.8h0M251.4 115.2h0M249 123.7h0M259.4 119.4h0M250.2 117.3h0M253.6 118h0M242.8 120.1h0M241.7 116.8h0M246.4 112.4h0M256 116.7h0M238.4 116.7h0M236.2 122.7h0M255.2 124.9h0M244.3 119.8h0M240.3 113.6h0M249.1 118.6h0M259.2 115.9h0M261 120.9h0M241.3 116.3h0M240.9 123.8h0M244.5 120.5h0M259.1 116h0M245.1 118.4h0M242.3 112h0M240.4 118.4h0M251.9 124h0M231.8 119h0M238.5 121.6h0M256.9 117.5h0M264.7 115.5h0M244.7 112.8h0M243.5 117.5h0M256.7 122.1h0M247.3 114.1h0M246.7 115.3h0M245.3 115.4h0M241.3 116.8h0M244.9 116.3h0M236.2 117.6h0M255.7 119.6h0M244.5 112.5h0M237.1 112.3h0M243.6 115.8h0M232.4 119.7h0M234.7 114.3h0M242.8 120.3h0M268.3 115.6h0M247.3 115.4h0M248 116.3h0M274.5 112.7h0M248.9 113.9h0M253.5 114.9h0M255.7 112.7h0M270.9 117.8h0M232.5 119.8h0M245.3 112.4h0M254.4 115h0M257.3 114.8h0M258.9 117.6h0M253.5 117.6h0M246.4 115.6h0M254.5 119.8h0M246 125.8h0M266.7 112.5h0M260.7 116.7h0M252.3 113.9h0M266.3 113.7h0M249.2 114.1h0M269.1 122h0M237 115.2h0M253.6 115.3h0M246.5 112.8h0M252.5 112.7h0M258.2 126.5h0M246.8 123.5h0M253.7 114.4h0M246.6 113.2h0M251.1 119.8h0M259.2 115.9h0M238.2 116.7h0M266.5 118.1h0M249.4 108.8h0M245.7 119.1h0M240.7 122.3h0M244.4 113.6h0M244.3 116.6h0M259.9 114.8h0M232.4 116.7h0M255.2 123.1h0M238.9 122.8h0M256.7 118.8h0M242.4 113.5h0M240.6 120.7h0M252.2 121.2h0M267.9 117.1h0M249.5 124.5h0M237.2 115.3h0M246.4 115.5h0M251.4 113.7h0M261.4 111.7h0M242 110.4h0M236.2 119.3h0M256.2 116.2h0M258.3 119.4h0M244.3 116.9h0M253.6 124.9h0M245.7 118.5h0M255.4 121.8h0M254.2 121.2h0M239.5 116h0M272.9 118h0M250.9 118.1h0M251.4 111.8h0M243.2 116.3h0M251.7 113.6h0M249 114.2h0M237 114.4h0M242.1 120.3h0M263.2 119.3h0M247.9 114.8h0M234.6 115h0M265.4 121.5h0M252.2 116.1h0M250 118.7h0M249.9 118.7h0M242.4 117.2h0M246.6 121.2h0M237.8 122.1h0M249.2 115.1h0M445.8 214.2h0M449 219.1h0M424.3 213.8h0M401.8 216.5h0M441.3 216.1h0M426.3 228.8h0M452 218.3h0M432.9 213.6h0M429.2 220.3h0M439.6 215.1h0M425.1 222.4h0M456 215.9h0M441 222.9h0M438.7 213h0M433.6 219h0M416.3 218.8h0M433 214.3h0M458.2 220.3h0M420.3 225.7h0M428.8 212.5h0M415.1 224.9h0M415.3 220.5h0M440.2 215.1h0M444.5 224.7h0M432.2 218.5h0M443.3 219h0M453.2 223.1h0M434.6 219.9h0M427.2 222.5h0M422.1 218.3h0M414.1 232.9h0M437.7 218.9h0M440.3 208.5h0M455.3 208.7h0M442.7 216.2h0M444.6 222.4h0M437.1 224.6h0M428.5 220h0M428.5 214.4h0M416.7 220.8h0M459.3 213.5h0M425.7 214.4h0M439.2 206.5h0M435.7 214.1h0M417.9 220h0M436.2 220.3h0M451.7 210.1h0M450.1 221.8h0M441 206.9h0M437.1 227.8h0M445.8 218.1h0M414.4 218.9h0M410.8 213.8h0M426.9 221h0M423.5 218.2h0M432.7 220.2h0M442.5 221.4h0M428.8 219.5h0M423.6 211.2h0M424.3 218.4h0M402.2 223.2h0M438.7 209.1h0M417.4 213.2h0M439.6 206.5h0M457 221.5h0M451 226.5h0M418.3 228.1h0M421.1 216.4h0M406.8 232.2h0M438.8 223.9h0M425.7 224.2h0M441.5 216.2h0M441.4 216h0M413.3 206.3h0M408 222.1h0M463.2 215.7h0M423.7 226.5h0M430.7 220.6h0M433.4 203.7h0M412.1 220.4h0M434.6 216.8h0M412.5 219.3h0M428.6 212.4h0M429.4 220h0M419 223.3h0M408.9 204.2h0M420.9 230.2h0M444.5 214.3h0M439.3 205.8h0M430 212.6h0M413.6 216.1h0M420.6 220.5h0M413.5 220.9h0M440 223.5h0M443 222.8h0M449.3 226.2h0M449.6 225.7h0M412.6 217h0M455.7 214.8h0M444.6 225.1h0M453.9 214.8h0M436.8 217.7h0M443.1 206.8h0M431.9 225.7h0M432.8 224.7h0M455.2 219.5h0M426.6 215.1h0M414.4 215.9h0M430.1 224.4h0M422.4 214.3h0M432.1 217.2h0M452.8 218.7h0M455.2 219.1h0M415.7 218.6h0M418.7 224.1h0M428.7 216.3h0M465.5 216.6h0M425.8 216.5h0M444.5 220.1h0M433.6 225.7h0M423.7 223.1h0M446 220.5h0M425.3 217.7h0M456.6 212.8h0M447.8 221.8h0M439.7 221.8h0M425.6 228.5h0M434 223.6h0M429.9 216.6h0M450 212.6h0M432.6 213.5h0M408.2 224.6h0M433.4 207.3h0M432 232.9h0M449.6 217.2h0M438.8 216.9h0M436.7 217.8h0M436.1 215.7h0M446.5 211.3h0M406.3 208.3h0M422.5 219.3h0M441.9 223.4h0M409.2 209h0M442.8 229.5h0M442.9 217.8h0M449.2 228.7h0M448.7 219.9h0M428.4 215.2h0M426.3 211.2h0M438.6 224.9h0M428.6 223.4h0M443.6 217.8h0M432.3 227.7h0M421.4 214.3h0M426.7 213.9h0M442 222.3h0M428.8 222.5h0M405.2 219.2h0M417.2 224h0M423 222.3h0M443.9 209.9h0M461.9 210.1h0M426.2 222.8h0M442.8 220h0M428.2 223.5h0M439 216.6h0M450.7 228.2h0M424 216.2h0M416.8 211.3h0M436.1 224.5h0M410.9 217.2h0M438.4 215.1h0M446.8 222.3h0M432.4 225.8h0M438.8 225.4h0M442.9 217.1h0M456.9 214.5h0M439.3 216.7h0M420.4 210.8h0M451.6 226.9h0M450.5 206.7h0M443.6 219.4h0M442.8 220.3h0M442.7 221.5h0M450.3 219.6h0M425.1 205.2h0M438.2 205.8h0M424.3 218.5h0M431.4 214.1h0M460.8 210h0M452.3 216.9h0M431.4 219.1h0M440.7 208h0M441.2 217.7h0M432.9 218.8h0M431.5 225.3h0M419.6 214h0M441.2 217.5h0M429.5 219.1h0M461 224.9h0M418.9 225.2h0M420.3 220.6h0M427.6 210.2h0M446 222.1h0M428.4 213.5h0M421.3 217.8h0M450.6 215.9h0M432.4 216.2h0M414.2 216.3h0M423.5 225.9h0M435.9 226.4h0M432.1 219.6h0M455.1 221.4h0M434.5 221.6h0M438.6 225.6h0M423.9 215.8h0M419.5 226h0M443.3 216.8h0M442.1 230.3h0M445.6 218.1h0M418.6 222.1h0M428.6 209.2h0M448.4 213.5h0M427.1 231.8h0M427 217.2h0M429.5 219.7h0M423.8 220.5h0M443.4 216.8h0M445.7 223.2h0M415.3 229.6h0M435.8 223.9h0M455.5 218.5h0M417 216.5h0M461.9 228.4h0M446.1 212.8h0M427.3 217.4h0M434.9 211.7h0M433.9 215.7h0M440.2 212.8h0M424.9 219.4h0M443.6 219.1h0M435.9 217.7h0M423.7 216h0M419.8 221.8h0M439.3 217.6h0M419.9 216.2h0M430.6 224.8h0M427.9 219.9h0M423 222.6h0M429 213.4h0M403.6 216.6h0M427.7 225.6h0M413.8 214.9h0M414.1 223.3h0M437.3 216.3h0M442.5 219.5h0M425.6 218.2h0M442.3 224.2h0M460 220.3h0M434.1 219.1h0M420.4 217.6h0M441.7 216.2h0M428.5 210.8h0M442.3 225h0M433.1 219.6h0M436.1 218.9h0M429.8 224.5h0M437.7 216.4h0M414.3 224.7h0M430 222h0M425.2 203.7h0M464.9 211.2h0M442.2 225.6h0M407.9 219.6h0M431.4 209.2h0M459.7 215.6h0M441 218.7h0M461.8 213.1h0M427.1 220.3h0M444 218.5h0M450.5 225.5h0M439.4 210.3h0M418.7 208.8h0M425.8 224h0M457.8 219.8h0M446.4 216.2h0M428.7 223h0M408 217.4h0M419.9 220.1h0M441.9 219.8h0M453.9 219.1h0M452.3 220h0M402.1 218.4h0M419.6 216.3h0M427.9 211.8h0M429.5 223.4h0M434.2 222.6h0M419.6 228.9h0M419.1 211.2h0M436.1 222.1h0M452.9 223h0M447.8 209.3h0M436 214.9h0M400.3 227.5h0M415.1 222.4h0M445.9 216.7h0M418 226.5h0M433.1 219.5h0M435.1 220.6h0M442.5 219.6h0M448.1 218.3h0M412.5 213.8h0M441.6 213.2h0M436.5 223.1h0M423.2 218.4h0M413.9 211.1h0M440.5 219.8h0M416.3 215.9h0M422.5 216.5h0M423.3 215.5h0M412.9 216.1h0M451.6 217.3h0M443.1 216.5h0M426.7 227.2h0M437.1 215.1h0M443.7 210.2h0M410.3 216.8h0M426.6 219h0M414.2 221.1h0M430 217h0M438 216.4h0M448.8 213.3h0M437.5 217.6h0M425.3 221.1h0M413.4 215h0M425.5 209.9h0M424.8 224.2h0M447.1 212.3h0M421.3 214.1h0M400.4 231.8h0M421.5 220.2h0M425.3 216.6h0M409.6 212h0M430.3 214.3h0M443.1 215.2h0M438.7 221.4h0M414.5 225.6h0M429.7 233h0M424.3 224.5h0M443.7 209.3h0M409 209.6h0M445.4 218.4h0M447.1 211.8h0M444.4 218.2h0M441.9 222.1h0M434.5 226.5h0M411.6 216.1h0M448.4 212.2h0M444 218.6h0M437.3 204.1h0M419.6 222.5h0M414.8 223.1h0M434.6 211.6h0M416.7 208.7h0M437.3 225.9h0M425.7 208.6h0M449 223h0M433.7 210.1h0M414.5 216.9h0M455.8 227.5h0M418.5 207.8h0M431.1 223.2h0M421.3 219h0M446.6 208.2h0M460.7 226.9h0M434 220.1h0M441.4 214h0M444.3 218.8h0M421.3 217.8h0M428.6 215.5h0M443.7 223.1h0M447.4 215.6h0M443.1 216.7h0M458.5 211.9h0M448.6 215.1h0M406.7 222.8h0M412.9 213.1h0M431.9 220.9h0M431.1 220.7h0M437.2 208.4h0M451.7 226.9h0M424.1 222.5h0M428.6 213.3h0M428.7 206.7h0M423.2 222.3h0M448.3 221.2h0M436.6 214.5h0M447.6 229.7h0M438.3 228.8h0M434.9 216.9h0M446.6 219.1h0M429.5 215.1h0M435 218.2h0M408.6 221.2h0M458.9 220.5h0M440.1 221.5h0M446.5 222.9h0M428 211.6h0M440 220.9h0M424.8 216.8h0M440.2 227.7h0M424 212.9h0M432.9 213.6h0M425.7 212.8h0M450.9 221h0M435.8 227.8h0M446.2 212.7h0M441.9 214.8h0M410.6 220.8h0M424.5 227h0M429.2 216.8h0M420.3 217.5h0M431.9 222.2h0M421.7 214.2h0M417.2 214.4h0M427.1 217.5h0M423.1 223.8h0M422.2 219.8h0M431 220.6h0M434.4 215.9h0M432.9 215.3h0M431 225.2h0M445.8 226.4h0M420.6 225.5h0M439.7 222.2h0M429.1 228.7h0M419.9 219.9h0M413 216.7h0M438.9 219.9h0M437.3 226.1h0" stroke="#111" stroke-width="0.9" stroke-linecap="round" fill="none"/><path d="M299.8 135.4h0M291.6 131.6h0M283.7 136.8h0M270.4 133.4h0M312.7 130h0M286.3 140.4h0M281.8 134.7h0M278.9 140.3h0M283.8 132.3h0M291 132.9h0M277.9 141.5h0M298.5 134.6h0M296.1 138h0M293 134.3h0M286 136h0M292.8 135.8h0M277.4 133.7h0M291.3 129.3h0M284.9 137.7h0M287.3 132.7h0M284.7 131.7h0M298.5 132.3h0M289.1 135.1h0M278.5 127.8h0M283 130h0M276 134.1h0M274.5 135.6h0M274.9 131.8h0M281.9 141.1h0M306.6 138.6h0M274.9 134.1h0M297.5 137.9h0M274.9 137.7h0M293.7 131.5h0M314.4 132.7h0M425.4 93.4h0M415.1 130.4h0M410.9 133h0M396.8 139.3h0M434.4 118.3h0M469.8 135h0M446.7 111.2h0M413.1 126.3h0M436.1 122.7h0M411.9 126h0M408.9 121h0M402.8 106h0M423.4 121.7h0M434.3 129.4h0M415.2 122.8h0M434.7 133.2h0M444.1 128.9h0M404.5 95.8h0M445.8 130.2h0M415.1 125.3h0M424.9 120h0M442.4 138.5h0M431.5 117h0M420.2 130.8h0M429.5 115.8h0M434.1 128.6h0M426.8 118.2h0M414.7 104.8h0M414.6 118h0M409.4 119.5h0M408.9 122.8h0M417.2 116.5h0M412.6 121.2h0M425 126h0M408.1 114.5h0M423.3 113.7h0M447 120.6h0M407.6 120.6h0M404.4 116.3h0M416.5 108.9h0M417.9 121.2h0M397.4 131.3h0M422.4 131.8h0M402 110.8h0M405.8 123.7h0M404.6 120.7h0M446.4 106.3h0M397.3 128.3h0M440.8 130.1h0M430 120.5h0M435 114.8h0M410.2 133.1h0M399.8 110.6h0M416.1 118.4h0M424 105.9h0M428.8 122.2h0M404.4 123.8h0M428 121.8h0M399.8 129.1h0M401.7 125.3h0M434.4 133.8h0M446.7 131.2h0M418 120.2h0M418.9 126.8h0M398.8 135.7h0M405.2 119.4h0M412.9 134.1h0M428.7 120h0M434.4 100.9h0M453.7 110.9h0M443.1 136.3h0M396.1 125.9h0M437.6 143.5h0M408 129.4h0M419.4 123.1h0M453.3 128.4h0M446 124.7h0M432.2 126.6h0M413.2 115.7h0M407.1 122.1h0M407.6 118.9h0M401.2 129.8h0M410.3 120.9h0M410.8 133.8h0M404.5 134.7h0M398.1 135.8h0M427.2 117.6h0M424.1 132.3h0M396.3 120h0M421.3 120.1h0M409.4 122.2h0M421.3 129h0M444.3 119.1h0M450.2 120.9h0M408.3 131.7h0M412.5 127.9h0M422.9 129.7h0M411.9 119.9h0M439 137.5h0M422.6 123.4h0M285.3 255.5h0M295.6 259.3h0M291.8 246.7h0M269.6 244.6h0M277.6 244.5h0M288.4 246.7h0M286.2 242.5h0M290.5 253.2h0M291.2 251.3h0M307.3 254.6h0M280.6 257.7h0M275.7 250.7h0M299.5 247.8h0M279.9 251.2h0M282.2 248.9h0M292 260.3h0M275.4 243h0M274.5 243.4h0M292.6 250.7h0M288.4 249.5h0M292.1 248.1h0M295.5 254.2h0M282.6 243h0M278.1 256.6h0M271.9 250.6h0M274.5 246.4h0M285.2 254.6h0M306.5 250.7h0M286.2 245h0M275.2 251.5h0M279 256.6h0M269.6 248.8h0M286.3 249.7h0M277.1 249.4h0M284.8 240.8h0M310.8 253.6h0M273.5 243.3h0M304.5 250h0M285.9 249.1h0M277 259.9h0M271.2 248.4h0M279.3 241.2h0M287.4 251h0M286.6 247.2h0M288.8 247.8h0M289.2 256.5h0M287.4 243.1h0M280.9 245.1h0M303.1 251h0M295.7 245.2h0M284.9 248.4h0M278.3 247.9h0M280.1 257.7h0M269.7 252.5h0M285.7 246.8h0M286.9 250.8h0M292.2 251.8h0M281.4 250.1h0M282.8 250.2h0M288 245.9h0M292.7 257.8h0M279 252.7h0M280.6 255.2h0M293.4 246.5h0M289.7 257.4h0M306.2 249.5h0M286.5 247h0M287.6 252.9h0M297.2 249.3h0M280.8 252.4h0M413.2 259h0M411.4 250h0M440.1 244.7h0M406.5 258.5h0M418.9 244.4h0M418.6 243.6h0M399.6 246.9h0M409.7 251.3h0M412.8 249.3h0M400.9 252.4h0M408.8 245.1h0M437.5 258.8h0M427.5 253h0M411.2 250.7h0M433.2 250.2h0M446.2 258.2h0M423.1 251.3h0M400.4 247.4h0M404.3 248h0M399.2 252.2h0M424.9 249.1h0M452.4 251.4h0M416.8 251.1h0M405.5 254.4h0M398.9 249.7h0M459.9 251.6h0M395.8 243.5h0M442.2 239.1h0M453 257.6h0M408.3 251.5h0M408.1 244.5h0M427.2 246h0M430.8 251.9h0M405 250.4h0M419 249h0M413.4 257.1h0M402.7 250.8h0M439.8 252.3h0M409.4 243.3h0M412.4 238.6h0M408.8 249.8h0M445.8 253.6h0M439.9 252.6h0M423.1 240.8h0M406.1 248.6h0M416.3 242.8h0M412.4 250h0M413.4 248.6h0M426.4 249.8h0M454.1 245.8h0M435.3 249.6h0M418.5 255h0M418 249.8h0M426.4 247.5h0M421 256.7h0M416.7 264.8h0M421 251.4h0M413.7 253.2h0M435.8 250.5h0M396.8 255.6h0M438.7 243.2h0M423.1 258.8h0M430.9 247.1h0M424 252h0M395.5 248.4h0M411.4 248h0M445.6 239.7h0M397 245.9h0M444.2 249.5h0M412.8 248.7h0M450.5 261.2h0M423 244.4h0M412.4 239.9h0M437.4 248.8h0M441.1 246.6h0M402.7 237.5h0M423.4 256.1h0M416.4 256h0M457 259.5h0M423.9 241.7h0M401 252.9h0M418.4 245.3h0M416.4 250.8h0M464.6 248.1h0M430 251.7h0M433.8 246h0M448.9 257.8h0M428.7 243.7h0M395.9 248.8h0M415.6 244.9h0" stroke="#333" stroke-width="0.9" stroke-linecap="round" fill="none"/><path d="M282.9 83.4h0M236.4 132h0M276.3 45h0M340.6 68.1h0M262.8 47.5h0" stroke="#666" stroke-width="0.9" stroke-linecap="round" fill="none"/><path d="M238.9 136.7h0M262.3 119.6h0M263.2 121.4h0M271.7 130.7h0M237.2 119.8h0M260.1 120.8h0M234.4 136.7h0M269.7 134.3h0M255.1 136.5h0M256.6 137.8h0M246.7 136.8h0M264.4 139.7h0M261.7 137.1h0M244.1 122.3h0M238.7 137.7h0M251.5 120h0M241.7 138h0M265 122.1h0M249.4 139h0M250.7 136.8h0M234.4 120.7h0M258.5 121.8h0M268.7 135.3h0M270 123.7h0M255.1 120.9h0M259.9 118.8h0M254 120.8h0M253.3 120.3h0M256 137.5h0M269.4 132.5h0M269.6 122h0M261.2 121.7h0M242.1 121.8h0M268.7 135.9h0M272.5 129.2h0M260.3 138.7h0M253.2 121.8h0M257 121.1h0M231.2 119.5h0M267.7 137.1h0M257.4 118.4h0M271.6 124h0M235.4 121.8h0M266.4 139h0M234.3 136.7h0M256.8 138.7h0M233.5 119.5h0M252 122h0M238.8 122.2h0M270.7 135.3h0M254.4 137.1h0M258.3 121h0M265.1 138.6h0M239.3 136.8h0M262.3 122h0M235.1 119.5h0M247.4 138.2h0M259.8 120.8h0M260.1 121.3h0M257.8 120.4h0M268.8 122.3h0M267 123.8h0M243 136.8h0M273.5 131.8h0M249.5 136.6h0M242.2 136.6h0M244.6 138.1h0M245.2 121.3h0M242.1 121.8h0M248.1 121.6h0M272.5 134.6h0M233.3 120h0M232.3 121.3h0M237 137.1h0M256.5 120h0M261.8 120.5h0M238.4 121.9h0M263 121.1h0M269.7 134.7h0M270.4 124.2h0M262.2 137.9h0M248.3 140.2h0M268.6 135.5h0M255.4 136.3h0M239.3 120.8h0M270.8 128.1h0M254.1 137.1h0M254.1 121.9h0M267.1 122.6h0M239.7 121.3h0M264.8 139.6h0M275.7 131.7h0M244.7 121.3h0M259.5 136.9h0M242.7 137.3h0M240.8 121.5h0M268.9 136.1h0M235.4 120.7h0M272.7 132.6h0M257.4 136.5h0M271.3 129.4h0M271.3 127.5h0M234.9 138.4h0M250.8 120.1h0M260.5 136.7h0M273 126.3h0M248.3 118.2h0M268.1 135.2h0M255.8 121.7h0M275 126.1h0M273.7 125.6h0M232 120.7h0M261.8 120.9h0M268.9 133.7h0M249.9 122.4h0M232.5 136.6h0M259.4 122h0M271.6 131.6h0M262.7 122.2h0M265.4 121.8h0M235.8 121.1h0M239.6 138.3h0M274.6 128h0M262.3 137.5h0M244.3 136.8h0M258.8 121.3h0M269.4 125h0M270.8 131.7h0M267.2 136.1h0M253.9 121.7h0M260.1 119.9h0M271.2 129.2h0M244.8 121.7h0M261.7 137.3h0M249.8 136.5h0M258.6 120.9h0M259.2 120.9h0M270.6 134.6h0M269.7 122.2h0M262.1 119.9h0M264.8 119.2h0M259.2 121.2h0M239 122.1h0M249.2 137h0M271.3 127.9h0M250.2 139.7h0M271.2 127.2h0M248.8 137.2h0M239.2 119.1h0M245 122h0M241.6 136.5h0M246.1 136.9h0M268.4 135.6h0M268.2 124.3h0M270.8 126.5h0M237.7 136.7h0M269.3 126h0M233.4 136.2h0M239 137h0M256 120.4h0M232.6 139.2h0M244.7 138.9h0M263.1 136.6h0M257.8 136.6h0M234.4 138.1h0M268.2 136.7h0M233.9 119.8h0M244.9 122h0M270.9 132.6h0M236.7 136.3h0M270.5 129.7h0M265.1 135.9h0M255.8 136.5h0M268.9 125.1h0M269.8 133.8h0M235.4 136.7h0M248.5 137.2h0M241.6 120.4h0M255.9 119.6h0M265.2 122h0M253.4 120.7h0M255.1 119.1h0M268.1 119.9h0M247.3 121.4h0M258.3 120.9h0M268.8 124.6h0M261.5 137.4h0M244.1 120.5h0M252.3 121.8h0M231.5 137.4h0M247.9 118.8h0M265.6 137.8h0M268.9 124.6h0M272.2 123.2h0M270.4 126.2h0M275.9 131.8h0M262.8 122h0M241.8 120.6h0M262.8 137.3h0M241.3 136.4h0M272.4 127.9h0M242.1 121.2h0M235.1 136.6h0M262.2 119.3h0M239.8 136.5h0M250 136.9h0M268.6 134.3h0M232.5 120.6h0M266.9 137.8h0M239.7 120h0M242.2 121.4h0M270 125.7h0M268.5 120.6h0M254.2 120.8h0M275 124.7h0M260.9 137h0M272.3 131.1h0M264.1 137.3h0M242.7 118.5h0M260.1 136.8h0M235.7 138.3h0M262.7 138.5h0M247.5 120.5h0M248.7 119.9h0M249.3 136.4h0M237 136.5h0M253.6 136.3h0M270.3 122.6h0M254.9 120.1h0M249.7 122.3h0M238.2 136.8h0M236.3 136.8h0M256.2 137.4h0M265.5 121.3h0M235.2 121.4h0M268.1 134.6h0M248.5 121.5h0M251 121.1h0M260.7 138.3h0M269.8 132.8h0M240.8 121.2h0M264.4 136.9h0M232 122.2h0M261.3 136.9h0M270 132.1h0M262.7 120.7h0M256.6 137.4h0M247.7 136.5h0M270.3 128h0M257.3 121.9h0M271.1 132.8h0M233.3 121.2h0M234.7 122.5h0M231.6 136.9h0M267 136.8h0M241.4 136.3h0M263.1 138.1h0M270.2 131.2h0M241.4 138.4h0M244.9 137.4h0M255.3 138.5h0M271.2 127.2h0M269 125.4h0M233.6 138.2h0M269.2 125.3h0M269 134.6h0M243.6 137h0M267.7 120.3h0M247.2 138.8h0M269.2 125.1h0M272.2 131.6h0M269.5 126.6h0M265.9 122.2h0M239.3 137.9h0M239.4 136.4h0M231.8 121h0M259.5 122.5h0M246.9 119.7h0M266.4 120.5h0M231.7 121h0M265.9 136h0M267.1 122.5h0M267.7 136.7h0M243.2 138.2h0M235.5 137.2h0M271.4 133.2h0M238.8 136.7h0M259 120.3h0M232 136.8h0M270.5 130.9h0M260.9 137.8h0M257.6 121.5h0M273.2 137.2h0M249.1 137.2h0M268.7 123.2h0M271.8 129.1h0M252.2 119.9h0M246 121h0M236.6 137.6h0M247.8 137.3h0M265.8 122.9h0M269.7 124.1h0M237.7 136.2h0M261.5 136.3h0M257.2 138.3h0M263.8 119.8h0M264.7 120.6h0M269.4 124.4h0M239.7 121.3h0M268.6 122.4h0M267.5 134.9h0M256.8 121.2h0M246.8 137.3h0M267.4 121.7h0M239.5 120.8h0M268.5 133.9h0M263.7 136.5h0M249.5 122.1h0M240.9 120.1h0M243.4 140h0M268.8 124h0M272.1 129.6h0M247.5 121.3h0M250.4 137.3h0M258.8 139.2h0M233.6 137.8h0M247.4 120.1h0M257.3 120.8h0M251.2 122.1h0M263.4 137h0M234.9 141.1h0M250.8 121.6h0M239.5 121.5h0M250.3 137.9h0M234.8 138.1h0M234.6 137.9h0M267.5 135.3h0M272.9 131.8h0M270.6 126.2h0M246.1 120.8h0M257 121.3h0M247.9 136.5h0M242.4 137.3h0M233.4 118.6h0M245.1 120.3h0M267.7 120.9h0M232.2 121.4h0M271.3 131.2h0M260.6 121.3h0M262.7 121.4h0M270.9 129.6h0M251.7 120.1h0M232.6 138.9h0M236.4 120.3h0M271.4 133.3h0M235.7 121.7h0M261.2 122.2h0M241.6 136.7h0M271 128.5h0M265.1 136.7h0M253.3 137.8h0M259.5 121.4h0M239.9 138.2h0M251.9 136.3h0M268.6 124.7h0M246.5 120h0M271.5 135.4h0M253 136.4h0M253.5 120.6h0M232.4 122.2h0M265.1 136.9h0M254.5 136.9h0M255 120.5h0M258.7 120.1h0M242.4 121.6h0M252.2 136.6h0M247.4 139.4h0M247 120.2h0M271.7 122.4h0M261.1 121h0M258.5 121.5h0M267.7 135h0M264.8 121.2h0M251.1 137.5h0M271.3 130.9h0M263.7 139.6h0M269.4 134.4h0M241.4 121.7h0M233.1 137.4h0M264.8 121.5h0M251 137.4h0M246.2 137.4h0M256.3 136.5h0M264.1 122.2h0M244.4 121.7h0M240 120.9h0M253.9 137.5h0M260.3 137.6h0M252.2 137h0M245.5 120.7h0M234.7 138.3h0M259.7 137.1h0M235.7 120h0M268.5 137.3h0M234.1 137.1h0M255.5 120.3h0M237.8 137.4h0M261.2 120h0M235.3 119.3h0M244.5 137.7h0M271.2 130.6h0M239.9 121.2h0M233.7 120.6h0M240.8 121.7h0M253.4 122.2h0M248.7 139.7h0M258.9 121.6h0M267.5 122.8h0M237.5 137.4h0M231.9 137.2h0M262.3 120.8h0M258.1 136.2h0M233.6 121.5h0M268.3 123.1h0M252.6 137.1h0M265.1 136.1h0M272.3 121.2h0M270.9 125.2h0M243.6 119.4h0M231.6 119.8h0M264.7 122.7h0M269.8 136.1h0M272.9 131h0M252.9 136.3h0M242.3 138.5h0M258.8 121h0M258.2 138.5h0M240.7 120.1h0M253.4 137.1h0M231.6 121.8h0M233.2 138h0M239.7 120.7h0M238.5 119.8h0M248.4 138.4h0M259.8 122.1h0M270.5 134.7h0M258.6 122h0M243 118.9h0M266.9 122.7h0M267.8 138.7h0M263.5 122.5h0M254.8 136.6h0M242.1 121.9h0M260 119.4h0M238.1 137.1h0M255.3 122.3h0M251 136.8h0M235.6 138.2h0M251 121.1h0M254.7 137.5h0M237.7 136.3h0M258.8 120.5h0M262.8 121.9h0M252.3 136.7h0M264.9 136.5h0M266.5 138.8h0M256.4 119.4h0M272.5 128.4h0M263.8 137.7h0M239.4 120.8h0M249.2 120.7h0M245.9 139.9h0M271 122h0M267.2 135.1h0M261.1 119h0M234.5 121.9h0M253.5 140h0M272.1 130.1h0M241.4 121.4h0M231.7 136.9h0M259.1 137h0M262.4 121.6h0M269.9 126.9h0M269.6 125.1h0M265.8 136.9h0M250 119.6h0M239.6 122.1h0M259.2 138h0M234.7 121.7h0M273.4 124.8h0M233.3 139.3h0M252.6 137.3h0M234.1 136.3h0M256.5 120.1h0M232.7 120.3h0M234.2 119.8h0M246.2 137.3h0M266 136.7h0M264.1 122.2h0M254.9 120.7h0M247.6 120.7h0M249.4 120.4h0M255.8 122h0M246.6 137h0M262.7 138.3h0M265 138.5h0M235.7 119.7h0M271.9 127.1h0M242.8 138.4h0M236.8 120.5h0M252.7 137.8h0M263.4 119.5h0M261.6 121.2h0M262 137.4h0M261.7 121.7h0M232.4 119.8h0M266.7 123.2h0M235.6 137.4h0M256.3 138.4h0M253.9 121h0M361.7 139.1h0M378.8 119.9h0M386.1 139.7h0M392.7 126.8h0M377.1 122.2h0M389.2 123.1h0M370.5 138.4h0M363.6 120.6h0M375.4 139.4h0M386.7 121.7h0M394.1 135.8h0M362.9 139.3h0M364.5 122h0M388.1 138.4h0M362.4 139.7h0M385.4 123h0M388.5 137.4h0M365.6 139.1h0M388.2 123.6h0M363.8 122.2h0M379.7 137.8h0M383.1 121.1h0M380.5 121.4h0M359.8 140.9h0M384.5 122.8h0M382 139.4h0M397.3 127.3h0M361.9 119.8h0M374.3 137.9h0M388.1 123.6h0M370.6 120.9h0M357.6 120.5h0M394.1 128.1h0M363.3 140.6h0M370.3 140.9h0M378.5 140.1h0M372.7 121h0M369 139h0M377.2 121.5h0M382.7 120.5h0M395.8 126.8h0M363.9 139.3h0M381.1 139.5h0M379.1 139.1h0M392.4 124.5h0M398.9 131.6h0M386.1 139.3h0M383.7 139h0M364.8 138.8h0M370.8 138.2h0M396.3 130.1h0M356.6 140.8h0M378.2 121.7h0M376.7 120.9h0M366 121.8h0M356.5 139.3h0M356 138.5h0M383.9 118.4h0M392.9 128.1h0M393.2 134.8h0M362.1 137.9h0M391.8 135.4h0M362.6 138.9h0M368.2 138.4h0M356.1 121h0M364.9 138.3h0M360.2 138h0M374 138.2h0M395.7 131h0M376.2 138.8h0M361.3 120.4h0M362.6 122.9h0M368.4 119.3h0M357.4 140.4h0M387.4 138.8h0M363.9 122.2h0M387.1 139.7h0M371 121.6h0M382.8 122.2h0M391.4 138.1h0M392.5 135.3h0M388.1 137.5h0M363.5 122h0M373.3 122.9h0M368.6 139.5h0M379.7 138.8h0M375.6 122.2h0M361.5 138.5h0M392.1 135.9h0M364.2 122.2h0M392.9 124.8h0M378.2 139.3h0M357 121h0M390.4 123.5h0M367.6 119.2h0M390.2 141.5h0M359.4 137.8h0M365 118.8h0M392.5 127.4h0M363 120.7h0M365.9 138.8h0M394.9 129.4h0M357.9 140.5h0M387.7 122.4h0M386.5 123.3h0M387.2 123.6h0M390.2 123.9h0M370.1 122.1h0M372.1 137.9h0M392.5 126.8h0M395.9 134.1h0M375.1 121.7h0M370.8 121.4h0M373.2 122.3h0M394.3 129.9h0M386.1 138.9h0M393.5 133.3h0M368.1 122.5h0M367.2 139.6h0M377.1 122.1h0M363.1 120.8h0M364.6 138.6h0M369.3 140.3h0M370.1 139.7h0M370.6 123.3h0M359 121.9h0M370.5 120.8h0M389.2 141.1h0M383 138.8h0M371.8 120.4h0M383.9 139.3h0M381 140.3h0M373.2 119.4h0M392.9 126h0M392.9 134.7h0M372.7 120.4h0M382.1 139.9h0M385 120.6h0M392.8 128.1h0M385.2 139.5h0M359.7 121.6h0M365.5 138.7h0M389.9 124.9h0M389.8 122h0M367.1 122.6h0M357.1 120.2h0M362.1 122h0M388.8 139.4h0M384.8 120.7h0M371 137.9h0M394.6 129.5h0M370.9 122.3h0M361.4 139.3h0M383.4 121.9h0M359.4 121.4h0M395.5 134.3h0M372.3 139.5h0M394.2 126.4h0M390.5 125.2h0M394.7 139.5h0M363.8 122.2h0M376.7 122.4h0M381.9 122h0M394.8 132.4h0M393.2 133.1h0M395.9 132.1h0M372.3 139.2h0M361.6 119.9h0M365.1 139.9h0M365.2 120.9h0M380.2 138.7h0M380.6 119.3h0M387.5 123.6h0M392 138.8h0M371.8 122.6h0M375.5 138.4h0M381.8 137.9h0M375.9 141.2h0M386 138.9h0M383.4 122.2h0M367.4 140.2h0M388.8 143.4h0M394.3 134h0M356.3 138.9h0M357.6 120h0M380.8 137.9h0M362.5 137.9h0M393.8 137.4h0M373.1 121.7h0M369 138.8h0M359.4 138h0M388.8 139.4h0M364.7 120.5h0M373.9 138.7h0M371.2 119.4h0M377.4 121.8h0M394 133.4h0M374.3 121.7h0M391.1 123.1h0M371.2 123.3h0M379.2 139h0M369.2 117h0M373.4 139.1h0M366.6 139.6h0M384.5 123.1h0M386.1 141.4h0M395.3 132.2h0M363 122.5h0M393.1 126.6h0M363.7 141.2h0M388.3 122.2h0M376.2 139.6h0M381.7 137.8h0M365.2 122.2h0M358.6 120.1h0M393.1 126.4h0M362 139.7h0M379.2 139.2h0M393.1 128h0M380.6 122.2h0M373.4 138.2h0M389.1 137.2h0M396.7 131.1h0M360.8 138.4h0M398 132h0M369.7 121.3h0M394.3 128.6h0M362.5 121.8h0M394.1 139.5h0M381.4 121.4h0M368.9 120.8h0M378.5 117.7h0M393.7 125.8h0M372.1 117.4h0M393.1 126.6h0M357.8 139.5h0M395.9 133.2h0M386.5 122.7h0M369.5 140h0M389.6 124.3h0M360.2 121.7h0M376.5 139h0M380.4 138.7h0M398.5 131.8h0M369.5 121.7h0M385.8 121h0M376.1 137.8h0M380.8 140.7h0M375.3 118.8h0M393.4 133h0M394.5 132.6h0M391.4 135.4h0M393.2 132.1h0M394.2 137.6h0M378.3 122.7h0M362.6 140.2h0M392.4 124.6h0M365.2 120.6h0M388.9 137.1h0M391.2 124.6h0M362.6 121.2h0M376.8 120.4h0M389.2 138.9h0M368.4 139.5h0M393 138.1h0M374.9 121.7h0M381.9 122.9h0M371.5 121.1h0M371.7 139.4h0M390 137.1h0M371.7 122.4h0M389.8 122.9h0M386.8 121.9h0M360.1 121.1h0M360.7 138h0M395.8 132.5h0M359.7 121.4h0M389.4 138.1h0M394.6 133.2h0M359.2 139.7h0M390.6 137.3h0M379.4 121.4h0M387.6 123.8h0M369.6 121.3h0M387 122.8h0M368.6 123.5h0M392.2 125.7h0M358.2 122.3h0M394.9 136.2h0M356.5 138.8h0M357.4 138h0M379.8 137.9h0M361.8 120.5h0M391.8 125.3h0M395.3 132.1h0M372 119.7h0M373.4 138h0M387 122.6h0M382.6 138h0M364.3 120.3h0M373.5 122.3h0M359.1 138.1h0M369.6 120.8h0M370.6 120.2h0M357.6 138.3h0M390.1 124.1h0M378.9 122.9h0M380.4 139.4h0M379.3 139.2h0M375 139.4h0M368 120.8h0M394.7 134.2h0M389.6 137.1h0M379.4 140h0M367.8 140.8h0M389.7 139.3h0M364.9 137.9h0M387.9 140h0M389.6 137.7h0M388.4 137.6h0M391.6 122.1h0M360.7 138.7h0M366.9 121.9h0M372.3 116.7h0M375.5 122h0M372.8 121.6h0M393.7 131h0M371.9 121.2h0M388.5 139.8h0M370.2 139h0M360.8 140h0M379.6 141.1h0M370.4 121.2h0M385.7 122.8h0M370.3 120.2h0M383.6 123h0M382 120.9h0M392.8 139.1h0M392.8 128h0M376.6 120.7h0M376.5 122.5h0M363.5 121.4h0M365.2 139.8h0M359.2 120h0M392.2 127.4h0M379.9 121.2h0M361.7 122.4h0M358.6 122.4h0M392.8 137.6h0M384.8 138.6h0M363.4 122.1h0M389.9 137.1h0M392.5 133.8h0M389.3 122.5h0M386.9 139.8h0M359.4 138.8h0M364.6 123.1h0M377.2 118.7h0M384.1 122.3h0M386 123.3h0M365 138.7h0M388.5 137.6h0M375 141.2h0M368.5 120.3h0M373.1 139.3h0M360.9 120.4h0M376.2 139.2h0M379.3 121.9h0M366.9 120.6h0M384.6 122.8h0M375.7 139.2h0M377.7 138.4h0M392.6 121.3h0M380.3 122h0M358.4 139.2h0M376.4 122h0M391.9 126.5h0M360.4 138.1h0M371.4 138.8h0M364.6 138.2h0M376.1 138.2h0M362.2 120.6h0M370 138h0M361.9 119.4h0M373 138.2h0M387.5 137.8h0M372.8 140.2h0M384.4 122.5h0M384.9 121h0M385.7 139.8h0M393.4 133.9h0M379.2 120h0M392.7 133.4h0M365.3 119.1h0M364.1 122.4h0M381 118h0M362.4 121.8h0M385.2 118.4h0M386.9 139.7h0M369.9 139.4h0M389.8 122.8h0M375.5 138.1h0M370.5 121.9h0M359.8 139.3h0M384.3 121h0M390.5 124.9h0M392.3 122.8h0M356.4 123.2h0M360.4 138.8h0M360.4 139h0M368 138.4h0M395 121.8h0M383.7 138.3h0M373 122.1h0M393.3 128.7h0M366.2 138.9h0M393 134.9h0M389.5 137h0M375.7 138.7h0M390.1 138.7h0M366.4 120.6h0M375.5 138.4h0M390.4 124.5h0M385 120.8h0M387.7 138.8h0M358.6 121.7h0M395.5 126.1h0M367.8 121.9h0M369.7 140.5h0M396.8 132.6h0M375.4 138.8h0M393.5 126.8h0M374.1 123.3h0M394.1 129.4h0M378.5 141.9h0M386.8 120.6h0M392.6 139.9h0M360.8 119.7h0M392.5 134.5h0M387.2 122.8h0M371.6 137.9h0M359.5 122h0M377 118.3h0M392.1 127h0M374.2 138.2h0M371.9 121.6h0M362.4 122h0M358.5 121.5h0M379.1 139.2h0M364.2 140.3h0M385.5 138.8h0M361.6 122.6h0M396.6 133.9h0M369.5 139.4h0M384.1 138.1h0M392.6 128.1h0M386.3 121.3h0M390.5 125.4h0M389.4 122.5h0M374.8 140h0M358.4 122.9h0M371.9 138h0M382.4 138.6h0M377.8 139.5h0M358.5 138.2h0M362.2 138.5h0M393.9 131.2h0M388.6 124.2h0M382.9 138.6h0M357.2 138.9h0M393.7 134.4h0M392.1 134.3h0M370.7 138.5h0M374.2 138.3h0M395.8 129.8h0M362 139.2h0M394.9 133.4h0M396.2 133.1h0M359.6 120.5h0M367.7 139.7h0M357.2 123.6h0M385.4 138.2h0M395.4 121.4h0M356.1 139.1h0M393.5 135.9h0M356.7 122.7h0M360.3 122.2h0M361.7 139.2h0M398 128.9h0M375.1 122.2h0M383.8 122.3h0M378.7 121.3h0M381.4 119.4h0M370.2 122.7h0M369.5 122.8h0M371.2 139.1h0M361.3 139.7h0M368.3 120.6h0M385.2 138.4h0M376.1 119.2h0M383.5 121.6h0M362.2 120.6h0M381.5 122.2h0M390.6 137.9h0M394.7 138.4h0M380 122.5h0M394.5 129h0M392.2 137.6h0M361.5 139.6h0M365.5 121.8h0M358.6 121.8h0M361 138h0M394.7 127.9h0M372.2 121.5h0M361.5 138.3h0M382.5 121h0M388.1 121.3h0M368.7 137.9h0M381.7 120.8h0M359.3 138h0M370.1 121.3h0M384.9 119.2h0M361.5 120.5h0M384.2 122.6h0M364.3 139.4h0M394.4 133.6h0M357.4 121.5h0M370 119.1h0M379.2 138h0M358.1 121.7h0M393.9 131h0M378.7 118.9h0M365.4 137.8h0M388.2 138.5h0M370.5 123h0M365.3 139.5h0M384.2 122.7h0M376.3 138.9h0M364.7 121.3h0M357.6 119.4h0M385.7 122h0M375.5 141.4h0M362.5 139h0M362.4 138h0M375.9 121.1h0M356.4 122.4h0M383.2 119.6h0M394.1 126h0M383 138h0M392.1 139h0M383.5 122.6h0M393.4 134.5h0M359.1 138.8h0M364.1 140.5h0M376.9 138h0M392.8 136.2h0M380.2 139.2h0M360.4 122.8h0M396.4 128.7h0M391.1 137.7h0M380.3 121.6h0M394.5 136.7h0M380 138.5h0M390.1 122.5h0M393.8 133.2h0M392.6 124.1h0M394 132.6h0M393 126.4h0M388.5 120.6h0M391.9 135.2h0M358.8 137.9h0M366.1 139.1h0M389.9 136.7h0M371.4 139h0M379.3 121.5h0M373.5 119.7h0M369.9 137.9h0M389.4 139.1h0M394.4 131.8h0M378.8 139h0M391.8 137.3h0M366.3 120.6h0M393.1 135.3h0M394.1 131.2h0M395.4 129.8h0M370.7 121.6h0M369.5 139.4h0M385.1 138.6h0M375.7 139.2h0M374.2 138.2h0M379.8 122.9h0M367.2 138.3h0M385.1 138.5h0M386.4 140.7h0M396.9 133.5h0M383.3 138.3h0M360 120.2h0M369 121.5h0M359.2 138.9h0M391.8 125.6h0M386.2 141.5h0M384.1 121.9h0M372.2 122.9h0M383.3 121.4h0M365.4 138.3h0M372.4 122h0M362.1 139.7h0M376.9 138.1h0M397.5 132.2h0M386.4 123.7h0M395.5 129.8h0M359.8 138.3h0M358.7 138.4h0M392.2 138.3h0M361.4 119h0M362.6 119h0M388.1 122.8h0M381.2 139.8h0M392.8 136h0M363.6 123.2h0M356.7 118.8h0M389.9 121.2h0M392.1 123.3h0M384.4 138.1h0M357.9 121.9h0M376 119h0M389.8 124h0M377.8 138.4h0M374.3 138.8h0M373.3 138.4h0M384.9 121.7h0M379.3 117.7h0M394 135.5h0M377.1 120.1h0M372.7 140.6h0M361.7 121.9h0M392.4 137.6h0M380.1 138h0M373.6 139.1h0M394 129.3h0M370.1 120.6h0M361.5 138.5h0M390.9 137.3h0M366.9 121.5h0M366.8 138.1h0M363.8 138.5h0M356.1 121.4h0M393.5 125.9h0M366.9 139.5h0M367.7 138.2h0M257.7 257.1h0M270.3 248.9h0M266.5 241.5h0M245.8 257.7h0M269 243h0M249.6 237.2h0M244.8 239.6h0M271.1 247.8h0M253.8 258.6h0M240.2 261h0M272.5 248h0M253.4 257.7h0M261.4 240.4h0M270.3 252h0M243.7 257.2h0M237.2 238.8h0M238.1 239.4h0M263.5 238.6h0M231.5 257h0M245.4 257.2h0M243 239.3h0M235.6 259.7h0M252.7 238.9h0M264.8 257h0M256.8 238.3h0M258.9 239.7h0M246.6 237.5h0M261.7 240h0M274 252.2h0M270.1 248.4h0M261.1 260.3h0M246.2 239.8h0M250.8 239.5h0M262.7 258.5h0M267.2 256.7h0M267.6 255.6h0M263.2 238.9h0M235.2 257.7h0M258.4 239.6h0M235.2 257.7h0M262 258.7h0M236.2 238.5h0M251.5 236.1h0M257.1 258.8h0M237.6 238.1h0M256.1 238h0M261.6 240.2h0M262.1 240.8h0M245.8 258.7h0M265 257.9h0M266.7 238.4h0M262.1 237.9h0M239.6 257.5h0M240.7 258.4h0M241.6 257.8h0M257.4 257h0M251.2 239.2h0M244.6 240.1h0M246.8 257.1h0M255.7 259.8h0M246.5 258.4h0M267.1 255.6h0M237.6 235.3h0M269 242.6h0M269.9 243.4h0M254.9 239.8h0M237.5 257.2h0M269.1 245.7h0M232.2 237.8h0M264.7 258.3h0M237.2 240.3h0M251.3 240.4h0M244.5 236.8h0M267.3 241.6h0M238.8 239.1h0M243.3 258.2h0M232.9 257.4h0M240.7 238.3h0M246.5 258.4h0M232.3 259.4h0M252.1 258.7h0M271.1 249.6h0M269.6 252.6h0M244.8 257.8h0M255.6 237.8h0M246.6 257.6h0M236.5 236.9h0M245.7 257.1h0M246.2 257.9h0M257.3 240.1h0M240.2 258.4h0M240.5 259.5h0M247.9 239.1h0M268.9 243.2h0M234 257h0M271.8 248.8h0M258.4 257.3h0M242.4 238.1h0M232.8 239h0M249.3 257.5h0M272.2 246.1h0M266.2 240.7h0M269.4 251.9h0M256.2 257.1h0M265.9 241.1h0M268.4 241.7h0M260 259h0M258.8 240.6h0M272.3 243.5h0M269.7 243.5h0M272.8 248.1h0M256.5 238.5h0M271.7 255.6h0M263.5 258.1h0M234 256.9h0M256.9 238.3h0M274.8 251.9h0M252.6 259h0M255.3 258.5h0M257.4 257.5h0M244.7 257.3h0M257.6 239.7h0M233.4 238.5h0M233 258.1h0M266.5 240.2h0M271.9 251.9h0M265 258.6h0M239.2 258.3h0M263.2 239h0M258.3 256.9h0M269.4 238.1h0M266.2 242.3h0M246.8 239.3h0M237.4 259.5h0M240.2 258.7h0M275.1 248.1h0M255.4 257.5h0M237.4 257h0M266.9 242.2h0M259.2 237.1h0M256.1 240.2h0M253.7 237h0M239.2 240.5h0M239.5 239.3h0M240 237.3h0M232.6 239.9h0M252.6 258.9h0M255.5 258.5h0M254.7 240.4h0M245.8 239.8h0M249.3 257.6h0M243.9 239h0M267.3 243h0M269.3 246h0M267.5 238.1h0M267.5 240.2h0M242.1 239.4h0M252.8 258.3h0M267.6 242h0M267.2 256.2h0M261.4 238h0M240.5 257.6h0M264.3 240h0M262.9 257.3h0M237.9 257.8h0M239.7 239.8h0M255.6 239.4h0M254.7 238.9h0M268.1 242h0M244.4 257.1h0M252.1 257.4h0M266.2 241h0M255.6 257.3h0M232.2 240.1h0M271.9 242.3h0M272.5 247.6h0M242.8 240.1h0M269.8 244.6h0M270.8 244.2h0M254.9 257.2h0M237.5 238.5h0M252.8 239h0M258.3 258.3h0M249.7 240.3h0M240.7 258.5h0M251.5 257.7h0M239.9 239.5h0M270.1 242.1h0M251.1 258.8h0M271.5 250.9h0M246.7 257.3h0M234.5 258.7h0M256.6 240h0M272.1 247.8h0M269.8 245.1h0M270.3 248.3h0M237.7 257.4h0M260.4 259.2h0M233.3 239.9h0M270 253.1h0M257 239.7h0M262.8 239.8h0M239.3 237.6h0M270.7 246.2h0M254 236.2h0M263.8 256.7h0M266.4 257.8h0M242.8 238.4h0M250.8 258.9h0M247.3 257h0M266.1 242.5h0M258.1 239.2h0M261.8 257.3h0M264 258h0M255.5 238.1h0M267.4 254.5h0M272.4 248.5h0M263.2 239.9h0M249.1 239.7h0M242 239.2h0M241.6 236.4h0M250.4 259.4h0M253.9 238.4h0M269.9 250.8h0M270.1 247.2h0M265.9 256.5h0M231.9 239.8h0M241.9 238.1h0M251.5 239h0M253.7 239.6h0M259 238.3h0M266.4 258.5h0M267.5 256.6h0M252.9 236.8h0M243.1 258h0M261.2 240.1h0M237 257.6h0M235.7 239.5h0M232.3 235.1h0M246.9 240h0M266.7 241h0M231.9 240.3h0M268.9 245h0M254.4 259.2h0M261.4 258h0M237.9 237.5h0M267.1 242.6h0M269.7 253.2h0M269.6 243.1h0M236.7 239.5h0M233.6 237.9h0M260.8 259.3h0M259.6 239.7h0M271 252.3h0M232.6 260.5h0M269.5 246.5h0M254.3 260.5h0M251.6 259.5h0M235.5 257.7h0M255 236.6h0M255.1 236.2h0M268.3 244.7h0M252.5 237.6h0M268 256h0M242.4 258.2h0M260.1 257.5h0M270.9 247.6h0M240.8 237.4h0M264.4 239h0M270.1 251.2h0M238.4 239h0M269.6 247.6h0M259.9 238.7h0M262.7 259.3h0M248.7 238.9h0M231.3 258.4h0M261.8 238.5h0M235.7 237.5h0M266.9 235.2h0M264.2 238.5h0M257.6 235.5h0M270.3 242.5h0M238.7 237h0M262.1 239.4h0M262.1 239.5h0M259.1 240.3h0M259.5 235.9h0M247.1 257.5h0M267.6 241.6h0M232.2 258h0M273 250.9h0M261.2 240.3h0M247.2 237.7h0M234.4 237.5h0M235.4 239.1h0M247.2 240h0M250 240.1h0M246 258.1h0M247.1 257.4h0M254.3 257.7h0M265 259.6h0M248.7 240h0M247.2 258.2h0M232.9 239.1h0M262.2 239.8h0M244.1 256.9h0M231.4 238.9h0M260.9 240.8h0M270.6 249.7h0M242.1 239.2h0M270.5 244.7h0M252.8 239h0M252.1 256.9h0M250.2 239.8h0M246 257h0M266.6 255.1h0M244.2 237.1h0M269.7 248.9h0M263.8 259.2h0M272 242.9h0M243.8 258.9h0M271.4 251.6h0M268.3 255h0M270.2 251.8h0M266.7 241.1h0M269.4 243.3h0M271.5 249.9h0M268.3 254.4h0M248.1 258.9h0M255.3 239.4h0M234.8 258.9h0M234.5 258.8h0M257.7 239h0M232.8 237.7h0M244.7 259.8h0M265.1 241.1h0M254.5 238.4h0M266.7 255.1h0M231.9 239.5h0M258.9 239.1h0M260.7 239.7h0M237.7 240h0M264.7 256.3h0M260.1 257.4h0M238.9 257.7h0M255.7 257.9h0M238.1 237.9h0M231.8 257.4h0M267 241.3h0M259.4 238.5h0M250.2 239.8h0M246.5 257.2h0M241.4 238.9h0M241.7 239.4h0M249.3 258.9h0M241.1 258.2h0M233.2 239.5h0M251.6 239.7h0M242.9 239.6h0M265.6 256h0M264.5 239.5h0M247.9 238.5h0M262.8 258.8h0M249.3 257.4h0M270.8 251.1h0M268.8 243.9h0M236.1 239.1h0M245 257.1h0M246.9 259.2h0M247.8 238h0M263.3 239.6h0M266.8 239.7h0M269.6 243.4h0M252.4 237.8h0M238.6 260.8h0M269.5 251.4h0M235.1 240h0M272.9 252.7h0M249.3 239.4h0M255.7 257.8h0M270.5 246.8h0M249.3 237.3h0M269.2 244.2h0M242.9 257.6h0M264.3 258.5h0M270.7 246.2h0M270.6 247.4h0M261.2 238.5h0M239.4 237.8h0M232.6 239.1h0M247.8 258.1h0M271.4 246.8h0M239.6 239.2h0M268.4 256.8h0M268 243.2h0M271 247.8h0M262 236.6h0M265.5 257.5h0M262.7 240.3h0M257 239.9h0M236.9 259.1h0M247.9 239.3h0M268.9 243.7h0M254 257.2h0M236.9 258.1h0M269 243.6h0M241.6 257.9h0M242.7 257.1h0M248.4 238.2h0M253.9 237.8h0M242.5 238.9h0M249.3 258.5h0M248.1 236.4h0M241.6 258.4h0M236.7 256.9h0M271 245.3h0M241.2 239.5h0M235.2 259.3h0M243.3 257.6h0M239.9 236.8h0M265.1 257.2h0M268 255.1h0M270.9 248.9h0M243.1 237.3h0M242.1 258.6h0M249.9 239.9h0M269.9 248.6h0M240.2 258.1h0M244.6 240.6h0M244.8 239h0M249.5 257.9h0M246.4 257.1h0M253.9 258.8h0M231.8 258.2h0M271.3 243.3h0M258.7 258.1h0M265.8 241.3h0M260.4 258.3h0M270.1 248.4h0M265.7 255.6h0M231.7 239.3h0M232.3 238.4h0M244.7 239h0M264.8 241h0M238.4 237.7h0M270.3 253.5h0M255 240h0M261.4 257.9h0M234.8 240.5h0M256.7 237.3h0M271.3 254.8h0M263 259.7h0M263.2 239.9h0M255.9 258h0M241.5 257.4h0M269.8 252.7h0M233.2 257.2h0M249.7 257.4h0M273.3 248.1h0M236.4 257.4h0M244.3 260.5h0M242.9 237.9h0M251.7 238.4h0M269.4 257.1h0M253.3 260.2h0M255.4 238.6h0M269.6 239.8h0M242.5 261h0M244 257.1h0M234.3 238h0M264.5 259.7h0M236.7 257h0M240.6 239.9h0M244.5 258.6h0M233.3 240.6h0M272.7 252.6h0M239 240.5h0M269.8 244.1h0M262.8 256.8h0M240.6 258.5h0M266.3 239.6h0M235 257.1h0M266.6 257.2h0M237.1 237.3h0M273.7 248.6h0M240 257.1h0M250 258h0M261.1 257.4h0M270 251.8h0M240.5 257.4h0M248.6 239.6h0M256.8 259.3h0M269.2 251.7h0M234.9 238.1h0M240.5 239.5h0M245.8 238.4h0M244.5 236.9h0M251.1 238.7h0M251 240h0M268.2 243.1h0M261.7 240.8h0M235.1 257h0M266.9 256.2h0M267.1 241.1h0M231.7 238.5h0M259.8 236.8h0M239.8 257.2h0M249.8 237.2h0M258.8 237.8h0M261.3 240.5h0M240 239.6h0M269.1 245.4h0M260.6 259.2h0M263.5 240.7h0M269 244.8h0M269.9 254.4h0M255.4 239.7h0M242.7 257.7h0M237.3 259.1h0M250.6 257.5h0M265.4 241.1h0M232 239.1h0M241.4 237.6h0M246.1 239.1h0M254.1 238.7h0M265.8 257h0M269.6 246h0M244.7 239h0M247.9 257.9h0M270.5 244.6h0M248.1 240.7h0M232.3 257h0M231.5 236.3h0M242 257.8h0M261.7 240.7h0M254.9 258.1h0M250.5 257.1h0M237.1 259h0M260.5 257.1h0M269.6 246.1h0M253.5 258.7h0M251.8 240.2h0M270.8 245.8h0M257.6 259.8h0M236.4 257.5h0M267.9 241.1h0M269.2 254.1h0M260.2 258.8h0M251.3 238.6h0M255.4 240h0M247.8 258.7h0M256.6 239.5h0M257.4 237.5h0M233.4 240.1h0M258.6 257.5h0M246.5 238.1h0M244.3 257.5h0M256.2 259.1h0M270.3 246.5h0M266.8 255.5h0M241.9 237.4h0M266.4 241.1h0M240.7 240.6h0M241.3 240.1h0M270.4 251.6h0M256.7 257.1h0M232.9 238.9h0M239.3 257.2h0M256.7 239.6h0M269 244.4h0M259.5 257.5h0M264.8 237.5h0M259 258.5h0M242.3 257.2h0M262.7 258.9h0M253.2 258.6h0M263.8 241h0M266.2 242.5h0M247.4 258.2h0M235.3 239.7h0M238.4 257h0M251.3 239.6h0M269.9 250.1h0M246.3 239.2h0M261.4 238.2h0M240.9 257.8h0M249.5 257.1h0M270.3 245.6h0M260.9 236.1h0M260.9 260.9h0M266.8 240.4h0M266.9 255.1h0M267.1 257.3h0M252.3 238.7h0M255.5 238.9h0M270.5 241.7h0M270.5 250.9h0M249.4 239.7h0M268 253.9h0M268.4 244.1h0M250.4 237.8h0M267.2 242.4h0M238.6 257.5h0M266.4 239.9h0M274 248.8h0M234.7 238.4h0M262 240h0M248.6 239.2h0M248.1 258.8h0M247.2 240.2h0M233.4 239.3h0M270 251.9h0M248.5 236h0M237.9 237.3h0M267.1 240.3h0M237.2 239.8h0M264.7 241.7h0M256.8 257.7h0M262.9 240.6h0M267.7 255.8h0M259.5 238.1h0M270.9 254.5h0M262.6 257.6h0M247.9 238.2h0M236.1 256.9h0M269.5 253.3h0M249.7 257.3h0M268.2 243.1h0M268.9 253.7h0M257.3 257.2h0M252.8 240.6h0M231.4 257.6h0M245.2 259.3h0M243.9 240.2h0M255.9 240.6h0M246.3 239.8h0M246.5 257.8h0M269.1 245.7h0M250.6 239.3h0M231.8 236.8h0M245.8 258.3h0M256.1 239.4h0M264.8 258.1h0M255.4 257.6h0M249.5 258.2h0M254.2 237.7h0M251.8 257.6h0M234.1 258.8h0M246.7 239.7h0M232.4 236.6h0M388.1 239.6h0M384.6 257.8h0M388.3 256.9h0M371.1 240.3h0M386.5 261.1h0M372.4 240.5h0M386.4 258.7h0M393.2 246.6h0M369.5 258h0M393.9 240.5h0M368.9 258.7h0M379.2 259.7h0M386.6 239.7h0M357.2 237.7h0M375.3 258.1h0M371 259.7h0M359.1 257.8h0M392.4 255.9h0M392.8 252.6h0M356.9 241.5h0M381 258h0M376.9 260.1h0M390.5 243.5h0M377.9 240.1h0M392 242.3h0M361.7 238.7h0M391.8 245.6h0M357.4 258h0M365.9 258.5h0M384.1 241.3h0M386.3 240h0M376.9 238.9h0M356 260.3h0M395.3 248.5h0M385.3 241.4h0M394.6 250.3h0M370.6 237.1h0M377.9 259.7h0M374.2 241h0M392.6 250.2h0M375.4 259.6h0M393 254.1h0M393.8 252.2h0M360.8 239.5h0M361.4 258h0M381.6 239.6h0M389.4 243.1h0M393.2 251.8h0M364.1 240.3h0M377.5 240.9h0M363.6 258.9h0M395.4 247h0M393.2 251h0M389 241.1h0M393.4 250.7h0M379.1 260h0M370.9 239.1h0M387.7 257.6h0M365.6 239.8h0M388.3 242.1h0M356.2 240.9h0M391.7 256.5h0M369.5 241h0M369.7 239.3h0M391.6 242.7h0M395.9 240.7h0M377.7 241.1h0M375.8 259.2h0M362 241.3h0M380.5 260.1h0M380.7 240.2h0M382.7 241.1h0M393.8 250.6h0M365.6 258.3h0M392 246.2h0M395.7 249.9h0M362.8 259.6h0M388.1 257h0M386.5 242.1h0M387.8 241.7h0M365.7 240.3h0M392.4 246.4h0M375.7 259.1h0M378 259.3h0M359.5 239.4h0M363.2 259h0M389.9 257.2h0M392.5 252h0M374.2 238.3h0M374.3 238.7h0M357.6 241.7h0M394.5 244.8h0M372.7 239.6h0M384.7 241.6h0M395.9 247.4h0M393.5 249.1h0M389.7 243.8h0M390 242.6h0M371.9 261.1h0M394.2 239.3h0M371.3 239.2h0M379.7 258h0M380.9 258.4h0M385.3 240.6h0M358 259.5h0M382.9 258.3h0M356.2 238.1h0M381.3 239.4h0M363.3 259.6h0M370.4 240.2h0M380.8 238.5h0M381.2 241.2h0M392.9 249.3h0M357 240.1h0M392.3 247.5h0M375.3 258.3h0M369.7 239h0M359.1 259h0M378.3 238.9h0M393.2 245.7h0M378.2 236h0M379.2 241.1h0M380.9 238.7h0M356.7 241h0M387 240.2h0M376.3 237.7h0M391.7 243.4h0M390 261.7h0M358.6 240.7h0M376.6 258h0M392.3 254h0M368.2 236.1h0M381.6 260h0M391.5 257.5h0M371.7 260.7h0M382.1 258.4h0M382.2 238.3h0M392.4 239.5h0M365.8 258.1h0M359.4 239.9h0M392.2 243.5h0M378.9 259.5h0M381.6 239.1h0M356.3 239.4h0M363.2 259.8h0M376.7 240.8h0M392.8 254.9h0M375.1 258.7h0M378.4 239.3h0M370.8 238.4h0M386.2 257.8h0M384.9 259.8h0M358.2 240.9h0M374.2 257.9h0M379.6 260.2h0M387.2 259.1h0M393 239.8h0M357.5 238.7h0M392 254h0M356.4 258.6h0M371.6 238.7h0M358.3 237.1h0M393.1 252.1h0M395.5 250.3h0M361.3 258.6h0M366.1 259.5h0M373.7 239h0M362.5 258.2h0M394.6 252.2h0M359 257.8h0M358.7 240.3h0M366.4 239.1h0M368.6 240.8h0M370.7 258.6h0M393.2 254.1h0M388.4 242.3h0M373.2 241.2h0M360.9 259.2h0M372.4 261.6h0M391.5 255.8h0M368.7 241h0M378.2 241.1h0M392.1 245h0M376 239.5h0M371.2 258.1h0M370.8 257.8h0M388.1 240h0M381.2 259h0M366.8 239.8h0M382.3 241.5h0M385.9 260.1h0M371.7 258.2h0M384.6 259h0M378.8 238.9h0M376.7 239.9h0M372.4 240.8h0M364.3 239.9h0M375.9 238h0M373.9 258.7h0M360 258.2h0M368 239.2h0M385.7 240.1h0M358.7 258.4h0M386.1 257.8h0M390.6 258h0M391.9 245.7h0M357.3 258.9h0M383.9 258.3h0M392.3 241.6h0M389.2 242.3h0M360.5 258h0M386.6 241.5h0M394.8 250.7h0M391.9 256.6h0M394.6 255.1h0M364.9 240.3h0M366.5 241.6h0M383.6 240h0M374.1 259.9h0M388.6 241.4h0M394.4 253.9h0M361.7 259.5h0M395.5 250.3h0M393.3 250.8h0M379.3 238h0M370 240.2h0M378.7 238.9h0M372.6 240.1h0M375.5 258.1h0M369.8 258.2h0M388.8 240.9h0M365.1 259.6h0M369.6 259.7h0M386 259.2h0M379.4 239.7h0M394.6 246.3h0M378.7 238.5h0M388.2 242h0M363 238.8h0M357.1 239.9h0M396.8 248h0M392 258.1h0M386.7 257.6h0M357.5 258h0M392.5 252.7h0M381.3 239.9h0M392.6 245h0M392.5 244.8h0M360.2 240.6h0M385 241h0M382 258.3h0M391.5 255.3h0M394 250.5h0M393.2 249.9h0M357 259.4h0M370.1 261.5h0M371.7 240.1h0M394.8 254.8h0M359.8 259.2h0M362.7 239.4h0M373.1 259.6h0M356.6 239.9h0M363 257.8h0M372 239.9h0M370.9 236.1h0M367.7 258.7h0M359.8 238h0M377.5 238.3h0M380.2 238.9h0M376.5 239.7h0M370.6 237.8h0M382.4 239.8h0M389.5 241.4h0M380.2 259h0M377 240.3h0M385.7 241.9h0M383.6 238.7h0M356.9 239.7h0M392.7 254.6h0M371.1 238.6h0M382 240.1h0M359.7 260.1h0M363.7 239.1h0M393.7 244.8h0M385.9 237.9h0M392.6 248.5h0M360.1 240.8h0M395.3 253h0M374.6 239.2h0M374.1 239.9h0M381.5 241.6h0M387.8 258.7h0M393.4 252.2h0M384.7 258.9h0M363.2 241.3h0M361.8 259.9h0M370.2 258.7h0M375.9 258.1h0M371.6 259.1h0M359.2 258.9h0M373.5 259.4h0M393.5 245.7h0M367.6 258h0M369.8 259.1h0M360.8 240.4h0M366.7 258.2h0M387.5 257.5h0M387.1 261.2h0M374.8 239.8h0M392.9 243.8h0M374.6 241.1h0M385.8 258.8h0M370.5 241.4h0M391.9 244.6h0M375.2 238.8h0M370.9 238.9h0M392.5 244.4h0M375.4 258.5h0M392.4 255.3h0M387.9 242.1h0M380.8 238.9h0M356.9 241.4h0M382.5 258.1h0M384.5 241.7h0M383.3 259.9h0M360.9 241.2h0M370 259.2h0M386.1 238.5h0M371.7 259.3h0M384.3 260.6h0M379.9 258.9h0M377.9 260.2h0M380.3 258.6h0M370.8 258.3h0M378.7 257.9h0M368.2 258.5h0M389.4 243.3h0M357.7 261h0M379.7 238.3h0M393.1 253.6h0M389.8 256.2h0M392.3 241.9h0M391 243.8h0M364.8 238h0M387.5 258.6h0M386.4 263.6h0M394.6 253.4h0M356.7 258.3h0M387.7 258.7h0M366.9 259.3h0M381.1 240.6h0M378.1 239.9h0M392.9 244.3h0M366 259.3h0M390.3 241.7h0M381.2 260.8h0M392.5 247.8h0M397.2 251.6h0M378.2 258.5h0M360 240h0M373.8 239.9h0M371.1 257.9h0M388.2 259.2h0M364.7 241.2h0M362.5 258.1h0M382.9 239.9h0M372.8 238.6h0M366.8 259.7h0M382 240h0M380.7 240.3h0M376.4 259.4h0M394.9 247.2h0M396.5 248.1h0M392.4 252.4h0M361.1 240.5h0M393.8 256.3h0M382.9 258.3h0M397.7 246.5h0M383.1 239.2h0M376.4 239.2h0M393.8 247.2h0M379.9 260h0M393 246.4h0M385.5 260.8h0M370.7 238.2h0M388.1 258.4h0M387.4 241.2h0M380.8 240.3h0M363.8 239.6h0M372.5 259.5h0M377.3 259.5h0M388.2 240.6h0M394.3 249.8h0M395.1 249h0M366.1 258.1h0M356 241.6h0M392.4 242.6h0M390.5 257.6h0M366.5 238h0M372.1 257.9h0M392.3 246.8h0M381.3 260.8h0M363.6 235.4h0M360 237h0M363.9 238.1h0M361.3 260.3h0M358.2 239.3h0M363.2 241.5h0M387.1 241.3h0M375.5 258.5h0M364.9 260.1h0M363.3 241.5h0M374.7 239.2h0M362.4 258.7h0M378.9 259h0M393.4 252.1h0M379.7 238.9h0M379.4 238.8h0M369.6 260.1h0M365.8 258.3h0M392.9 254.7h0M362.4 260.4h0M368.3 237.8h0M393.4 244.1h0M388.7 256.6h0M388.9 242.1h0M385.8 259.5h0M359 240h0M364.2 238.6h0M358.2 239.5h0M374.1 238.8h0M393.8 252.7h0M368.1 258.6h0M386.9 258.1h0M362.9 239.9h0M357 241.6h0M387.5 240.9h0M384.2 260.2h0M397.4 250.6h0M376.9 240.2h0M371.6 236.8h0M392.9 255.8h0M367.9 238.5h0M386.1 239h0M366.9 258h0M383.6 239h0M392.8 242.8h0M373.9 258.6h0M394.1 250.2h0M377.7 259.1h0M393.1 249h0M383.8 238.6h0M392.6 256.2h0M378.1 260h0M390.3 258.9h0M378.1 239.1h0M386.7 239.5h0M393.4 244.1h0M369 241h0M385.6 238.2h0M358.1 260.2h0M394.8 251.5h0M393.7 248.9h0M384.5 241.5h0M394.2 246h0M382.1 259.6h0M374.2 239.4h0M392.4 255.5h0M359.7 239.9h0M361.2 239.7h0M389.3 240.6h0M380.8 259.2h0M389.9 258.2h0M364 240h0M395.6 246.6h0M380.6 241h0M376.7 239.3h0M379.2 257.9h0M358.1 239.1h0M393.3 244.4h0M385.5 240.1h0M368.7 259.5h0M384.6 241.7h0M365.9 240.1h0M393.6 252.6h0M391.8 241h0M383 259h0M358.4 241h0M373 258.5h0M391.7 256.5h0M390.4 237.2h0M366.3 237.9h0M375.5 239.4h0M360.3 238.5h0M382.3 234.7h0M394.6 244.1h0M391.5 244.4h0M379.8 260.1h0M367.2 239.3h0M384.1 258.3h0M389.5 242.9h0M369.2 239.2h0M374 239.7h0M366.2 260.6h0M361.2 240.7h0M366.7 239.3h0M356.8 240.4h0M359.8 258.6h0M390.2 256.4h0M365 239.2h0M373.1 240h0M393.2 247.9h0M379 239.5h0M390.3 256.3h0M386.8 257.9h0M390.8 241.6h0M358.4 259.6h0M392.3 242.6h0M378.3 258.1h0M356.8 236.8h0M385.6 238.8h0M379.8 238.6h0M391.2 257.8h0M360 259.5h0M379.4 237.5h0M392.1 257h0M391.9 245.6h0M358.5 239.9h0M362.5 238.2h0M389.2 241.9h0M389.3 257.3h0M379.5 238.6h0M356.7 258.8h0M385 236.8h0M374 259.1h0M363.3 258.8h0M364.1 258.4h0M381.4 260.1h0M384.9 240.8h0M385.6 258.4h0M369.1 260.3h0M386.4 239.9h0M359.3 238.1h0M363 259.6h0M381 238.9h0M382.5 239.8h0M387.8 241.8h0M384.1 241.1h0M393 246.4h0M395.8 253h0M374.2 238.8h0M377.5 258.2h0M390.6 255.6h0M393.8 247h0M384.6 258.8h0M362.6 239.8h0M392.9 246.4h0M373.5 238.9h0M395.6 249.1h0M393.7 249.4h0M388.1 259.6h0M390.5 242.6h0M383.6 240.1h0M361.9 258h0M392.9 255.6h0M366.6 238.9h0M375.3 237.6h0M360.9 258.6h0M367.3 257.9h0M358.7 237.7h0M386.7 241.7h0M382.1 239.5h0M370.3 240.2h0M375.3 238.6h0M358.1 259.8h0M370.8 239.6h0M375.6 258.3h0M361.1 235.8h0M389 241h0M377.2 235.7h0M368.3 239.9h0M359.8 237.8h0M376.8 259.1h0M361.6 238.9h0M386.1 262.1h0M372.7 240.2h0M394.5 252.9h0M372.5 258.3h0M388.7 256.5h0M383.4 240.1h0M397.2 253.4h0M362.8 239.6h0M388.4 240.9h0M374 241.1h0M393.9 253.4h0M362.6 259.2h0M378.9 238.7h0M359.4 258.1h0M392.6 256.3h0M356.3 238.4h0M387.7 241.1h0M362 258.1h0M378.5 240.6h0M360.2 259.1h0M380.4 239.3h0M369.6 259h0M391.5 258.2h0M370.7 238.3h0M376.2 258.2h0M366.6 237.1h0M368.3 239.3h0M392.4 246.7h0M388.4 261.1h0M374.7 257.8h0M358.4 239.5h0M376.9 240.5h0M390.1 255.6h0M358.5 239h0M389.7 241.1h0M362 239.3h0M379 258h0M396.2 254.3h0M372 240.1h0M393.9 246h0M396 244.1h0M373.1 259h0M364.7 239.5h0M363.2 240.4h0M381.1 258.3h0M359.4 259.2h0M359.8 260.2h0M372.4 259.5h0M365 241.2h0M366.6 239.9h0M389.5 242h0M368.5 258.7h0M377.8 258.1h0M372.2 240h0M362.5 239.3h0M374.4 258.3h0M373.9 238.8h0M388.1 242.1h0M373.3 257.8h0M383.8 241.5h0M381.6 238.9h0M382.8 258.2h0M374.4 240.9h0M376.8 258.2h0M392.5 244.2h0M362.1 241.5h0M388.8 256.4h0M393.9 250.8h0M374.7 258.2h0M392.7 247.8h0M367.2 237.8h0M384.6 259.9h0M376.4 258.4h0M380.8 238.6h0M359.5 239.1h0M389.6 243.7h0M389.5 243.3h0M366.4 239.4h0M392.5 256h0M358.6 239h0M389.3 257.2h0M368.9 239.3h0M361.4 239.5h0M384.6 238.9h0M379.8 240.5h0M389.6 242.8h0M360.4 239.7h0M357.1 240.1h0M384.6 259.9h0M356.9 239.5h0M385.7 242h0M356.3 238.6h0M389.7 258.8h0M369.1 240.2h0M360.8 240.5h0M380.1 236.9h0M357.8 241.1h0M372.8 259.4h0M381.5 241.7h0M372 238.9h0M361.1 259.7h0M372.7 257.9h0M386.8 242.1h0M361.6 240.1h0M392.6 250.3h0M358.9 259.8h0M390.6 256.3h0M372.5 258.7h0M382.9 259.4h0M371.1 238.7h0M388.5 242.1h0M376.2 258.8h0M375.6 239.5h0M393.5 246.4h0M382 257.9h0M392.8 254.7h0M378.6 258.8h0M392.5 247h0M369.8 258.5h0M367.5 259.8h0M379.1 238.2h0M388.3 256.7h0M381.4 260.4h0M392.8 245.6h0M371.1 258.3h0M392.5 245.8h0M360.7 238.2h0M378.9 258.7h0M365.3 241.2h0M379.5 239.2h0M392 245.8h0M392.9 247.4h0M393.2 248.6h0M366.9 239.3h0M372.3 258.7h0M369.5 240.8h0M377.8 259.2h0M373.6 240.2h0M377.2 238.3h0M383.9 238.6h0M370.1 258.6h0M364.2 238.9h0M371.7 259.4h0M363.2 260.2h0M391.5 244.9h0M380.3 258.9h0M391.8 254.2h0M368.2 258.4h0M388.4 258.4h0M359.9 240.9h0M378.9 238.7h0M394.2 251.1h0M362.5 258.5h0M369 240h0M391.6 242.3h0M362.4 240.9h0M375.3 240.1h0M393.8 251.9h0M392.7 252.8h0M387 237.8h0M386.1 239.7h0M383.2 258.9h0M394.1 256.9h0M368.5 239.6h0M389.7 258.2h0M390.4 257.3h0" stroke="#000" stroke-width="1.2" stroke-linecap="round" fill="none"/><path d="M365.4 108.6h0M382.8 120.1h0M357.7 120h0M391.3 122h0M377.5 109.2h0M396.1 106.7h0M377.6 99.2h0M358.6 131h0M375.4 118.3h0M366.6 94.2h0M371.7 124.2h0M365.5 91.3h0M371.8 107.2h0M374.2 99.1h0M370.1 104.4h0M385.2 111.7h0M385.1 109.6h0M380.8 119.3h0M385.1 109.3h0M379.1 124.6h0M369.7 104.2h0M364.2 120.8h0M385 90.9h0M389.4 100.4h0M364.8 134.5h0M406.4 97h0M365.5 111.8h0M379.3 105.1h0M365.4 91.3h0M375.8 94.7h0M385.9 125.4h0M375.5 105.8h0M372.9 95.7h0M383.4 113h0M370.1 90.4h0M372.6 127.3h0M392.4 119.3h0M369.5 111.6h0M381 112.2h0M387.3 103.1h0M362.4 95.6h0M382.4 121.5h0M374 115.8h0M375 112h0M368 105.9h0M389.1 107.3h0M373.5 122.7h0M386.5 106h0M377.2 99.5h0M375.7 113.4h0M374 111.8h0M378.6 83.5h0M363.5 110.9h0M367.8 100h0M371 127.1h0M371.1 103.3h0M367.9 97.6h0M380.2 99.7h0M385.6 119.7h0M381.3 121.1h0M372.9 91.6h0M373.2 116.9h0M387.9 114.7h0M391.1 117.2h0M374.9 114.6h0M384.8 109.8h0M371.3 113.4h0M370 135.5h0M364.3 94.1h0M357.6 121.2h0M368.9 111.8h0M371.3 113.1h0M366.7 121.6h0M381.9 96.8h0M361.7 116.1h0M389.2 118.2h0M372.1 121.9h0M361.6 99.2h0M381.2 113.1h0M377.6 108.7h0M381.9 118.4h0M366.7 120h0M362.2 128.8h0M357.4 107.1h0M360.2 110.6h0M390.7 102.2h0M396.6 125.1h0M378.9 103.9h0M385.5 79.8h0M364.3 120.3h0M373.5 136.5h0M365.4 96h0M371.3 116.3h0M395.7 91.4h0M376 123.6h0M365.4 105.3h0M358.6 118.3h0M384.6 116.4h0M377.1 120.7h0M372.5 117.8h0M384.4 124h0M380.5 111h0M383 93.7h0M375.8 98.9h0M366.6 108.6h0M374.9 102h0M386.7 92h0M409.8 98.6h0M395.2 117.3h0M374.8 113.1h0M368.6 110.3h0M376.1 97.9h0M374.8 134.4h0M365.7 99.3h0M382.5 124.5h0M387.3 103.4h0M373.1 112.3h0M371.3 114.4h0M387.9 116h0M373.9 108h0M396.9 97h0M399.6 118.1h0M375.1 102.2h0M397.5 123.2h0M385.7 132.5h0M370.1 102.3h0M375 115.9h0M380.7 108.7h0M357.1 116.2h0M381.8 133h0M386 110.3h0M359.3 139.5h0M365.4 112.3h0M383.6 115.6h0M391.1 99h0M365.2 112h0M358.2 103.5h0M391.7 113.3h0M372.7 104h0M374.6 109.8h0M360.2 118.7h0M357.6 124h0M369.7 85.4h0M362.8 129.8h0M391.8 133h0M385.5 124.8h0M366.2 124.3h0M368.4 109.6h0M356.5 110.8h0M379.2 109.5h0M359.8 120h0M385.7 109.2h0M384.1 120.9h0M361.3 109.8h0M379.5 100.6h0M379.1 114.1h0M393.6 110.3h0M375.6 102.5h0M411.1 108.1h0M362.8 111.4h0M396.1 101.9h0M378.2 100.3h0M385.1 100.9h0M372.2 124.4h0M380.8 106.6h0M389.5 115.8h0M374.7 123.9h0M375.9 102.2h0M372.6 109.1h0M373.8 137.5h0M381.5 113.1h0M370.8 102.7h0M361.1 89.5h0M368 93.5h0M390.1 99.5h0M400.5 117.4h0M361.1 91h0M370.6 122.8h0M379.8 94.1h0M365.4 101.8h0M388.9 109.1h0M361.3 100.1h0M385.6 89.1h0M376.5 108.9h0M384.6 97.5h0M385.8 127.2h0M403.7 92.2h0M373.6 107.8h0M375.6 99.2h0M385.1 135.9h0M393.6 99.6h0M366.5 118.1h0M375.8 101.7h0M390.1 115.8h0M387.3 108.2h0M390.6 105h0M359.5 110h0M383.5 91.5h0M376.2 119.4h0M369.3 114.7h0M366.4 109.3h0M372.9 115.4h0M361.4 97.6h0M378.3 104.5h0M380.8 104.5h0M356.9 118.2h0M377.5 118.2h0M369.6 106.1h0M390.4 91.4h0M396.6 115.7h0M373.3 111.1h0M381.9 101.5h0M377.6 99.5h0M375.3 117.2h0M381.3 117.8h0M384.3 98.4h0M389.8 139.7h0M366.6 96.1h0M382.9 120.2h0M387.2 127h0M380 123.9h0M362.4 110.3h0M369.2 108.3h0M372.1 108.4h0M374.9 105.8h0M365.5 100.4h0M394.9 120.3h0M371.6 116.7h0M380.2 103.4h0M393.4 122.3h0M372.4 116.8h0M363.6 92.5h0M385 128.1h0M370 104.2h0M358.3 99.3h0M371.5 123.4h0M374.7 109.8h0M374.3 119.4h0M373.5 111.8h0M373 97.7h0M391.5 102.4h0M356.8 105.2h0M374.4 119.1h0M376.3 114.3h0M359.7 97.5h0M376.3 108.4h0M393.4 98.3h0M387.7 93.1h0M393.4 127.7h0M365.7 102.5h0M382.2 96.3h0M381.2 123.5h0M377.4 113.6h0M371.9 121.1h0M363.3 127.6h0M373.7 106.4h0M377.1 123.8h0M365 96.8h0M374.1 101.6h0M385.4 80.2h0M383.6 89h0M369.6 111.4h0M361.4 98.4h0M364.4 109.4h0M363 105.4h0M362.8 112.6h0M359.1 87h0M375.2 120.6h0M364.3 97.4h0M365.8 120.9h0M373 107h0M384.3 103.3h0M382.8 91.8h0M387.3 140.8h0M388.6 113.6h0M357.9 104.2h0M365.4 112.1h0M384.3 111.6h0M383.7 119.4h0M359.1 95.1h0M380.1 110.4h0M375 101h0M387.3 115.5h0M388.9 106.1h0M383 109.4h0M361.7 109.1h0M376.3 117.7h0M360.3 95.3h0M364.5 87.1h0M365.5 138.9h0M375.9 101.6h0M365.1 129.5h0M358.8 108.7h0M373 101.9h0M364.6 91.5h0M363 124.3h0M392.5 106.9h0M383.2 115.1h0M375.4 108.5h0M389.9 116.3h0M371.1 107.4h0M386.2 103.4h0M364.6 107h0M367.5 123.9h0M378.7 109h0M367.1 125.6h0M379.7 133h0M385.9 107.6h0M366.8 106.9h0M376.4 118.7h0M380.3 127.3h0M366.2 102.8h0M361.4 93.2h0M388.8 106.5h0M386.6 97.8h0M385.5 103.8h0M379.2 98.1h0M392.2 114.8h0M387.7 106.9h0M390.7 110.8h0M367.6 102.9h0M374.7 100h0M358.4 111.4h0M383.3 106.8h0M385 127.5h0M357.5 112.8h0M361.4 102.9h0M376.3 83.8h0M381.9 119.3h0M381.1 117.1h0M397.6 106h0M388.3 126h0M380.4 90.3h0M371.9 106.8h0M383.8 107.1h0M371.6 126.2h0M366 99.6h0M374.5 122.4h0M381.7 110.8h0M367.6 123.6h0M385.5 90.9h0M378.3 83.5h0M393.5 116.7h0M365.8 95.8h0M370.1 90.7h0M381.4 104.4h0M389.4 96h0M369.4 130h0M376.4 103.9h0M376.5 118.6h0M360.9 108.9h0M378 118.1h0M389.8 110.5h0M377.1 114.5h0M380.1 98.3h0M370.4 108.3h0M374.5 101.7h0M372.2 113.2h0M376.4 116.5h0M384.7 116.1h0M386.6 119.3h0M392.1 116.9h0M365.9 135.7h0M388.7 123.8h0M383.5 110.5h0M359.1 114.8h0M369.4 105.6h0M358.8 97.9h0M380.1 116.2h0M363.7 109.9h0M377.3 111.7h0M380.9 118.5h0M369.2 92.1h0M402.2 105.7h0M361.1 118.3h0M381.6 103.2h0M404.6 84.1h0M390.7 109.6h0M378 113.5h0M371 113.5h0M357 105.6h0M398.1 81.5h0M390 85.3h0M362.9 119.7h0M368.7 103.6h0M371.7 102.9h0M379.5 122.6h0M380.7 126.8h0M389.6 78.8h0M395.7 108.8h0M360.3 114.8h0M386.5 92.9h0M357.9 117.6h0M366.8 126.1h0M376.8 103.9h0M356.7 116.6h0M356.9 128.8h0M396.2 107.5h0M369 117.7h0M390.2 101.1h0M402.7 107.7h0M388.7 83.9h0M373.3 102.3h0M399.9 107.6h0M357.4 131.5h0M365 110h0M357.7 117.5h0M376.5 106.8h0M368.7 103.7h0M364.6 94.4h0M389.7 119.9h0M379.3 135h0M371.3 106.5h0M370.7 112.7h0M371.7 122h0M386.8 116.1h0M394.5 107.4h0M366.8 142.9h0M360 121.7h0M368.9 98.1h0M388.6 105.6h0M379.9 104.2h0M375.9 105h0M374.9 108.9h0M365.1 114.8h0M371.6 99.3h0M360.3 114.9h0M391.3 95.5h0M368.5 115h0M387.6 117.9h0M358.5 110.4h0M385.7 112.6h0M371 96.9h0M376.1 109.3h0M374.4 126.6h0M389.5 101.2h0M377 106.6h0M375.3 128h0M385.9 110.4h0M365.4 108.2h0M378.7 104.5h0M388.4 110.2h0M358.6 132.6h0M372.4 120.9h0M388.5 126.1h0M394.3 113.5h0M375.5 121.2h0M373.7 96.1h0M368.1 117.3h0M382 97.8h0M389.6 113.4h0M387.1 115.9h0M369.9 101.1h0M388.6 112.5h0M373.9 105.6h0M360.5 89.3h0M369.5 122.2h0M383.9 102.5h0M393.9 107.5h0M360.9 120.8h0M392.1 105.7h0M358.1 109.3h0M393.9 113h0M364.4 117.8h0M367.5 124h0M369.3 132.5h0M369.4 112.1h0M361.7 95.9h0M378.5 113.9h0M361.3 116.2h0M368.6 103.9h0M373.1 114.4h0M383.5 123.7h0M379 102h0M365.1 114.1h0M358.4 108.1h0M369 108.9h0M376.4 121.5h0M395.4 119.8h0M387.2 98.2h0M387.5 124.3h0M356.3 137.9h0M366.6 83.7h0M397 110.7h0M363.5 103.7h0M388 112.8h0M369.1 122.7h0M361.8 100.6h0M366.7 101.7h0M383 107.5h0M360.3 104.9h0M375.3 116.7h0M370.9 114.4h0M361.8 110.3h0M376 96.6h0M381.6 111.6h0M374.7 104.7h0M400.1 110h0M364 100.6h0M381.7 107.7h0M363.7 102h0M386.2 110.9h0M387.7 109.8h0M358.6 119.6h0M378.1 102.8h0M370 99.3h0M384.8 105.4h0M380.2 112.9h0M370.6 114.1h0M370.8 97h0M368.6 97h0M383.8 117.2h0M366.4 116.8h0M377.2 120.7h0M361.8 110.3h0M361.1 102.5h0M391.8 87.9h0M362.1 115.4h0M384.1 101.4h0M378.8 122.1h0M385.8 101.9h0M391.6 107.9h0M382 107.9h0M394.7 104.3h0M376.5 113.1h0M364.7 107.4h0M359.2 107.4h0M375.1 112.6h0M395.4 88h0M380.7 114.8h0M359 110.8h0M373.9 99h0M383.4 131h0M382.7 118.5h0M387.8 108.6h0M386.6 101.1h0M376.3 117.7h0M391 106.8h0M370.2 115.1h0M373 111.5h0M384.4 101.6h0M385.4 114.2h0M370.6 96.3h0M365.8 109.5h0M386.2 88.4h0M383.2 112.1h0M359.3 119.4h0M379.1 114.8h0M361.3 97.9h0M385.8 125.4h0M378.7 107.9h0M368.2 91.2h0M386.7 109h0M389.9 102.1h0M387.6 102.2h0M381.6 125h0M364.9 119.9h0M373.9 99.7h0M376.6 117.1h0M364.8 107.1h0M366.7 101.6h0M371.3 119h0M367.6 123.6h0M369.1 102.5h0M387.8 125.3h0M365.6 116.4h0M359 105.6h0M369.2 117.7h0M357.8 104.4h0M365.1 111.1h0M358.1 95.4h0M410.4 112.3h0M357 89.5h0M395.5 123.6h0M363.2 98.1h0M380.1 132.1h0M381.7 117.2h0M358.7 90.6h0M379 121h0M375.8 109.9h0M391.8 100.8h0M388.1 119h0M366 111.3h0M375.4 116.3h0M361.4 107.5h0M375.2 110.3h0M374.3 112.7h0M371.5 104.6h0M387.2 103h0M369.9 100.4h0M359.3 114.9h0M373.4 108.5h0M379.8 108.1h0M382.7 129.6h0M378.5 107.1h0M395.2 117.7h0M376.7 119.2h0M359.2 100.8h0M365.7 116h0M359.6 102.3h0M386.2 103h0M375.5 100.3h0M372.5 94.5h0M386.5 118.9h0M385.3 104.5h0M359.3 109h0M376.1 108.1h0M366.5 99.2h0M364.6 109.1h0M367.8 128h0M370.5 114.9h0M368 108h0M361.5 104.8h0M391.1 98.6h0M379.5 108.6h0M366.7 117.8h0M366.9 114.7h0M369.3 120.5h0M386.2 110.7h0M388 115.4h0M393.9 108.7h0M377 106.1h0M371.3 107.1h0M358 128.5h0M364.1 98.4h0M373.5 125.9h0M381.6 102.1h0M358.1 97.9h0M372.9 119.3h0M367.9 127.3h0M398.6 111.7h0M372.7 117.2h0M386.6 99.1h0M374.8 111.9h0M364.4 117.5h0M372.3 105.6h0M397.9 111.8h0M394.8 108.3h0M387.2 101.9h0M375.9 121.6h0M370.5 121.7h0M376.3 109.2h0M357.7 141.6h0M364.6 106.5h0M364.8 106.7h0M376.8 95.6h0M387.4 107.2h0M381.6 87.3h0M367.3 106.8h0M369 102.8h0M237.6 243.8h0M267.6 242h0M245.9 239h0M242.7 235.5h0M248.6 226.4h0M251.4 235.9h0M238.5 236h0M252.1 234.4h0M249.8 232.5h0M247.7 233.1h0M253 233.5h0M251.8 230.3h0M248.4 240.7h0M240.5 237.2h0M240.2 238.6h0M252.9 240.8h0M257.4 241.3h0M241.2 237.4h0M251.2 237.6h0M236.6 243.8h0M267.1 237.2h0M245.5 244.6h0M238.7 238.7h0M253.2 232.1h0M244.4 238.6h0M252.2 238.3h0M249.9 242.3h0M234.8 238.3h0M254.3 233.7h0M234.5 237.9h0M243.5 236.6h0M245.4 236.6h0M249.4 235.2h0M246.7 235.1h0M240.1 238.1h0M240.4 238.8h0M246.8 240.6h0M251.6 230.2h0M246.8 239.2h0M247.8 237.1h0M255.5 239.2h0M236.3 237.3h0M254.9 237.5h0M236.9 239.6h0M251.7 240.8h0M248.3 237.3h0M253.7 233.3h0M260.6 238.3h0M248.7 239.5h0M253.2 229.6h0M254.3 236.6h0M240.7 240h0M254.4 238.2h0M242 237.3h0M239.4 245.4h0M241.7 239.9h0M259.9 234.1h0M242.7 229.4h0M245 232.5h0M248.2 236.2h0M247.1 237.1h0M243.2 237.3h0M246.4 234.6h0M244.5 235h0M236.7 236.9h0M232.2 238.7h0M246.7 237.5h0M256.1 240.2h0M243.5 238.1h0M256.4 236.4h0M250 238.4h0M238.7 237.9h0M243.9 236.1h0M250.4 239.2h0M239.8 236.1h0M245.4 233.8h0M249.9 236.3h0M241.4 240.1h0M246.3 233.1h0M246.2 236.3h0M249.3 244.5h0M251.3 241.8h0M245.6 238.5h0M250.9 236.6h0M248.9 235.4h0M252.5 233.9h0M260.5 224.5h0M236 236.5h0M249.9 237.4h0M234.1 238.4h0M240 237.6h0M243.6 236h0M234.9 232.6h0M242.6 233.4h0M248.9 232.3h0M248.7 238.8h0M241.1 233.7h0M244.2 239.6h0M258 244.2h0M247.7 239h0M248.5 236.9h0M238.5 235.8h0M255.8 241.6h0M242.2 231.5h0M261.9 237.1h0M250.6 236.4h0M232.7 238h0M239.3 236h0M242 236.1h0M266 242h0M243 234.7h0M253.1 242.2h0M241.2 238.9h0M245.3 230.3h0M256.3 242.8h0M240.4 239.1h0M242.9 236.6h0M243.3 236.5h0M247.3 234.9h0M249.2 232.6h0M253.4 233.8h0M232.2 239.7h0M244.2 235.2h0M254.2 236.8h0M262.4 238.4h0M235.6 235.3h0M241.6 236h0M260.3 246.1h0M260.6 238.5h0M251.3 237.5h0M262.7 235.2h0M246.7 234.6h0M245.3 234h0M238 241h0M231.5 240.4h0M237.9 236.1h0M239 245.3h0M239.6 237.8h0M252.2 233.7h0M240.4 233.4h0M251.4 237.9h0M255 232.1h0M239.6 236.6h0M243.4 238h0M255.9 237.4h0M240.6 236.8h0M241.2 234.8h0M261.7 239.2h0M261.5 236.2h0M246.4 232.7h0M248.9 239.4h0M252.5 233.1h0M247.8 240h0M243.2 239.3h0M243 236.9h0M242.4 232h0M240.3 237.5h0M244.7 236.9h0M242.4 239.9h0M245.6 238.3h0M243.2 241.3h0M246.2 238.4h0M264.5 238.4h0M234.6 234.7h0M249.5 232.5h0M235.3 236.6h0M234.4 240.6h0M250.4 235.9h0M256.6 234.7h0M237.6 240h0M247.1 236.2h0M255.2 236.5h0M252.1 237.7h0M256.2 238.8h0M243.2 242h0M244.1 242.8h0M236.9 237.1h0M257.6 235.6h0M250.7 236.2h0M258.4 238.1h0M249.8 240.7h0M234.9 239.3h0M248 241.3h0M247.2 239h0M246.5 233.7h0M243 236.4h0M236.4 236.8h0M243.2 243.1h0M245 237.4h0M247.7 239.3h0M234.2 231.1h0M259.5 234.2h0M239.9 240.9h0M249.3 234.3h0M252.9 233.2h0M259.9 235.9h0M249.6 236.9h0M262.2 233.8h0M246.2 244.2h0M249.2 236.3h0M385.5 227h0M384.6 215.7h0M381.3 241.8h0M376.6 231.6h0M371.7 231.8h0M359.2 242.2h0M384.2 239.5h0M372.1 238.3h0M386.7 255.2h0M388.1 222.3h0M362.3 238.6h0M380.1 235.4h0M374 221.6h0M375.2 215.1h0M377.1 252.9h0M383.2 221.2h0M361.3 254.2h0M382.2 224.6h0M381.2 226.5h0M358.7 231.3h0M380.2 243h0M356.1 244.8h0M369.9 209.7h0M386.8 239.9h0M380.6 238.3h0M361 235.1h0M407.9 246.7h0M378.7 235h0M374.5 236.3h0M376.1 220.4h0M368.5 210.4h0M361.4 228.2h0M378.5 252.6h0M367.5 225.5h0M372.2 252.2h0M358.5 226h0M380.8 239.6h0M378.7 231.1h0M386.8 219.9h0M394.8 224.9h0M378.5 220.5h0M364.9 240h0M381.1 228h0M384.4 262.8h0M375.9 212.4h0M387.2 221.5h0M373.3 221.4h0M401.6 245.5h0M369.2 244.9h0M377.9 222.3h0M367.4 230.4h0M396.6 230.9h0M366.2 225.9h0M384.9 226.8h0M397.3 239h0M375.4 231h0M368.9 205.7h0M389.5 245.4h0M370.6 232.8h0M375.9 229.1h0M374.1 240.1h0M383.1 238h0M365.5 224.7h0M373.4 213.6h0M373.5 230.8h0M389.7 208h0M379 227.6h0M392.7 214.8h0M374 239.8h0M374 225.3h0M386.7 212.4h0M372.8 223.3h0M372.4 217.1h0M375.9 242.6h0M379.6 216.7h0M366.4 222.2h0M380.3 228.1h0M393.6 237.3h0M365.4 230.4h0M371.6 229.9h0M391.5 242.9h0M360.3 250.1h0M406.8 237h0M389.5 231.4h0M380.5 223.3h0M393.6 227.9h0M366.3 214.7h0M403.5 214.7h0M359.6 235h0M374 247.7h0M382.1 233.4h0M362.8 235.6h0M392.5 232.8h0M357.7 223.5h0M371.7 233.2h0M376.3 238.4h0M375.4 240.8h0M365.1 216.4h0M362.3 232.6h0M406.5 217.3h0M366.6 222.7h0M389.1 235.8h0M371.4 233.2h0M395.3 227.1h0M358.2 230.3h0M356.8 232.3h0M385.6 226.3h0M386.3 242.4h0M398.9 226.4h0M381.7 238.3h0M384.8 239.8h0M380.4 237.2h0M386.3 235.1h0M381.7 233h0M372.9 211.5h0M372.8 230.4h0M366.2 225.5h0M390.9 227.4h0M372.2 242.7h0M377.9 235.4h0M366.4 224.3h0M374.1 222.8h0M374.6 241.4h0M386.6 238.2h0M389.6 232.6h0M373.9 230.1h0M380.5 212.7h0M377.7 230.5h0M361.8 224.4h0M389.7 226.1h0M372.6 245.3h0M360.6 229.7h0M368.1 224.8h0M371.4 235.7h0M370.2 239.7h0M384 219.2h0M374.6 228.3h0M356.2 212h0M387.6 233.1h0M390.5 246h0M384.4 233.9h0M391.3 228.8h0M368.5 240h0M382.7 224.9h0M368.2 217.2h0M402.4 226.3h0M367.1 224h0M366.8 231.4h0M374.4 238.1h0M396.6 230.6h0M365.8 250.3h0M366.8 237.1h0M377.1 228.6h0M360.2 231.7h0M376.6 248.5h0M381.4 214.9h0M389.3 211.6h0M361.8 221.1h0M371.5 246.3h0M371.1 238h0M371.5 219.2h0M377.3 211.7h0M387.7 213.7h0M375.7 208.3h0M372.4 234.2h0M363.6 249.7h0M373.7 234.5h0M376.9 237.6h0M381.8 215.9h0M389 212.3h0M356.9 231.2h0M373 229.3h0M362.4 233.5h0M372.2 228.1h0M376.7 227.7h0M371.1 241.4h0M383.3 230.8h0M375.5 243.8h0M374.1 212.6h0M359.2 232.2h0M376.4 226.5h0M363.3 215.2h0M363.9 221.7h0M373.2 239.3h0M369.6 218.5h0M379.4 242.2h0M377.9 225.4h0M368.4 226.7h0M359.4 239.2h0M369.4 249.4h0M390 225h0M408.5 225.1h0M363 212.1h0M373.7 233.9h0M368.7 228.8h0M380 222h0M372.9 227.3h0M394.1 236.7h0M372.3 219.6h0M371.7 221.9h0M368.8 233.5h0M384.6 240.1h0M365.8 231.8h0M373.2 238.4h0M403.4 240.1h0M385.9 232.4h0M380.7 210h0M378.2 228.4h0M373.1 237.2h0M357.4 226.1h0M384.9 237h0M376.3 235.5h0M363.1 245h0M363.5 225.3h0M376.7 231.1h0M386.9 249h0M380.7 220.7h0M373.9 222.2h0M363.1 225.9h0M386.5 222h0M378.2 222.4h0M385.6 241.6h0M362.1 233.3h0M372.6 238.5h0M356.8 249h0M378.5 223.5h0M390.9 243.6h0M380.9 225h0M363 221.1h0M395.5 230.6h0M373.5 226.4h0M390.3 226.4h0M385.4 212.2h0M363.3 233.3h0M360.9 249.2h0M381.1 234.5h0M373 228.9h0M365.5 203h0M399 229.8h0M398.2 229.8h0M388.7 243.6h0M366.3 206.9h0M389.8 249.2h0M372.8 227.4h0M382.1 228.9h0M381.9 221.9h0M377.4 234h0M358.3 234.6h0M373.3 234.9h0M375.6 240.5h0M392.8 226.5h0M368.8 237.3h0M369 209h0M399.8 227.3h0M371.1 218.2h0M381.3 225.5h0M357.9 233.4h0M394.6 215.1h0M373.5 251.7h0M371.3 222.9h0M395.6 232.3h0M386.5 246.5h0M382.7 233.3h0M400 215h0M358.6 227.8h0M365.7 228.3h0M383.6 228.1h0M379.6 226.1h0M373.7 214.9h0M397.9 240.5h0M378.8 225.8h0M373.3 232.1h0M380.4 220.3h0M371.5 229.1h0M370.4 230.5h0M379.6 233.9h0M380 224.3h0M375.8 239.6h0M375 232.2h0M374.8 235.3h0M356.6 229.4h0M385.5 221h0M381.7 225.4h0M368.3 218.8h0M361.7 241.7h0M383.5 222.1h0M358.6 227.2h0M378.6 246.6h0M393.7 220.2h0M377.2 239.2h0M364.4 225.3h0M386.5 216.2h0M374.5 229.3h0M370.1 230.2h0M367.8 249.6h0M400.9 225.4h0M400.3 244.1h0M363.1 227.4h0M390.3 222.7h0M369.3 204.9h0M364.3 222.7h0M377.5 232.5h0M369 216.4h0M377.3 236.1h0M373.3 243.7h0M367.8 238.4h0M377.7 243.2h0M396.1 218.4h0M378.3 233.4h0M368 222.5h0M390.3 234.7h0M366.7 230.5h0M378 217h0M365.5 235.1h0M376 216.3h0M378.2 249.8h0M382.4 216.8h0M367.8 223.8h0M363.5 221.8h0M366.2 229.1h0M357.2 239.2h0M378.4 249.4h0M385.4 239.6h0M381.1 228.9h0M359.5 236.7h0M375.4 223.5h0M379.6 233.3h0M365.3 244.4h0M367.5 231.3h0M388.5 224.8h0M369.9 234.6h0M369.6 225h0M358.9 232.3h0M368.9 238.2h0M387.8 229.8h0M384.6 223h0M395.8 224.5h0M372.4 226.3h0M367.4 237.9h0M374.1 221.2h0M384.6 230.4h0M381.9 232.1h0M368 212.1h0M370.1 221.2h0M390.5 227.9h0M394.1 252.9h0M389.9 253.7h0M361.6 225.1h0M360.1 216.7h0M356.8 238.9h0M363.4 226.8h0M381.9 226h0M395.1 241.9h0M383.8 246.6h0M381.4 231.9h0M389 240.4h0M388 207.6h0M401.7 231.7h0M393.2 218.4h0M377.1 223.2h0M363 232.8h0M383.6 222.6h0M359.6 235.6h0M386.6 239.1h0M367.1 226h0M392.7 238.8h0M378.7 232.4h0M372.1 236.1h0M383.8 230.5h0M377.9 216.3h0M372.4 245.8h0M377.3 216.5h0M368.1 231h0M393.7 251.3h0M373.8 228.6h0M376.1 219.1h0M392.1 218.2h0M384.2 225.5h0M360.4 233.3h0M396.8 218.1h0M377.3 223.2h0M388.8 215.5h0M357.3 226.3h0M357 239.8h0M367.7 239.8h0M367.3 228.1h0M397.1 236.5h0M391.3 244.1h0M381.1 233.1h0M368.9 232.9h0M389.4 222.4h0M370 250.6h0M359.5 228.2h0M373 223.1h0M394.5 214.3h0M370.5 213.4h0M365 245.4h0M374.5 233.6h0M364.6 234.4h0M371.8 226.2h0M375.7 242.2h0M358.6 238.5h0M378.2 227.9h0M364.6 233.4h0M385.2 220.7h0M384.3 230.4h0M385.6 232.7h0M371.8 232.1h0M383.1 215.7h0M374.5 206h0M377.2 225.3h0M374.7 239.9h0M386.9 244.2h0M386.9 227.9h0M363.7 255.6h0M365.3 226.5h0M380.1 221.9h0M376.4 232.1h0M367.2 219.8h0M374.8 234.3h0M361.1 231.4h0M375.8 221.2h0M380 216.5h0M386.6 223h0M388.1 231h0M375.2 216.8h0M384.5 219.1h0M404.2 234.3h0M377.1 230.3h0M383.6 234.6h0M379.7 238.7h0M372.3 246h0M382.2 229.8h0M364.8 242.6h0M383.1 213.6h0M356.3 231.4h0M357.8 223.9h0M366.6 230.5h0M382.2 223h0M367.4 232.7h0M396.2 234.1h0M369.5 239.3h0M372.6 216.4h0M383.2 246.3h0M359.4 237.6h0M357.9 229.2h0M372.8 226.6h0M372.9 236.8h0M367.6 227.8h0M370.3 232.7h0M365.7 237.8h0M378.4 224.2h0M357.2 227.4h0M388 236.4h0M374.5 250.1h0M395.2 235.2h0M393.1 227.5h0M369.5 232.3h0M367.6 243.4h0M381.9 245.5h0M368.3 244.7h0M376.3 235.3h0M379.8 217.5h0M386.6 225.6h0M382.9 229.6h0M361.1 227h0M378.2 227.1h0M397.1 242.1h0M375.6 226.5h0M393.8 230.5h0M390 216.6h0M386.6 228.5h0M372 234.6h0M381.4 229.3h0M374.6 232.4h0M388.8 237.1h0M370.2 240.8h0M384 224.9h0M373.1 207h0M372.6 219.2h0M375.9 223h0M390.9 242.9h0M369.5 221.3h0M391.8 216.7h0M369.6 226.3h0M377.6 230.6h0M362 238.8h0M379.4 233.3h0M395.6 248.7h0M377.7 226h0M370.6 228.9h0M359.8 223.1h0M367.4 235.3h0M384.3 205.6h0M359.8 229.8h0M376.9 234h0M368.4 234.2h0M384.4 226.6h0M360.1 225h0M378.2 232.8h0M380 231.8h0M358.3 209h0M401.6 236.2h0M379.5 229.6h0M377.7 239h0M356.9 226h0M371.4 225.8h0M364.2 231.8h0M368.8 232.7h0M384.3 221.5h0M371.6 221.5h0M385.2 237.3h0M388 240.6h0M375.8 220.1h0M364 242.1h0M375.9 238h0M366.4 227.8h0M400.1 239.8h0M376.1 240.5h0M387.2 238.5h0M390.7 237h0M385.7 221.3h0M357.9 225h0M391.3 243.5h0M359.6 227.3h0M375.2 235.8h0M378.7 244.8h0M377.7 227.9h0M370.8 240.8h0M370.8 235.3h0M368.6 218.4h0M363.4 238.1h0M369.1 220.8h0M384 225.8h0M402.3 225.5h0M375.2 222.4h0M394.8 232.9h0M371.1 229.1h0M374.3 241.6h0M362.9 244.4h0M365.3 230.4h0M401.3 225.1h0M374.5 228.5h0M375.7 231.5h0M372.1 234.4h0M368.3 243.2h0M383.4 218.7h0M367 226.8h0M387 210.8h0M389.1 210.6h0M365.8 221.5h0M369.5 237.8h0M386.6 229h0M371.4 220.4h0M390 225.2h0M410.7 214.5h0M365.2 236.9h0M398.8 226.9h0M380.1 223.9h0M377.1 209h0M382.9 224.7h0M379.9 228.7h0M361.1 214.6h0M360.9 229.6h0M383.9 241.1h0M387.2 250.5h0M387.6 247.9h0M384.9 233.2h0M372.3 226.2h0M356.2 242.5h0M374.1 225.8h0M363.6 229.1h0M380.2 236h0M375.7 232.2h0M375.1 225.8h0M389.7 228.7h0M366.4 247.1h0M361.5 225.5h0M375.8 228.3h0M373 239.6h0M387.7 216.7h0M399.4 218.3h0M360.3 236.8h0M360.6 218.1h0M385.4 235h0M379.3 244h0M388.2 225.4h0M367.9 234.2h0M368.5 232.6h0M386 232.6h0M373.3 233.5h0M356.9 245.8h0M367.8 216.3h0M372.5 220.8h0M375 220.7h0M370.1 222h0M383.4 238.4h0M372.9 229.2h0M379 239.1h0M376.6 218.9h0M382.7 253.6h0M382.8 233.2h0M366.6 214.8h0M381 235.7h0M380.2 231.5h0M391.4 228.9h0M376.5 237.7h0M381.8 236.9h0M380.4 233h0M358.5 226.8h0M387.8 246.3h0M368.3 238.5h0M376.7 222h0M370.8 230.6h0M382.4 248.9h0M364.7 228.5h0M369.6 239.4h0M386.7 245.7h0M368.3 217.9h0M365.7 211h0M378.8 209.5h0M379.9 219.5h0M379.9 244.7h0M372.6 228.6h0M374.7 223.7h0M378.8 227.4h0M376.3 221.8h0M381.3 233.3h0M362.6 229.2h0M359.2 233.9h0M368.8 229.5h0M377.8 227.1h0M371.7 224.3h0M403.2 221.8h0M382.3 227.5h0M398.4 218.5h0M372.9 233.8h0M367.6 251.1h0M377.6 233.9h0M358 235.5h0M379.1 228.7h0M366.6 221.8h0M365.6 245.3h0M363.3 226.8h0M379.6 216.3h0M368.5 241.2h0M377.5 235.4h0M383.7 229.6h0M381.7 206.2h0M371.3 244h0M358.5 239.3h0M393.6 228.7h0M370.4 219.8h0M382.7 232.3h0M381.6 229.3h0M374.7 223.9h0M388.5 228.4h0M390.8 238.8h0M364.2 218.7h0M388 233.8h0M369.3 240.2h0M369.4 237.2h0M366.3 225.1h0M383.3 233.6h0M383.5 213.5h0M361.3 218.5h0M360.9 223h0M399.5 219.9h0M361.4 227.3h0M391.8 225.8h0M386.8 240.1h0M368.6 233.8h0M387.4 232.1h0M395.8 233.7h0M395.4 219.9h0M377.2 206h0M368.7 227.6h0M381 215.4h0M378.2 239.2h0M385.3 233h0M367.1 234.8h0M361.5 216.8h0M369.6 252h0M361.2 243.1h0M371.7 246.9h0M367.4 218.1h0M365.4 227.8h0M381.6 222.6h0M376.8 253.2h0M374.4 236.4h0M409.3 222.3h0M373.9 226.4h0M377.7 221.8h0M370 237.1h0M374.2 210.6h0M389.4 233.5h0M399.8 221.4h0M378.8 220.7h0M384.6 224.1h0M391.3 230.8h0M383 237.2h0M387.6 234.8h0M367.9 231h0M374.7 229.9h0M387.6 220.5h0M369.9 242.9h0M372.3 235.2h0M366.9 230.3h0M391.4 245.7h0M374.6 223.4h0M394.2 210.9h0M371.5 236.9h0M405.7 240.2h0M372.3 229.1h0M373.3 220.3h0M368.6 232.9h0M375.6 213.2h0M396.1 234.5h0M359.1 224.7h0M383.4 242.6h0M380.1 222.3h0M387.2 234.5h0M364.4 213.3h0M373.5 217.6h0M370.1 209.3h0M381.3 231.1h0M370.4 231.6h0M361.1 237.4h0M395.3 223.6h0M372.5 233.9h0M376.4 224.6h0M363.9 218.9h0M400.7 230.4h0M388.5 244.7h0M370 224.6h0M368.5 233.4h0M360.5 239.3h0M370.5 222h0M383.4 244h0M361.8 227.8h0M371.6 235h0M384.5 228.5h0M361.3 223.7h0M385.7 248.2h0M376.4 221.4h0M408.1 241.2h0M364 217h0M361.4 259.4h0M390.8 219.7h0M363.4 226h0M356.3 235.6h0M359 227.3h0M381.8 227.2h0M387.2 224.4h0M389.8 223h0M365.8 215h0M378.4 236.6h0M373.9 244.1h0M382.5 233.2h0M378.7 217.7h0M393.8 233h0M394.2 217.2h0M398.3 243.5h0M375.7 226.2h0M395.9 219.8h0M370.9 241h0M372.7 221.5h0M358.1 224.7h0M391.1 257.3h0M360.4 217.4h0M382.3 227.9h0M368 228.2h0M392.1 237.5h0M363.4 234.8h0M357 241h0M386.2 247h0M380.8 209.8h0M371.1 239.1h0M382.6 233.6h0M366 210.2h0M367.2 231.3h0M364.6 221h0M379.1 226.3h0M376.3 240.5h0M364 239.7h0M358.3 238.6h0M379.3 234.7h0M383.8 231.9h0M376.8 231.8h0M374.5 233.7h0M370.6 216.1h0M357.6 247.7h0M382.2 218.8h0M395.9 232.6h0M358.5 221.8h0M364.7 241.3h0M384.2 227.2h0M370.5 222.5h0M375.3 219.2h0M385.9 228.7h0M386.8 245.6h0M378 238.6h0M377.2 220.9h0M388.7 226.4h0M371.3 208.3h0M383.2 224.6h0M391.7 234.9h0M373 238.6h0M370.1 221.4h0M373.2 227.4h0M388.8 222.7h0M359 243.5h0M386.1 226.1h0M375.5 213.3h0M396.7 224.3h0M380.8 236.4h0M377.2 232.2h0M371.5 228.9h0M370.6 255h0M374.8 231.2h0" stroke="#111" stroke-width="1" stroke-linecap="round" fill="none"/><path d="M89.8,134.5 L89.7,135.1 L89.4,135.8 L88.9,136.6 L88.2,137.4 L87.4,138.4 L86.3,139.4 L85.2,140.4 L83.9,141.3 L82.5,142.0 L81.1,142.6 L79.5,142.9 L78.0,143.0 L76.5,142.9 L74.9,142.7 L73.5,142.4 L72.1,141.9 L70.8,141.2 L69.7,140.5 L68.6,139.7 L67.8,138.8 L67.1,137.8 L66.6,136.7 L66.3,135.6 L66.2,134.5 L66.3,133.4 L66.6,132.3 L67.1,131.2 L67.8,130.2 L68.6,129.3 L69.7,128.5 L70.8,127.8 L72.1,127.1 L73.5,126.6 L74.9,126.3 L76.5,126.1 L78.0,126.0 L79.5,126.1 L81.1,126.4 L82.5,127.0 L83.9,127.7 L85.2,128.6 L86.3,129.6 L87.4,130.6 L88.2,131.6 L88.9,132.4 L89.4,133.2 L89.7,133.9Z" fill="none" stroke="#333" stroke-width="1.0"/><path d="M88.9,134.5 L88.8,135.1 L88.5,135.7 L88.1,136.3 L87.4,137.1 L86.6,138.0 L85.7,138.9 L84.6,139.7 L83.5,140.6 L82.2,141.2 L80.8,141.7 L79.4,142.0 L78.0,142.1 L76.6,142.0 L75.2,141.8 L73.8,141.5 L72.5,141.1 L71.4,140.5 L70.3,139.9 L69.4,139.1 L68.6,138.3 L67.9,137.4 L67.5,136.5 L67.2,135.5 L67.1,134.5 L67.2,133.5 L67.5,132.5 L67.9,131.6 L68.6,130.7 L69.4,129.9 L70.3,129.1 L71.4,128.5 L72.5,127.9 L73.8,127.5 L75.2,127.2 L76.6,127.0 L78.0,126.9 L79.4,127.0 L80.8,127.3 L82.2,127.8 L83.5,128.4 L84.6,129.3 L85.7,130.1 L86.6,131.0 L87.4,131.9 L88.1,132.7 L88.5,133.3 L88.8,133.9Z" fill="#f6f6f6"/><path d="M88.0,134.5 L87.9,135.0 L87.7,135.5 L87.2,136.1 L86.7,136.8 L85.9,137.5 L85.1,138.3 L84.1,139.1 L83.0,139.8 L81.8,140.4 L80.6,140.9 L79.3,141.1 L78.0,141.2 L76.7,141.1 L75.4,141.0 L74.2,140.7 L73.0,140.3 L71.9,139.8 L70.9,139.2 L70.1,138.6 L69.3,137.8 L68.8,137.1 L68.3,136.2 L68.1,135.4 L68.0,134.5 L68.1,133.6 L68.3,132.8 L68.8,131.9 L69.3,131.2 L70.1,130.4 L70.9,129.8 L71.9,129.2 L73.0,128.7 L74.2,128.3 L75.4,128.0 L76.7,127.9 L78.0,127.8 L79.3,127.9 L80.6,128.1 L81.8,128.6 L83.0,129.2 L84.1,129.9 L85.1,130.7 L85.9,131.5 L86.7,132.2 L87.2,132.9 L87.7,133.5 L87.9,134.0Z" fill="#c2c2c2" stroke="#5a5a5a" stroke-width="0.9"/><path d="M86.3,134.5 L86.2,134.9 L86.0,135.4 L85.7,135.9 L85.2,136.5 L84.5,137.1 L83.8,137.8 L83.0,138.4 L82.1,139.0 L81.1,139.5 L80.0,139.9 L78.9,140.1 L77.8,140.2 L76.7,140.1 L75.6,140.0 L74.6,139.8 L73.6,139.4 L72.6,139.0 L71.8,138.5 L71.1,138.0 L70.4,137.3 L70.0,136.7 L69.6,136.0 L69.4,135.2 L69.3,134.5 L69.4,133.8 L69.6,133.0 L70.0,132.3 L70.4,131.7 L71.1,131.0 L71.8,130.5 L72.6,130.0 L73.6,129.6 L74.6,129.2 L75.6,129.0 L76.7,128.9 L77.8,128.8 L78.9,128.9 L80.0,129.1 L81.1,129.5 L82.1,130.0 L83.0,130.6 L83.8,131.2 L84.5,131.9 L85.2,132.5 L85.7,133.1 L86.0,133.6 L86.2,134.1Z" fill="none" stroke="#ececec" stroke-width="1.0"/><path d="M84.7,134.5 L84.7,134.8 L84.5,135.2 L84.2,135.6 L83.8,136.1 L83.3,136.7 L82.6,137.2 L81.9,137.8 L81.2,138.3 L80.3,138.7 L79.5,139.0 L78.5,139.2 L77.6,139.3 L76.7,139.2 L75.8,139.1 L74.9,138.9 L74.1,138.6 L73.3,138.3 L72.6,137.9 L72.0,137.4 L71.5,136.9 L71.1,136.3 L70.8,135.7 L70.6,135.1 L70.5,134.5 L70.6,133.9 L70.8,133.3 L71.1,132.7 L71.5,132.1 L72.0,131.6 L72.6,131.1 L73.3,130.7 L74.1,130.4 L74.9,130.1 L75.8,129.9 L76.7,129.8 L77.6,129.7 L78.5,129.8 L79.5,130.0 L80.3,130.3 L81.2,130.7 L81.9,131.2 L82.6,131.8 L83.3,132.3 L83.8,132.9 L84.2,133.4 L84.5,133.8 L84.7,134.2Z" fill="none" stroke="#6a6a6a" stroke-width="0.8"/><path d="M83.1,134.5 L83.1,134.8 L82.9,135.1 L82.7,135.4 L82.4,135.8 L82.0,136.2 L81.5,136.7 L80.9,137.1 L80.3,137.5 L79.6,137.9 L78.9,138.1 L78.2,138.3 L77.4,138.3 L76.7,138.3 L76.0,138.2 L75.3,138.0 L74.6,137.8 L74.0,137.5 L73.4,137.2 L72.9,136.8 L72.5,136.4 L72.2,136.0 L71.9,135.5 L71.8,135.0 L71.7,134.5 L71.8,134.0 L71.9,133.5 L72.2,133.0 L72.5,132.6 L72.9,132.2 L73.4,131.8 L74.0,131.5 L74.6,131.2 L75.3,131.0 L76.0,130.8 L76.7,130.7 L77.4,130.7 L78.2,130.7 L78.9,130.9 L79.6,131.1 L80.3,131.5 L80.9,131.9 L81.5,132.3 L82.0,132.8 L82.4,133.2 L82.7,133.6 L82.9,133.9 L83.1,134.2Z" fill="none" stroke="#e4e4e4" stroke-width="0.9"/><path d="M81.6,134.5 L81.5,134.7 L81.4,134.9 L81.2,135.2 L81.0,135.5 L80.7,135.8 L80.3,136.2 L79.9,136.5 L79.4,136.8 L78.9,137.1 L78.4,137.2 L77.8,137.3 L77.3,137.4 L76.7,137.4 L76.1,137.3 L75.6,137.2 L75.1,137.0 L74.6,136.8 L74.2,136.5 L73.8,136.3 L73.5,135.9 L73.3,135.6 L73.1,135.2 L73.0,134.9 L73.0,134.5 L73.0,134.1 L73.1,133.8 L73.3,133.4 L73.5,133.1 L73.8,132.7 L74.2,132.5 L74.6,132.2 L75.1,132.0 L75.6,131.8 L76.1,131.7 L76.7,131.6 L77.3,131.6 L77.8,131.7 L78.4,131.8 L78.9,131.9 L79.4,132.2 L79.9,132.5 L80.3,132.8 L80.7,133.2 L81.0,133.5 L81.2,133.8 L81.4,134.1 L81.5,134.3Z" fill="none" stroke="#727272" stroke-width="0.8"/><path d="M80.0,134.5 L79.9,134.6 L79.9,134.8 L79.8,135.0 L79.6,135.2 L79.4,135.4 L79.1,135.6 L78.8,135.8 L78.5,136.0 L78.2,136.2 L77.8,136.3 L77.4,136.4 L77.1,136.4 L76.7,136.4 L76.3,136.4 L76.0,136.3 L75.6,136.2 L75.3,136.0 L75.0,135.9 L74.8,135.7 L74.6,135.5 L74.4,135.2 L74.3,135.0 L74.2,134.8 L74.2,134.5 L74.2,134.2 L74.3,134.0 L74.4,133.8 L74.6,133.5 L74.8,133.3 L75.0,133.1 L75.3,133.0 L75.6,132.8 L76.0,132.7 L76.3,132.6 L76.7,132.6 L77.1,132.6 L77.4,132.6 L77.8,132.7 L78.2,132.8 L78.5,133.0 L78.8,133.2 L79.1,133.4 L79.4,133.6 L79.6,133.8 L79.8,134.0 L79.9,134.2 L79.9,134.4Z" fill="none" stroke="#666" stroke-width="0.7"/><ellipse cx="76.7" cy="134.5" rx="2.0" ry="1.7" fill="#fbfbfb"/><path d="M139.0,135.3 L138.9,136.5 L138.6,137.7 L138.0,138.9 L137.3,140.0 L136.3,141.0 L135.2,141.9 L133.9,142.8 L132.5,143.4 L131.0,144.0 L129.4,144.4 L127.7,144.6 L126.0,144.7 L124.3,144.6 L122.6,144.3 L121.0,143.7 L119.5,143.0 L118.1,142.1 L116.8,141.1 L115.7,140.1 L114.7,139.0 L114.0,138.0 L113.4,137.1 L113.1,136.2 L113.0,135.3 L113.1,134.4 L113.4,133.5 L114.0,132.6 L114.7,131.6 L115.7,130.5 L116.8,129.5 L118.1,128.5 L119.5,127.6 L121.0,126.9 L122.6,126.3 L124.3,126.0 L126.0,125.9 L127.7,126.0 L129.4,126.2 L131.0,126.6 L132.5,127.2 L133.9,127.8 L135.2,128.7 L136.3,129.6 L137.3,130.6 L138.0,131.7 L138.6,132.9 L138.9,134.1Z" fill="none" stroke="#333" stroke-width="1.0"/><path d="M138.1,135.3 L138.0,136.4 L137.7,137.5 L137.2,138.6 L136.5,139.6 L135.6,140.5 L134.6,141.3 L133.4,142.0 L132.1,142.7 L130.6,143.2 L129.1,143.5 L127.6,143.7 L126.0,143.8 L124.4,143.7 L122.9,143.4 L121.4,142.9 L120.0,142.3 L118.6,141.5 L117.4,140.6 L116.4,139.6 L115.5,138.7 L114.8,137.8 L114.3,136.9 L114.0,136.1 L113.9,135.3 L114.0,134.5 L114.3,133.7 L114.8,132.8 L115.5,131.9 L116.4,131.0 L117.4,130.0 L118.6,129.1 L119.9,128.3 L121.4,127.7 L122.9,127.2 L124.4,126.9 L126.0,126.8 L127.6,126.9 L129.1,127.1 L130.6,127.4 L132.1,127.9 L133.4,128.6 L134.6,129.3 L135.6,130.1 L136.5,131.1 L137.2,132.0 L137.7,133.1 L138.0,134.2Z" fill="#f6f6f6"/><path d="M137.2,135.3 L137.1,136.3 L136.8,137.3 L136.3,138.2 L135.7,139.1 L134.9,139.9 L133.9,140.7 L132.8,141.3 L131.6,141.9 L130.3,142.3 L128.9,142.6 L127.5,142.8 L126.0,142.9 L124.5,142.8 L123.1,142.6 L121.7,142.1 L120.4,141.5 L119.2,140.8 L118.1,140.0 L117.1,139.1 L116.3,138.3 L115.7,137.5 L115.2,136.7 L114.9,136.0 L114.8,135.3 L114.9,134.6 L115.2,133.9 L115.7,133.1 L116.3,132.3 L117.1,131.5 L118.1,130.6 L119.2,129.8 L120.4,129.1 L121.7,128.5 L123.1,128.0 L124.5,127.8 L126.0,127.7 L127.5,127.8 L128.9,128.0 L130.3,128.3 L131.6,128.7 L132.8,129.3 L133.9,129.9 L134.9,130.7 L135.7,131.5 L136.3,132.4 L136.8,133.3 L137.1,134.3Z" fill="#c2c2c2" stroke="#5a5a5a" stroke-width="0.9"/><path d="M135.7,135.3 L135.7,136.1 L135.4,137.0 L135.0,137.8 L134.5,138.5 L133.8,139.2 L132.9,139.9 L132.0,140.4 L131.0,140.9 L129.9,141.3 L128.7,141.5 L127.5,141.7 L126.2,141.8 L125.0,141.7 L123.8,141.5 L122.6,141.1 L121.5,140.6 L120.4,140.0 L119.5,139.3 L118.7,138.6 L118.0,137.9 L117.4,137.2 L117.0,136.5 L116.8,135.9 L116.7,135.3 L116.8,134.7 L117.0,134.1 L117.4,133.4 L118.0,132.7 L118.7,132.0 L119.5,131.3 L120.4,130.6 L121.5,130.0 L122.6,129.5 L123.8,129.1 L125.0,128.9 L126.2,128.8 L127.5,128.9 L128.7,129.1 L129.9,129.3 L131.0,129.7 L132.0,130.2 L132.9,130.7 L133.8,131.4 L134.5,132.1 L135.0,132.8 L135.4,133.6 L135.7,134.5Z" fill="none" stroke="#ececec" stroke-width="1.0"/><path d="M134.4,135.3 L134.3,136.0 L134.1,136.7 L133.8,137.4 L133.3,138.0 L132.7,138.6 L132.0,139.1 L131.3,139.6 L130.4,140.0 L129.5,140.3 L128.5,140.5 L127.5,140.6 L126.4,140.7 L125.4,140.6 L124.4,140.5 L123.4,140.1 L122.4,139.7 L121.6,139.2 L120.8,138.6 L120.1,138.0 L119.5,137.4 L119.1,136.9 L118.7,136.3 L118.5,135.8 L118.5,135.3 L118.5,134.8 L118.7,134.3 L119.1,133.7 L119.5,133.2 L120.1,132.6 L120.8,132.0 L121.6,131.4 L122.4,130.9 L123.4,130.5 L124.4,130.1 L125.4,130.0 L126.4,129.9 L127.5,130.0 L128.5,130.1 L129.5,130.3 L130.4,130.6 L131.3,131.0 L132.0,131.5 L132.7,132.0 L133.3,132.6 L133.8,133.2 L134.1,133.9 L134.3,134.6Z" fill="none" stroke="#6a6a6a" stroke-width="0.8"/><path d="M133.0,135.3 L133.0,135.9 L132.8,136.4 L132.5,137.0 L132.2,137.5 L131.7,137.9 L131.1,138.4 L130.5,138.7 L129.8,139.1 L129.1,139.3 L128.3,139.5 L127.5,139.6 L126.6,139.6 L125.8,139.6 L125.0,139.4 L124.2,139.2 L123.4,138.9 L122.7,138.4 L122.1,138.0 L121.6,137.5 L121.1,137.0 L120.7,136.5 L120.5,136.1 L120.3,135.7 L120.2,135.3 L120.3,134.9 L120.5,134.5 L120.7,134.1 L121.1,133.6 L121.6,133.1 L122.1,132.6 L122.7,132.2 L123.4,131.7 L124.2,131.4 L125.0,131.2 L125.8,131.0 L126.6,131.0 L127.5,131.0 L128.3,131.1 L129.1,131.3 L129.8,131.5 L130.5,131.9 L131.1,132.2 L131.7,132.7 L132.2,133.1 L132.5,133.6 L132.8,134.2 L133.0,134.7Z" fill="none" stroke="#e4e4e4" stroke-width="0.9"/><path d="M131.6,135.3 L131.6,135.7 L131.5,136.1 L131.3,136.6 L131.0,136.9 L130.6,137.3 L130.2,137.6 L129.8,137.9 L129.2,138.1 L128.7,138.3 L128.1,138.5 L127.5,138.5 L126.8,138.6 L126.2,138.5 L125.6,138.4 L125.0,138.2 L124.4,138.0 L123.9,137.7 L123.4,137.3 L123.0,137.0 L122.7,136.6 L122.4,136.2 L122.2,135.9 L122.1,135.6 L122.0,135.3 L122.1,135.0 L122.2,134.7 L122.4,134.4 L122.7,134.0 L123.0,133.6 L123.4,133.3 L123.9,132.9 L124.4,132.6 L125.0,132.4 L125.6,132.2 L126.2,132.1 L126.8,132.0 L127.5,132.1 L128.1,132.1 L128.7,132.3 L129.2,132.5 L129.8,132.7 L130.2,133.0 L130.6,133.3 L131.0,133.7 L131.3,134.0 L131.5,134.5 L131.6,134.9Z" fill="none" stroke="#727272" stroke-width="0.8"/><path d="M130.3,135.3 L130.3,135.6 L130.2,135.9 L130.0,136.1 L129.8,136.4 L129.6,136.6 L129.3,136.9 L129.0,137.0 L128.7,137.2 L128.3,137.3 L127.9,137.4 L127.5,137.5 L127.0,137.5 L126.6,137.5 L126.2,137.4 L125.8,137.3 L125.4,137.1 L125.1,136.9 L124.7,136.7 L124.5,136.4 L124.2,136.2 L124.0,135.9 L123.9,135.7 L123.8,135.5 L123.8,135.3 L123.8,135.1 L123.9,134.9 L124.0,134.7 L124.2,134.4 L124.5,134.2 L124.7,133.9 L125.1,133.7 L125.4,133.5 L125.8,133.3 L126.2,133.2 L126.6,133.1 L127.0,133.1 L127.5,133.1 L127.9,133.2 L128.3,133.3 L128.7,133.4 L129.0,133.6 L129.3,133.7 L129.6,134.0 L129.8,134.2 L130.0,134.5 L130.2,134.7 L130.3,135.0Z" fill="none" stroke="#666" stroke-width="0.7"/><ellipse cx="127.5" cy="135.3" rx="2.0" ry="1.7" fill="#fbfbfb"/><path d="M87.9,261.3 L87.8,262.0 L87.5,262.7 L86.9,263.6 L86.2,264.6 L85.2,265.7 L84.1,266.9 L82.9,268.2 L81.5,269.3 L79.9,270.2 L78.3,270.9 L76.7,271.3 L75.0,271.4 L73.3,271.3 L71.7,271.1 L70.1,270.6 L68.5,270.0 L67.1,269.3 L65.9,268.4 L64.8,267.4 L63.8,266.4 L63.1,265.2 L62.5,263.9 L62.2,262.6 L62.1,261.3 L62.2,260.0 L62.5,258.7 L63.1,257.4 L63.8,256.2 L64.8,255.2 L65.9,254.2 L67.1,253.3 L68.5,252.6 L70.1,252.0 L71.7,251.5 L73.3,251.3 L75.0,251.2 L76.7,251.3 L78.3,251.7 L79.9,252.4 L81.5,253.3 L82.9,254.4 L84.1,255.7 L85.2,256.9 L86.2,258.0 L86.9,259.0 L87.5,259.9 L87.8,260.6Z" fill="none" stroke="#333" stroke-width="1.0"/><path d="M87.0,261.3 L86.9,261.9 L86.6,262.6 L86.1,263.4 L85.4,264.3 L84.5,265.3 L83.5,266.4 L82.3,267.5 L81.0,268.6 L79.6,269.4 L78.1,270.0 L76.6,270.4 L75.0,270.5 L73.4,270.4 L71.9,270.2 L70.4,269.8 L69.0,269.3 L67.7,268.6 L66.5,267.8 L65.5,266.9 L64.6,265.9 L63.9,264.8 L63.4,263.7 L63.1,262.5 L63.0,261.3 L63.1,260.1 L63.4,258.9 L63.9,257.8 L64.6,256.7 L65.5,255.7 L66.5,254.8 L67.7,254.0 L69.0,253.3 L70.4,252.8 L71.9,252.4 L73.4,252.2 L75.0,252.1 L76.6,252.2 L78.1,252.6 L79.6,253.2 L81.0,254.0 L82.3,255.1 L83.5,256.2 L84.5,257.3 L85.4,258.3 L86.1,259.2 L86.6,260.0 L86.9,260.7Z" fill="#f6f6f6"/><path d="M86.1,261.3 L86.0,261.9 L85.7,262.5 L85.3,263.2 L84.6,264.0 L83.8,264.9 L82.8,265.9 L81.8,266.9 L80.5,267.9 L79.2,268.6 L77.9,269.2 L76.4,269.5 L75.0,269.6 L73.6,269.5 L72.1,269.3 L70.8,269.0 L69.5,268.5 L68.2,267.9 L67.2,267.2 L66.2,266.4 L65.4,265.4 L64.7,264.5 L64.3,263.4 L64.0,262.4 L63.9,261.3 L64.0,260.2 L64.3,259.2 L64.7,258.1 L65.4,257.2 L66.2,256.2 L67.2,255.4 L68.2,254.7 L69.4,254.1 L70.8,253.6 L72.1,253.3 L73.6,253.1 L75.0,253.0 L76.4,253.1 L77.9,253.4 L79.2,254.0 L80.5,254.7 L81.8,255.7 L82.8,256.7 L83.8,257.7 L84.6,258.6 L85.3,259.4 L85.7,260.1 L86.0,260.7Z" fill="#c2c2c2" stroke="#5a5a5a" stroke-width="0.9"/><path d="M84.2,261.3 L84.1,261.8 L83.9,262.3 L83.5,262.9 L83.0,263.6 L82.3,264.4 L81.5,265.2 L80.5,266.1 L79.5,266.9 L78.4,267.5 L77.2,268.0 L76.0,268.3 L74.8,268.4 L73.6,268.3 L72.3,268.1 L71.2,267.8 L70.1,267.4 L69.0,266.9 L68.1,266.3 L67.3,265.6 L66.6,264.8 L66.1,264.0 L65.7,263.1 L65.4,262.2 L65.3,261.3 L65.4,260.4 L65.7,259.5 L66.1,258.6 L66.6,257.8 L67.3,257.0 L68.1,256.3 L69.0,255.7 L70.1,255.2 L71.2,254.8 L72.3,254.5 L73.6,254.3 L74.8,254.2 L76.0,254.3 L77.2,254.6 L78.4,255.1 L79.5,255.7 L80.5,256.5 L81.5,257.4 L82.3,258.2 L83.0,259.0 L83.5,259.7 L83.9,260.3 L84.1,260.8Z" fill="none" stroke="#ececec" stroke-width="1.0"/><path d="M82.5,261.3 L82.4,261.7 L82.2,262.1 L81.9,262.6 L81.4,263.2 L80.8,263.9 L80.2,264.6 L79.4,265.3 L78.5,266.0 L77.6,266.5 L76.6,266.9 L75.6,267.1 L74.6,267.2 L73.6,267.1 L72.5,267.0 L71.6,266.7 L70.6,266.4 L69.8,266.0 L69.0,265.5 L68.3,264.9 L67.8,264.2 L67.3,263.6 L67.0,262.8 L66.8,262.1 L66.7,261.3 L66.8,260.5 L67.0,259.8 L67.3,259.0 L67.8,258.4 L68.3,257.7 L69.0,257.1 L69.8,256.6 L70.6,256.2 L71.6,255.9 L72.5,255.6 L73.6,255.5 L74.6,255.4 L75.6,255.5 L76.6,255.7 L77.6,256.1 L78.5,256.6 L79.4,257.3 L80.2,258.0 L80.8,258.7 L81.4,259.4 L81.9,260.0 L82.2,260.5 L82.4,260.9Z" fill="none" stroke="#6a6a6a" stroke-width="0.8"/><path d="M80.7,261.3 L80.7,261.6 L80.5,262.0 L80.2,262.4 L79.9,262.8 L79.4,263.4 L78.9,263.9 L78.2,264.5 L77.5,265.0 L76.8,265.5 L76.0,265.8 L75.2,266.0 L74.4,266.0 L73.6,266.0 L72.7,265.9 L72.0,265.7 L71.2,265.4 L70.5,265.1 L69.9,264.6 L69.4,264.2 L68.9,263.7 L68.5,263.1 L68.3,262.5 L68.1,261.9 L68.1,261.3 L68.1,260.7 L68.3,260.1 L68.5,259.5 L68.9,258.9 L69.4,258.4 L69.9,258.0 L70.5,257.5 L71.2,257.2 L72.0,256.9 L72.7,256.7 L73.6,256.6 L74.4,256.6 L75.2,256.6 L76.0,256.8 L76.8,257.1 L77.5,257.6 L78.2,258.1 L78.9,258.7 L79.4,259.2 L79.9,259.8 L80.2,260.2 L80.5,260.6 L80.7,261.0Z" fill="none" stroke="#e4e4e4" stroke-width="0.9"/><path d="M79.0,261.3 L78.9,261.5 L78.8,261.8 L78.6,262.1 L78.3,262.5 L78.0,262.9 L77.6,263.3 L77.1,263.7 L76.6,264.1 L76.0,264.4 L75.4,264.7 L74.8,264.8 L74.2,264.9 L73.6,264.8 L72.9,264.7 L72.4,264.6 L71.8,264.4 L71.3,264.1 L70.8,263.8 L70.4,263.5 L70.0,263.1 L69.8,262.7 L69.6,262.2 L69.4,261.8 L69.4,261.3 L69.4,260.8 L69.6,260.4 L69.8,259.9 L70.0,259.5 L70.4,259.1 L70.8,258.8 L71.3,258.5 L71.8,258.2 L72.4,258.0 L72.9,257.9 L73.6,257.8 L74.2,257.7 L74.8,257.8 L75.4,257.9 L76.0,258.2 L76.6,258.5 L77.1,258.9 L77.6,259.3 L78.0,259.7 L78.3,260.1 L78.6,260.5 L78.8,260.8 L78.9,261.1Z" fill="none" stroke="#727272" stroke-width="0.8"/><path d="M77.2,261.3 L77.2,261.5 L77.1,261.6 L77.0,261.8 L76.8,262.1 L76.5,262.4 L76.3,262.6 L75.9,262.9 L75.6,263.2 L75.2,263.4 L74.8,263.6 L74.4,263.7 L74.0,263.7 L73.6,263.7 L73.1,263.6 L72.7,263.5 L72.4,263.4 L72.0,263.2 L71.7,263.0 L71.4,262.8 L71.2,262.5 L71.0,262.2 L70.9,261.9 L70.8,261.6 L70.8,261.3 L70.8,261.0 L70.9,260.7 L71.0,260.4 L71.2,260.1 L71.4,259.8 L71.7,259.6 L72.0,259.4 L72.4,259.2 L72.7,259.1 L73.1,259.0 L73.6,258.9 L74.0,258.9 L74.4,258.9 L74.8,259.0 L75.2,259.2 L75.6,259.4 L75.9,259.7 L76.3,260.0 L76.5,260.2 L76.8,260.5 L77.0,260.8 L77.1,261.0 L77.2,261.1Z" fill="none" stroke="#666" stroke-width="0.7"/><ellipse cx="73.6" cy="261.3" rx="2.0" ry="1.7" fill="#fbfbfb"/><path d="M135.4,260.7 L135.3,262.0 L134.9,263.3 L134.4,264.5 L133.6,265.6 L132.6,266.7 L131.4,267.7 L130.1,268.6 L128.6,269.3 L127.0,269.8 L125.3,270.3 L123.6,270.5 L121.8,270.6 L120.0,270.5 L118.3,270.2 L116.6,269.6 L115.0,268.8 L113.5,267.9 L112.2,266.8 L111.0,265.7 L110.0,264.6 L109.2,263.6 L108.7,262.6 L108.3,261.6 L108.2,260.7 L108.3,259.8 L108.7,258.8 L109.2,257.8 L110.0,256.8 L111.0,255.7 L112.2,254.6 L113.5,253.5 L115.0,252.6 L116.6,251.8 L118.3,251.2 L120.0,250.9 L121.8,250.8 L123.6,250.9 L125.3,251.1 L127.0,251.6 L128.6,252.1 L130.1,252.8 L131.4,253.7 L132.6,254.7 L133.6,255.7 L134.4,256.9 L134.9,258.1 L135.3,259.4Z" fill="none" stroke="#333" stroke-width="1.0"/><path d="M134.5,260.7 L134.4,261.9 L134.1,263.0 L133.5,264.1 L132.8,265.2 L131.9,266.2 L130.8,267.1 L129.5,267.8 L128.2,268.5 L126.7,269.0 L125.1,269.4 L123.5,269.6 L121.8,269.7 L120.1,269.6 L118.5,269.3 L116.9,268.8 L115.5,268.1 L114.1,267.2 L112.8,266.3 L111.7,265.3 L110.8,264.3 L110.1,263.3 L109.5,262.4 L109.2,261.5 L109.1,260.7 L109.2,259.9 L109.5,259.0 L110.1,258.1 L110.8,257.1 L111.7,256.1 L112.8,255.1 L114.1,254.2 L115.4,253.3 L116.9,252.6 L118.5,252.1 L120.1,251.8 L121.8,251.7 L123.5,251.8 L125.1,252.0 L126.7,252.4 L128.2,252.9 L129.5,253.6 L130.8,254.3 L131.9,255.2 L132.8,256.2 L133.5,257.3 L134.1,258.4 L134.4,259.5Z" fill="#f6f6f6"/><path d="M133.6,260.7 L133.5,261.8 L133.2,262.8 L132.7,263.8 L132.0,264.8 L131.2,265.6 L130.1,266.4 L129.0,267.1 L127.7,267.7 L126.3,268.2 L124.9,268.5 L123.3,268.7 L121.8,268.8 L120.3,268.7 L118.7,268.4 L117.3,268.0 L115.9,267.3 L114.6,266.6 L113.5,265.7 L112.4,264.8 L111.6,263.9 L110.9,263.0 L110.4,262.2 L110.1,261.4 L110.0,260.7 L110.1,260.0 L110.4,259.2 L110.9,258.4 L111.6,257.5 L112.4,256.6 L113.5,255.7 L114.6,254.8 L115.9,254.1 L117.3,253.4 L118.7,253.0 L120.3,252.7 L121.8,252.6 L123.3,252.7 L124.9,252.9 L126.3,253.2 L127.7,253.7 L129.0,254.3 L130.1,255.0 L131.2,255.8 L132.0,256.6 L132.7,257.6 L133.2,258.6 L133.5,259.6Z" fill="#c2c2c2" stroke="#5a5a5a" stroke-width="0.9"/><path d="M132.1,260.7 L132.0,261.6 L131.7,262.5 L131.3,263.3 L130.7,264.1 L130.0,264.9 L129.1,265.6 L128.1,266.2 L127.0,266.7 L125.9,267.1 L124.6,267.4 L123.3,267.5 L122.0,267.6 L120.7,267.5 L119.4,267.3 L118.2,266.9 L117.0,266.3 L115.9,265.7 L114.9,265.0 L114.1,264.2 L113.3,263.4 L112.8,262.7 L112.3,262.0 L112.1,261.3 L112.0,260.7 L112.1,260.1 L112.3,259.4 L112.8,258.7 L113.3,258.0 L114.1,257.2 L114.9,256.4 L115.9,255.7 L117.0,255.1 L118.2,254.5 L119.4,254.1 L120.7,253.9 L122.0,253.8 L123.3,253.9 L124.6,254.0 L125.9,254.3 L127.0,254.7 L128.1,255.2 L129.1,255.8 L130.0,256.5 L130.7,257.3 L131.3,258.1 L131.7,258.9 L132.0,259.8Z" fill="none" stroke="#ececec" stroke-width="1.0"/><path d="M130.6,260.7 L130.5,261.5 L130.3,262.2 L130.0,262.9 L129.5,263.6 L128.9,264.2 L128.2,264.8 L127.3,265.3 L126.4,265.7 L125.4,266.0 L124.4,266.3 L123.3,266.4 L122.2,266.5 L121.1,266.4 L120.1,266.2 L119.0,265.9 L118.1,265.4 L117.1,264.9 L116.3,264.3 L115.6,263.6 L115.0,263.0 L114.5,262.4 L114.1,261.8 L113.9,261.2 L113.9,260.7 L113.9,260.2 L114.1,259.6 L114.5,259.0 L115.0,258.4 L115.6,257.8 L116.3,257.1 L117.1,256.5 L118.1,256.0 L119.0,255.5 L120.1,255.2 L121.1,255.0 L122.2,254.9 L123.3,255.0 L124.4,255.1 L125.4,255.4 L126.4,255.7 L127.3,256.1 L128.2,256.6 L128.9,257.2 L129.5,257.8 L130.0,258.5 L130.3,259.2 L130.5,259.9Z" fill="none" stroke="#6a6a6a" stroke-width="0.8"/><path d="M129.2,260.7 L129.1,261.3 L129.0,261.9 L128.7,262.5 L128.3,263.0 L127.8,263.5 L127.2,264.0 L126.5,264.4 L125.8,264.7 L125.0,265.0 L124.2,265.2 L123.3,265.3 L122.5,265.3 L121.6,265.3 L120.7,265.1 L119.9,264.8 L119.1,264.5 L118.4,264.0 L117.7,263.6 L117.1,263.0 L116.6,262.5 L116.2,262.0 L116.0,261.6 L115.8,261.1 L115.7,260.7 L115.8,260.3 L116.0,259.8 L116.2,259.4 L116.6,258.9 L117.1,258.4 L117.7,257.8 L118.4,257.4 L119.1,256.9 L119.9,256.6 L120.7,256.3 L121.6,256.1 L122.5,256.1 L123.3,256.1 L124.2,256.2 L125.0,256.4 L125.8,256.7 L126.5,257.0 L127.2,257.4 L127.8,257.9 L128.3,258.4 L128.7,258.9 L129.0,259.5 L129.1,260.1Z" fill="none" stroke="#e4e4e4" stroke-width="0.9"/><path d="M127.7,260.7 L127.7,261.2 L127.6,261.6 L127.4,262.0 L127.1,262.4 L126.7,262.8 L126.3,263.2 L125.8,263.5 L125.2,263.7 L124.6,263.9 L124.0,264.1 L123.3,264.2 L122.7,264.2 L122.0,264.1 L121.4,264.0 L120.7,263.8 L120.1,263.6 L119.6,263.2 L119.1,262.9 L118.6,262.5 L118.3,262.1 L118.0,261.7 L117.8,261.4 L117.6,261.0 L117.6,260.7 L117.6,260.4 L117.8,260.0 L118.0,259.7 L118.3,259.3 L118.6,258.9 L119.1,258.5 L119.6,258.2 L120.1,257.8 L120.7,257.6 L121.4,257.4 L122.0,257.3 L122.7,257.2 L123.3,257.2 L124.0,257.3 L124.6,257.5 L125.2,257.7 L125.8,257.9 L126.3,258.2 L126.7,258.6 L127.1,259.0 L127.4,259.4 L127.6,259.8 L127.7,260.2Z" fill="none" stroke="#727272" stroke-width="0.8"/><path d="M126.3,260.7 L126.3,261.0 L126.2,261.3 L126.0,261.6 L125.8,261.9 L125.6,262.1 L125.3,262.4 L125.0,262.6 L124.6,262.7 L124.2,262.9 L123.8,263.0 L123.3,263.0 L122.9,263.0 L122.4,263.0 L122.0,262.9 L121.6,262.8 L121.2,262.6 L120.8,262.4 L120.5,262.2 L120.2,261.9 L119.9,261.6 L119.7,261.4 L119.6,261.1 L119.5,260.9 L119.5,260.7 L119.5,260.5 L119.6,260.3 L119.7,260.0 L119.9,259.8 L120.2,259.5 L120.5,259.2 L120.8,259.0 L121.2,258.8 L121.6,258.6 L122.0,258.5 L122.4,258.4 L122.9,258.4 L123.3,258.4 L123.8,258.4 L124.2,258.5 L124.6,258.7 L125.0,258.8 L125.3,259.0 L125.6,259.3 L125.8,259.5 L126.0,259.8 L126.2,260.1 L126.3,260.4Z" fill="none" stroke="#666" stroke-width="0.7"/><ellipse cx="123.3" cy="260.7" rx="2.0" ry="1.7" fill="#fbfbfb"/><rect x="231.2" y="122.2" width="4" height="14.4" fill="#1a1a1a"/><path d="M233.2,122.1 L261.1,122.1 C268.4,122.1 269.9,126.1 269.9,129.4 C269.9,132.7 268.4,136.7 261.1,136.7 L233.2,136.7 Q232.2,136.7 232.2,135.7 L232.2,123.1 Q232.2,122.1 233.2,122.1 Z" fill="#1a1a1a"/><path d="M234.7,123.4 L261.4,123.4 C267.4,123.4 268.6,126.7 268.6,129.4 C268.6,132.1 267.4,135.4 261.4,135.4 L234.7,135.4 Q233.7,135.4 233.7,134.4 L233.7,124.4 Q233.7,123.4 234.7,123.4 Z" fill="#f2f2f2"/><path d="M235.7,124.5 L261.6,124.5 C266.5,124.5 267.5,127.2 267.5,129.4 C267.5,131.6 266.5,134.3 261.6,134.3 L235.7,134.3 Q234.7,134.3 234.7,133.3 L234.7,125.5 Q234.7,124.5 235.7,124.5 Z" fill="#b4b4b4" stroke="#555" stroke-width="0.8"/><path d="M236.2,125.5 L261.7,125.5 C265.6,125.5 266.4,127.6 266.4,129.4 C266.4,131.2 265.6,133.3 261.7,133.3 L236.2,133.3 Q235.2,133.3 235.2,132.3 L235.2,126.5 Q235.2,125.5 236.2,125.5 Z" fill="none" stroke="#e2e2e2" stroke-width="0.8"/><path d="M236.7,126.5 L261.8,126.5 C264.8,126.5 265.3,128.1 265.3,129.4 C265.3,130.7 264.8,132.3 261.8,132.3 L236.7,132.3 Q235.7,132.3 235.7,131.3 L235.7,127.5 Q235.7,126.5 236.7,126.5 Z" fill="none" stroke="#6a6a6a" stroke-width="0.8"/><path d="M237.1,127.3 L261.9,127.3 C264,127.3 264.4,128.5 264.4,129.4 C264.4,130.3 264,131.5 261.9,131.5 L237.1,131.5 Q236.1,131.5 236.1,130.5 L236.1,128.3 Q236.1,127.3 237.1,127.3 Z" fill="none" stroke="#d8d8d8" stroke-width="0.8"/><ellipse cx="249.2" cy="129.4" rx="11.2" ry="1.0" fill="#eeeeee"/><rect x="356" y="123.2" width="4" height="15" fill="#1a1a1a"/><path d="M358,123.1 L383.7,123.1 C391.3,123.1 392.8,127.3 392.8,130.7 C392.8,134.1 391.3,138.3 383.7,138.3 L358,138.3 Q357,138.3 357,137.3 L357,124.1 Q357,123.1 358,123.1 Z" fill="#1a1a1a"/><path d="M359.5,124.4 L383.9,124.4 C390.2,124.4 391.5,127.9 391.5,130.7 C391.5,133.5 390.2,137 383.9,137 L359.5,137 Q358.5,137 358.5,136 L358.5,125.4 Q358.5,124.4 359.5,124.4 Z" fill="#f2f2f2"/><path d="M360.5,125.5 L384.2,125.5 C389.4,125.5 390.4,128.4 390.4,130.7 C390.4,133 389.4,135.9 384.2,135.9 L360.5,135.9 Q359.5,135.9 359.5,134.9 L359.5,126.5 Q359.5,125.5 360.5,125.5 Z" fill="#b4b4b4" stroke="#555" stroke-width="0.8"/><path d="M361,126.5 L384.3,126.5 C388.4,126.5 389.3,128.8 389.3,130.7 C389.3,132.6 388.4,134.9 384.3,134.9 L361,134.9 Q360,134.9 360,133.9 L360,127.5 Q360,126.5 361,126.5 Z" fill="none" stroke="#e2e2e2" stroke-width="0.8"/><path d="M361.5,127.6 L384.4,127.6 C387.5,127.6 388.1,129.3 388.1,130.7 C388.1,132.1 387.5,133.8 384.4,133.8 L361.5,133.8 Q360.5,133.8 360.5,132.8 L360.5,128.6 Q360.5,127.6 361.5,127.6 Z" fill="none" stroke="#6a6a6a" stroke-width="0.8"/><path d="M362,128.5 L384.5,128.5 C386.6,128.5 387.1,129.7 387.1,130.7 C387.1,131.7 386.6,132.9 384.5,132.9 L362,132.9 Q361,132.9 361,131.9 L361,129.5 Q361,128.5 362,128.5 Z" fill="none" stroke="#d8d8d8" stroke-width="0.8"/><ellipse cx="373" cy="130.7" rx="10.6" ry="1.0" fill="#eeeeee"/><rect x="231.2" y="240.5" width="4" height="16.8" fill="#1a1a1a"/><path d="M233.2,240.4 L259.1,240.4 C267.6,240.4 269.3,245.1 269.3,248.9 C269.3,252.7 267.6,257.4 259.1,257.4 L233.2,257.4 Q232.2,257.4 232.2,256.4 L232.2,241.4 Q232.2,240.4 233.2,240.4 Z" fill="#1a1a1a"/><path d="M234.7,241.7 L259.4,241.7 C266.6,241.7 268,245.7 268,248.9 C268,252.1 266.6,256.1 259.4,256.1 L234.7,256.1 Q233.7,256.1 233.7,255.1 L233.7,242.7 Q233.7,241.7 234.7,241.7 Z" fill="#f2f2f2"/><path d="M235.7,242.8 L259.6,242.8 C265.7,242.8 266.9,246.2 266.9,248.9 C266.9,251.6 265.7,255 259.6,255 L235.7,255 Q234.7,255 234.7,254 L234.7,243.8 Q234.7,242.8 235.7,242.8 Z" fill="#b4b4b4" stroke="#555" stroke-width="0.8"/><path d="M236.3,244 L259.7,244 C264.6,244 265.6,246.7 265.6,248.9 C265.6,251.1 264.6,253.8 259.7,253.8 L236.3,253.8 Q235.3,253.8 235.3,252.8 L235.3,245 Q235.3,244 236.3,244 Z" fill="none" stroke="#e2e2e2" stroke-width="0.8"/><path d="M236.9,245.2 L259.8,245.2 C263.5,245.2 264.2,247.3 264.2,248.9 C264.2,250.5 263.5,252.6 259.8,252.6 L236.9,252.6 Q235.9,252.6 235.9,251.6 L235.9,246.2 Q235.9,245.2 236.9,245.2 Z" fill="none" stroke="#6a6a6a" stroke-width="0.8"/><path d="M237.5,246.3 L259.9,246.3 C262.5,246.3 263,247.7 263,248.9 C263,250.1 262.5,251.5 259.9,251.5 L237.5,251.5 Q236.5,251.5 236.5,250.5 L236.5,247.3 Q236.5,246.3 237.5,246.3 Z" fill="none" stroke="#d8d8d8" stroke-width="0.8"/><ellipse cx="248.8" cy="248.9" rx="11" ry="1.0" fill="#eeeeee"/><rect x="356" y="241.4" width="4" height="16.8" fill="#1a1a1a"/><path d="M358,241.3 L382.1,241.3 C390.6,241.3 392.3,246 392.3,249.8 C392.3,253.6 390.6,258.3 382.1,258.3 L358,258.3 Q357,258.3 357,257.3 L357,242.3 Q357,241.3 358,241.3 Z" fill="#1a1a1a"/><path d="M359.5,242.6 L382.4,242.6 C389.6,242.6 391,246.6 391,249.8 C391,253 389.6,257 382.4,257 L359.5,257 Q358.5,257 358.5,256 L358.5,243.6 Q358.5,242.6 359.5,242.6 Z" fill="#f2f2f2"/><path d="M360.5,243.7 L382.6,243.7 C388.7,243.7 389.9,247.1 389.9,249.8 C389.9,252.5 388.7,255.9 382.6,255.9 L360.5,255.9 Q359.5,255.9 359.5,254.9 L359.5,244.7 Q359.5,243.7 360.5,243.7 Z" fill="#b4b4b4" stroke="#555" stroke-width="0.8"/><path d="M361.1,244.9 L382.7,244.9 C387.6,244.9 388.6,247.6 388.6,249.8 C388.6,252 387.6,254.7 382.7,254.7 L361.1,254.7 Q360.1,254.7 360.1,253.7 L360.1,245.9 Q360.1,244.9 361.1,244.9 Z" fill="none" stroke="#e2e2e2" stroke-width="0.8"/><path d="M361.7,246.1 L382.8,246.1 C386.5,246.1 387.2,248.2 387.2,249.8 C387.2,251.4 386.5,253.5 382.8,253.5 L361.7,253.5 Q360.7,253.5 360.7,252.5 L360.7,247.1 Q360.7,246.1 361.7,246.1 Z" fill="none" stroke="#6a6a6a" stroke-width="0.8"/><path d="M362.3,247.2 L382.9,247.2 C385.5,247.2 386,248.6 386,249.8 C386,251 385.5,252.4 382.9,252.4 L362.3,252.4 Q361.3,252.4 361.3,251.4 L361.3,248.2 Q361.3,247.2 362.3,247.2 Z" fill="none" stroke="#d8d8d8" stroke-width="0.8"/><ellipse cx="372.8" cy="249.8" rx="10.4" ry="1.0" fill="#eeeeee"/><ellipse cx="131.6" cy="84.3" rx="42" ry="20.6" transform="rotate(-40 131.6 84.3)" fill="none" stroke="#000" stroke-width="2.8"/><ellipse cx="132.3" cy="210.8" rx="42" ry="20.6" transform="rotate(-40 132.3 210.8)" fill="none" stroke="#000" stroke-width="2.8"/><path d="M350.1,68.2 H271.5 V114.3 H350.1" fill="none" stroke="#000" stroke-width="2.2"/><path d="M474.7,68.2 H396.5 V114.8 H474.7" fill="none" stroke="#000" stroke-width="2.2"/><path d="M349.5,187.5 H272.5 V234.5 H349.5" fill="none" stroke="#000" stroke-width="2.2"/><path d="M474.9,187.8 H397.5 V235 H474.9" fill="none" stroke="#000" stroke-width="2.2"/><rect x="55" y="28.6" width="119.7" height="120.3" fill="none" stroke="#111" stroke-width="1.3"/><rect x="53.9" y="28" width="2.2" height="121.9" fill="#000"/><rect x="51.9" y="109.7" width="2" height="1.5" fill="#000"/><rect x="51.9" y="105.7" width="2" height="1.5" fill="#000"/><rect x="51.9" y="102.8" width="2" height="1.5" fill="#000"/><rect x="51.9" y="100.6" width="2" height="1.5" fill="#000"/><rect x="51.9" y="97.2" width="2" height="1.5" fill="#000"/><rect x="51.9" y="94.7" width="2" height="1.5" fill="#000"/><rect x="51.9" y="84.6" width="2" height="1.5" fill="#000"/><rect x="51.9" y="79.4" width="2" height="1.5" fill="#000"/><rect x="51.9" y="75.6" width="2" height="1.5" fill="#000"/><rect x="51.9" y="72.8" width="2" height="1.5" fill="#000"/><rect x="51.9" y="68.4" width="2" height="1.5" fill="#000"/><rect x="51.9" y="65.1" width="2" height="1.5" fill="#000"/><rect x="51.9" y="56" width="2" height="1.5" fill="#000"/><rect x="51.9" y="51.5" width="2" height="1.5" fill="#000"/><rect x="51.9" y="48.3" width="2" height="1.5" fill="#000"/><rect x="51.9" y="45.8" width="2" height="1.5" fill="#000"/><rect x="51.9" y="42" width="2" height="1.5" fill="#000"/><rect x="51.9" y="39.2" width="2" height="1.5" fill="#000"/><rect x="51.9" y="142.5" width="2" height="1.5" fill="#000"/><rect x="51.9" y="138.8" width="2" height="1.5" fill="#000"/><rect x="51.9" y="135.2" width="2" height="1.5" fill="#000"/><rect x="51.9" y="131.4" width="2" height="1.5" fill="#000"/><rect x="51.9" y="124" width="2" height="1.5" fill="#000"/><rect x="51.9" y="120.4" width="2" height="1.5" fill="#000"/><rect x="51.3" y="127.7" width="2.6" height="1.6" fill="#000"/><rect x="51.3" y="116.6" width="2.6" height="1.6" fill="#000"/><rect x="51.3" y="93.6" width="2.6" height="1.6" fill="#000"/><rect x="51.3" y="63.7" width="2.6" height="1.6" fill="#000"/><rect x="51.3" y="38" width="2.6" height="1.6" fill="#000"/><rect x="55" y="155.6" width="120.5" height="120" fill="none" stroke="#111" stroke-width="1.3"/><rect x="53.9" y="155" width="2.2" height="121.6" fill="#000"/><rect x="51.9" y="239.6" width="2" height="1.5" fill="#000"/><rect x="51.9" y="235.7" width="2" height="1.5" fill="#000"/><rect x="51.9" y="232.8" width="2" height="1.5" fill="#000"/><rect x="51.9" y="230.7" width="2" height="1.5" fill="#000"/><rect x="51.9" y="227.4" width="2" height="1.5" fill="#000"/><rect x="51.9" y="224.9" width="2" height="1.5" fill="#000"/><rect x="51.9" y="215" width="2" height="1.5" fill="#000"/><rect x="51.9" y="209.8" width="2" height="1.5" fill="#000"/><rect x="51.9" y="206.1" width="2" height="1.5" fill="#000"/><rect x="51.9" y="203.3" width="2" height="1.5" fill="#000"/><rect x="51.9" y="199" width="2" height="1.5" fill="#000"/><rect x="51.9" y="195.8" width="2" height="1.5" fill="#000"/><rect x="51.9" y="186.7" width="2" height="1.5" fill="#000"/><rect x="51.9" y="182.2" width="2" height="1.5" fill="#000"/><rect x="51.9" y="179" width="2" height="1.5" fill="#000"/><rect x="51.9" y="176.5" width="2" height="1.5" fill="#000"/><rect x="51.9" y="172.7" width="2" height="1.5" fill="#000"/><rect x="51.9" y="169.9" width="2" height="1.5" fill="#000"/><rect x="51.9" y="272.8" width="2" height="1.5" fill="#000"/><rect x="51.9" y="269.1" width="2" height="1.5" fill="#000"/><rect x="51.9" y="265.3" width="2" height="1.5" fill="#000"/><rect x="51.9" y="261.5" width="2" height="1.5" fill="#000"/><rect x="51.9" y="254" width="2" height="1.5" fill="#000"/><rect x="51.9" y="250.2" width="2" height="1.5" fill="#000"/><rect x="51.3" y="257.7" width="2.6" height="1.6" fill="#000"/><rect x="51.3" y="246.4" width="2.6" height="1.6" fill="#000"/><rect x="51.3" y="223.8" width="2.6" height="1.6" fill="#000"/><rect x="51.3" y="194.4" width="2.6" height="1.6" fill="#000"/><rect x="51.3" y="168.7" width="2.6" height="1.6" fill="#000"/><rect x="53.9" y="274.7" width="122.1" height="1.9" fill="#000"/><rect x="93" y="276.5" width="1.6" height="2.4" fill="#000"/><rect x="97.6" y="276.5" width="1.6" height="2.4" fill="#000"/><rect x="100.9" y="276.5" width="1.6" height="2.4" fill="#000"/><rect x="103.4" y="276.5" width="1.6" height="2.4" fill="#000"/><rect x="107.2" y="276.5" width="1.6" height="2.4" fill="#000"/><rect x="110" y="276.5" width="1.6" height="2.4" fill="#000"/><rect x="118.4" y="276.5" width="1.6" height="2.4" fill="#000"/><rect x="122.7" y="276.5" width="1.6" height="2.4" fill="#000"/><rect x="125.6" y="276.5" width="1.6" height="2.4" fill="#000"/><rect x="128" y="276.5" width="1.6" height="2.4" fill="#000"/><rect x="131.5" y="276.5" width="1.6" height="2.4" fill="#000"/><rect x="134.1" y="276.5" width="1.6" height="2.4" fill="#000"/><rect x="144.2" y="276.5" width="1.6" height="2.4" fill="#000"/><rect x="149.5" y="276.5" width="1.6" height="2.4" fill="#000"/><rect x="153.3" y="276.5" width="1.6" height="2.4" fill="#000"/><rect x="156.2" y="276.5" width="1.6" height="2.4" fill="#000"/><rect x="160.6" y="276.5" width="1.6" height="2.4" fill="#000"/><rect x="163.8" y="276.5" width="1.6" height="2.4" fill="#000"/><rect x="60.2" y="276.5" width="1.6" height="2.4" fill="#000"/><rect x="65.2" y="276.5" width="1.6" height="2.4" fill="#000"/><rect x="75.2" y="276.5" width="1.6" height="2.4" fill="#000"/><rect x="80.2" y="276.5" width="1.6" height="2.4" fill="#000"/><rect x="70.2" y="276.5" width="1.6" height="2.8" fill="#000"/><rect x="85.2" y="276.5" width="1.6" height="2.8" fill="#000"/><rect x="111.2" y="276.5" width="1.6" height="2.8" fill="#000"/><rect x="135.2" y="276.5" width="1.6" height="2.8" fill="#000"/><rect x="165.2" y="276.5" width="1.6" height="2.8" fill="#000"/><rect x="230" y="28.6" width="120.1" height="119.4" fill="none" stroke="#111" stroke-width="1.3"/><rect x="228.9" y="28" width="2.2" height="121" fill="#000"/><rect x="226.9" y="114.2" width="2" height="1.5" fill="#000"/><rect x="226.9" y="109.9" width="2" height="1.5" fill="#000"/><rect x="226.9" y="106.8" width="2" height="1.5" fill="#000"/><rect x="226.9" y="104.4" width="2" height="1.5" fill="#000"/><rect x="226.9" y="100.8" width="2" height="1.5" fill="#000"/><rect x="226.9" y="98.1" width="2" height="1.5" fill="#000"/><rect x="226.9" y="88.1" width="2" height="1.5" fill="#000"/><rect x="226.9" y="83" width="2" height="1.5" fill="#000"/><rect x="226.9" y="79.3" width="2" height="1.5" fill="#000"/><rect x="226.9" y="76.5" width="2" height="1.5" fill="#000"/><rect x="226.9" y="72.2" width="2" height="1.5" fill="#000"/><rect x="226.9" y="69" width="2" height="1.5" fill="#000"/><rect x="226.9" y="60" width="2" height="1.5" fill="#000"/><rect x="226.9" y="55.5" width="2" height="1.5" fill="#000"/><rect x="226.9" y="52.3" width="2" height="1.5" fill="#000"/><rect x="226.9" y="49.8" width="2" height="1.5" fill="#000"/><rect x="226.9" y="46.1" width="2" height="1.5" fill="#000"/><rect x="226.9" y="43.3" width="2" height="1.5" fill="#000"/><rect x="226.9" y="144.8" width="2" height="1.5" fill="#000"/><rect x="226.9" y="141.5" width="2" height="1.5" fill="#000"/><rect x="226.9" y="138.2" width="2" height="1.5" fill="#000"/><rect x="226.9" y="134.9" width="2" height="1.5" fill="#000"/><rect x="226.9" y="128.2" width="2" height="1.5" fill="#000"/><rect x="226.9" y="125" width="2" height="1.5" fill="#000"/><rect x="226.3" y="131.5" width="2.6" height="1.6" fill="#000"/><rect x="226.3" y="121.6" width="2.6" height="1.6" fill="#000"/><rect x="226.3" y="96.9" width="2.6" height="1.6" fill="#000"/><rect x="226.3" y="67.6" width="2.6" height="1.6" fill="#000"/><rect x="226.3" y="42.1" width="2.6" height="1.6" fill="#000"/><rect x="354.4" y="28.6" width="120.3" height="119.4" fill="none" stroke="#111" stroke-width="1.3"/><rect x="230" y="150.4" width="119.5" height="119.5" fill="none" stroke="#111" stroke-width="1.3"/><rect x="228.9" y="149.8" width="2.2" height="121.1" fill="#000"/><rect x="226.9" y="235.1" width="2" height="1.5" fill="#000"/><rect x="226.9" y="231.1" width="2" height="1.5" fill="#000"/><rect x="226.9" y="228.3" width="2" height="1.5" fill="#000"/><rect x="226.9" y="226.1" width="2" height="1.5" fill="#000"/><rect x="226.9" y="222.8" width="2" height="1.5" fill="#000"/><rect x="226.9" y="220.3" width="2" height="1.5" fill="#000"/><rect x="226.9" y="210.2" width="2" height="1.5" fill="#000"/><rect x="226.9" y="204.9" width="2" height="1.5" fill="#000"/><rect x="226.9" y="201.2" width="2" height="1.5" fill="#000"/><rect x="226.9" y="198.3" width="2" height="1.5" fill="#000"/><rect x="226.9" y="193.9" width="2" height="1.5" fill="#000"/><rect x="226.9" y="190.6" width="2" height="1.5" fill="#000"/><rect x="226.9" y="179.5" width="2" height="1.5" fill="#000"/><rect x="226.9" y="173.7" width="2" height="1.5" fill="#000"/><rect x="226.9" y="169.7" width="2" height="1.5" fill="#000"/><rect x="226.9" y="166.5" width="2" height="1.5" fill="#000"/><rect x="226.9" y="161.8" width="2" height="1.5" fill="#000"/><rect x="226.9" y="158.2" width="2" height="1.5" fill="#000"/><rect x="226.9" y="267.9" width="2" height="1.5" fill="#000"/><rect x="226.9" y="264.2" width="2" height="1.5" fill="#000"/><rect x="226.9" y="260.5" width="2" height="1.5" fill="#000"/><rect x="226.9" y="256.8" width="2" height="1.5" fill="#000"/><rect x="226.9" y="249.3" width="2" height="1.5" fill="#000"/><rect x="226.9" y="245.7" width="2" height="1.5" fill="#000"/><rect x="226.3" y="253" width="2.6" height="1.6" fill="#000"/><rect x="226.3" y="241.9" width="2.6" height="1.6" fill="#000"/><rect x="226.3" y="219.2" width="2.6" height="1.6" fill="#000"/><rect x="226.3" y="189.2" width="2.6" height="1.6" fill="#000"/><rect x="226.3" y="156.7" width="2.6" height="1.6" fill="#000"/><rect x="228.9" y="269" width="121.1" height="1.9" fill="#000"/><rect x="264.3" y="270.8" width="1.6" height="2.4" fill="#000"/><rect x="269" y="270.8" width="1.6" height="2.4" fill="#000"/><rect x="272.3" y="270.8" width="1.6" height="2.4" fill="#000"/><rect x="274.9" y="270.8" width="1.6" height="2.4" fill="#000"/><rect x="278.8" y="270.8" width="1.6" height="2.4" fill="#000"/><rect x="281.8" y="270.8" width="1.6" height="2.4" fill="#000"/><rect x="290.6" y="270.8" width="1.6" height="2.4" fill="#000"/><rect x="295" y="270.8" width="1.6" height="2.4" fill="#000"/><rect x="298.2" y="270.8" width="1.6" height="2.4" fill="#000"/><rect x="300.6" y="270.8" width="1.6" height="2.4" fill="#000"/><rect x="304.3" y="270.8" width="1.6" height="2.4" fill="#000"/><rect x="307" y="270.8" width="1.6" height="2.4" fill="#000"/><rect x="316.6" y="270.8" width="1.6" height="2.4" fill="#000"/><rect x="321.6" y="270.8" width="1.6" height="2.4" fill="#000"/><rect x="325.1" y="270.8" width="1.6" height="2.4" fill="#000"/><rect x="327.8" y="270.8" width="1.6" height="2.4" fill="#000"/><rect x="331.9" y="270.8" width="1.6" height="2.4" fill="#000"/><rect x="334.9" y="270.8" width="1.6" height="2.4" fill="#000"/><rect x="231.7" y="270.8" width="1.6" height="2.4" fill="#000"/><rect x="236.6" y="270.8" width="1.6" height="2.4" fill="#000"/><rect x="246.4" y="270.8" width="1.6" height="2.4" fill="#000"/><rect x="251.3" y="270.8" width="1.6" height="2.4" fill="#000"/><rect x="241.5" y="270.8" width="1.6" height="2.8" fill="#000"/><rect x="256.2" y="270.8" width="1.6" height="2.8" fill="#000"/><rect x="283" y="270.8" width="1.6" height="2.8" fill="#000"/><rect x="308.2" y="270.8" width="1.6" height="2.8" fill="#000"/><rect x="336.2" y="270.8" width="1.6" height="2.8" fill="#000"/><rect x="354.4" y="150.4" width="120.5" height="119.9" fill="none" stroke="#111" stroke-width="1.3"/><rect x="353.3" y="269.4" width="122.1" height="1.9" fill="#000"/><rect x="389.5" y="271.2" width="1.6" height="2.4" fill="#000"/><rect x="394.2" y="271.2" width="1.6" height="2.4" fill="#000"/><rect x="397.5" y="271.2" width="1.6" height="2.4" fill="#000"/><rect x="400.1" y="271.2" width="1.6" height="2.4" fill="#000"/><rect x="404" y="271.2" width="1.6" height="2.4" fill="#000"/><rect x="407" y="271.2" width="1.6" height="2.4" fill="#000"/><rect x="415.8" y="271.2" width="1.6" height="2.4" fill="#000"/><rect x="420.2" y="271.2" width="1.6" height="2.4" fill="#000"/><rect x="423.4" y="271.2" width="1.6" height="2.4" fill="#000"/><rect x="425.8" y="271.2" width="1.6" height="2.4" fill="#000"/><rect x="429.5" y="271.2" width="1.6" height="2.4" fill="#000"/><rect x="432.2" y="271.2" width="1.6" height="2.4" fill="#000"/><rect x="441.8" y="271.2" width="1.6" height="2.4" fill="#000"/><rect x="446.8" y="271.2" width="1.6" height="2.4" fill="#000"/><rect x="450.3" y="271.2" width="1.6" height="2.4" fill="#000"/><rect x="453" y="271.2" width="1.6" height="2.4" fill="#000"/><rect x="457.1" y="271.2" width="1.6" height="2.4" fill="#000"/><rect x="460.1" y="271.2" width="1.6" height="2.4" fill="#000"/><rect x="356.9" y="271.2" width="1.6" height="2.4" fill="#000"/><rect x="361.8" y="271.2" width="1.6" height="2.4" fill="#000"/><rect x="371.6" y="271.2" width="1.6" height="2.4" fill="#000"/><rect x="376.5" y="271.2" width="1.6" height="2.4" fill="#000"/><rect x="366.7" y="271.2" width="1.6" height="2.8" fill="#000"/><rect x="381.4" y="271.2" width="1.6" height="2.8" fill="#000"/><rect x="408.2" y="271.2" width="1.6" height="2.8" fill="#000"/><rect x="433.4" y="271.2" width="1.6" height="2.8" fill="#000"/><rect x="461.4" y="271.2" width="1.6" height="2.8" fill="#000"/><text x="31" y="43.2" font-size="13">10</text><text x="46.2" y="38.5" font-size="8.2">5</text><text x="31" y="68.9" font-size="13">10</text><text x="46.2" y="64.2" font-size="8.2">4</text><text x="31" y="98.8" font-size="13">10</text><text x="46.2" y="94.1" font-size="8.2">3</text><text x="31" y="121.1" font-size="13">10</text><text x="46.2" y="116.4" font-size="8.2">2</text><text x="38.7" y="133.5" font-size="13">0</text><text x="31" y="174.2" font-size="13">10</text><text x="46.2" y="169.5" font-size="8.2">5</text><text x="31" y="199.9" font-size="13">10</text><text x="46.2" y="195.2" font-size="8.2">4</text><text x="31" y="229.3" font-size="13">10</text><text x="46.2" y="224.6" font-size="8.2">3</text><text x="31" y="252.1" font-size="13">10</text><text x="46.2" y="247.4" font-size="8.2">2</text><text x="38.7" y="263.1" font-size="13">0</text><text x="205" y="47.2" font-size="12.8">10</text><text x="220" y="42.6" font-size="8.2">5</text><text x="205" y="72.7" font-size="12.8">10</text><text x="220" y="68.1" font-size="8.2">4</text><text x="205" y="102.2" font-size="12.8">10</text><text x="220" y="97.6" font-size="8.2">3</text><text x="205" y="127" font-size="12.8">10</text><text x="220" y="122.4" font-size="8.2">2</text><text x="212.2" y="136.7" font-size="12.8">0</text><text x="205" y="162" font-size="12.8">10</text><text x="220" y="157.4" font-size="8.2">5</text><text x="205" y="194.3" font-size="12.8">10</text><text x="220" y="189.7" font-size="8.2">4</text><text x="205" y="224.5" font-size="12.8">10</text><text x="220" y="219.9" font-size="8.2">3</text><text x="205" y="247.5" font-size="12.8">10</text><text x="220" y="242.9" font-size="8.2">2</text><text x="212.2" y="258.3" font-size="12.8">0</text><text x="67.1" y="295.5" font-size="13">0</text><text x="75.8" y="295.5" font-size="13">10</text><text x="91" y="290.8" font-size="8.2">2</text><text x="102" y="295.5" font-size="13">10</text><text x="117.2" y="290.8" font-size="8.2">3</text><text x="125.9" y="295.5" font-size="13">10</text><text x="141.1" y="290.8" font-size="8.2">4</text><text x="156.4" y="295.5" font-size="13">10</text><text x="171.6" y="290.8" font-size="8.2">5</text><text x="238.7" y="291.1" font-size="12.5">0</text><text x="246.6" y="291.1" font-size="12.5">10</text><text x="261.3" y="286.7" font-size="8.2">2</text><text x="273.8" y="291.1" font-size="12.5">10</text><text x="288.5" y="286.7" font-size="8.2">3</text><text x="299.2" y="291.1" font-size="12.5">10</text><text x="313.9" y="286.7" font-size="8.2">4</text><text x="326.9" y="291.1" font-size="12.5">10</text><text x="341.6" y="286.7" font-size="8.2">5</text><text x="363.8" y="291.1" font-size="12.5">0</text><text x="371.7" y="291.1" font-size="12.5">10</text><text x="386.4" y="286.7" font-size="8.2">2</text><text x="398.9" y="291.1" font-size="12.5">10</text><text x="413.6" y="286.7" font-size="8.2">3</text><text x="424.3" y="291.1" font-size="12.5">10</text><text x="439" y="286.7" font-size="8.2">4</text><text x="452" y="291.1" font-size="12.5">10</text><text x="466.7" y="286.7" font-size="8.2">5</text><text x="59.7" y="13.4" font-size="18.5" textLength="110.7" lengthAdjust="spacingAndGlyphs">Unstimulated</text><text x="246.8" y="13.5" font-size="18.5" textLength="90.7" lengthAdjust="spacingAndGlyphs">No peptide</text><text x="382" y="13.8" font-size="18.5" textLength="49.6" lengthAdjust="spacingAndGlyphs">eGFP</text><text x="431.8" y="18.3" font-size="11.5" textLength="42.4" lengthAdjust="spacingAndGlyphs">200-208</text><text x="61.6" y="51" font-size="18.5" textLength="43.1" lengthAdjust="spacingAndGlyphs">rAAV</text><text x="146.5" y="46.4" font-size="18.5" textLength="25.8" lengthAdjust="spacingAndGlyphs">.33</text><text x="62.4" y="178.8" font-size="18.5" textLength="28.6" lengthAdjust="spacingAndGlyphs">rAd</text><text x="147" y="171.6" font-size="18.5" textLength="25.5" lengthAdjust="spacingAndGlyphs">1.8</text><text x="324.1" y="46.4" font-size="18.5" textLength="23.7" lengthAdjust="spacingAndGlyphs">.01</text><text x="440.1" y="46.4" font-size="18.5" textLength="33.5" lengthAdjust="spacingAndGlyphs">0.21</text><text x="320.4" y="171.3" font-size="18.5" textLength="26.3" lengthAdjust="spacingAndGlyphs">.03</text><text x="437.8" y="171.4" font-size="18.5" textLength="35.1" lengthAdjust="spacingAndGlyphs">1.17</text><text x="475.3" y="118.1" font-size="18.5" textLength="43.7" lengthAdjust="spacingAndGlyphs">rAAV</text><text x="480.7" y="201.6" font-size="18.5" textLength="29.3" lengthAdjust="spacingAndGlyphs">rAd</text><text x="92.5" y="329.9" font-size="18.5" textLength="37.4" lengthAdjust="spacingAndGlyphs">CD8</text><text x="312.9" y="329.4" font-size="18.5" textLength="42.4" lengthAdjust="spacingAndGlyphs">IFN-γ</text><g transform="translate(13.6,262.2) rotate(-90) scale(1.035,1)"><text x="0" y="0" font-size="18.3">H-2K<tspan font-size="11" dy="-7">d</tspan><tspan dy="7"> eGFP</tspan><tspan font-size="11" dy="4.5">200-208</tspan><tspan dy="-4.5"> tetramer</tspan></text></g><g transform="translate(201.0,178.4) rotate(-90)"><text x="0" y="0" font-size="19.2">CD107a/b</text></g><path d="M21.8,38 V307.2 H166.5" fill="none" stroke="#5a5a5a" stroke-width="1.5"/><path d="M22,26.4 L28.1,38.6 L16,38.6 Z" fill="#000"/><path d="M178.2,308 L166,302.1 L166,313.9 Z" fill="#000"/><path d="M228.3,306.3 H466.5" fill="none" stroke="#5a5a5a" stroke-width="1.5"/><path d="M478.4,306.6 L466,300.8 L466,312.5 Z" fill="#000"/></svg></body></html>
